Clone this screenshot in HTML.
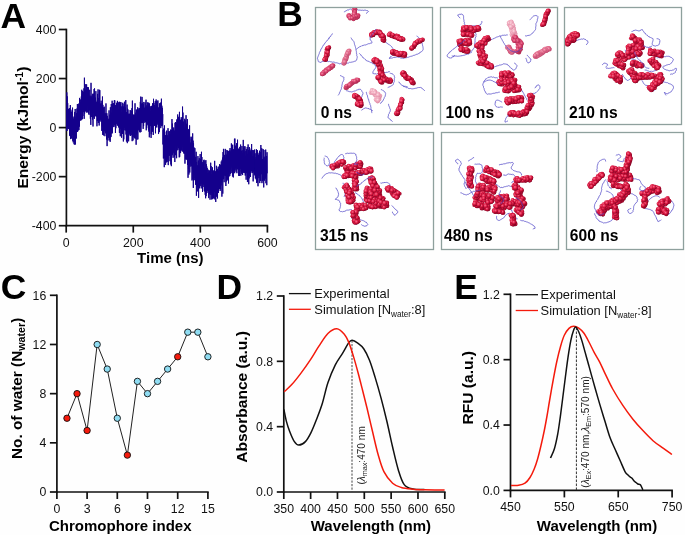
<!DOCTYPE html>
<html><head><meta charset="utf-8"><style>
html,body{margin:0;padding:0;background:#fff;}
svg{display:block;font-family:"Liberation Sans", sans-serif;will-change:transform;}
</style></head><body>
<svg width="685" height="535" viewBox="0 0 685 535">
<rect width="685" height="535" fill="#fefefe"/>
<text x="0.5" y="28.1" font-size="35.4" font-weight="bold" text-anchor="start" fill="#000" >A</text>
<text x="277.2" y="25.9" font-size="35.4" font-weight="bold" text-anchor="start" fill="#000" >B</text>
<text x="0.8" y="299.1" font-size="35.4" font-weight="bold" text-anchor="start" fill="#000" >C</text>
<text x="216.6" y="298.9" font-size="35.4" font-weight="bold" text-anchor="start" fill="#000" >D</text>
<text x="454.2" y="298.9" font-size="35.4" font-weight="bold" text-anchor="start" fill="#000" >E</text>
<line x1="66.4" y1="28.7" x2="66.4" y2="226.4" stroke="#111" stroke-width="1.7" />
<line x1="65.6" y1="225.6" x2="268.2" y2="225.6" stroke="#111" stroke-width="1.7" />
<line x1="58.8" y1="29.5" x2="66.4" y2="29.5" stroke="#111" stroke-width="1.7" />
<text x="56.4" y="33.8" font-size="12.3" font-weight="normal" text-anchor="end" fill="#111" >400</text>
<line x1="58.8" y1="78.55" x2="66.4" y2="78.55" stroke="#111" stroke-width="1.7" />
<text x="56.4" y="82.85" font-size="12.3" font-weight="normal" text-anchor="end" fill="#111" >200</text>
<line x1="58.8" y1="127.6" x2="66.4" y2="127.6" stroke="#111" stroke-width="1.7" />
<text x="56.4" y="131.9" font-size="12.3" font-weight="normal" text-anchor="end" fill="#111" >0</text>
<line x1="58.8" y1="176.65" x2="66.4" y2="176.65" stroke="#111" stroke-width="1.7" />
<text x="56.4" y="180.95" font-size="12.3" font-weight="normal" text-anchor="end" fill="#111" >-200</text>
<line x1="58.8" y1="225.7" x2="66.4" y2="225.7" stroke="#111" stroke-width="1.7" />
<text x="56.4" y="230" font-size="12.3" font-weight="normal" text-anchor="end" fill="#111" >-400</text>
<line x1="66.2" y1="225.6" x2="66.2" y2="232.6" stroke="#111" stroke-width="1.7" />
<text x="66.2" y="246.7" font-size="12.3" font-weight="normal" text-anchor="middle" fill="#111" >0</text>
<line x1="133.27" y1="225.6" x2="133.27" y2="232.6" stroke="#111" stroke-width="1.7" />
<text x="133.27" y="246.7" font-size="12.3" font-weight="normal" text-anchor="middle" fill="#111" >200</text>
<line x1="200.33" y1="225.6" x2="200.33" y2="232.6" stroke="#111" stroke-width="1.7" />
<text x="200.33" y="246.7" font-size="12.3" font-weight="normal" text-anchor="middle" fill="#111" >400</text>
<line x1="267.4" y1="225.6" x2="267.4" y2="232.6" stroke="#111" stroke-width="1.7" />
<text x="267.4" y="246.7" font-size="12.3" font-weight="normal" text-anchor="middle" fill="#111" >600</text>
<text x="170.3" y="263.4" font-size="15" font-weight="bold" text-anchor="middle" fill="#000" >Time (ns)</text>
<text transform="translate(27.9,127.6) rotate(-90) scale(1.04,1)" font-size="15" font-weight="bold" text-anchor="middle" fill="#000">Energy (kJmol<tspan font-size="10" dy="-5">-1</tspan><tspan dy="5">)</tspan></text>
<polyline fill="none" stroke="#14008c" stroke-width="1" stroke-linejoin="bevel" points="66.6,131.1 66.82,92.35 67.04,130.96 67.26,96.38 67.48,128.44 67.7,103.12 67.92,124.18 68.14,109.26 68.36,129.08 68.58,108.85 68.8,126.76 69.02,109.85 69.24,128.88 69.46,108.2 69.68,135.61 69.9,113.36 70.12,136.12 70.34,105.06 70.56,139.1 70.78,112.33 71,138.98 71.22,114.36 71.44,137.94 71.66,111.69 71.88,131.91 72.1,109.69 72.32,135.01 72.54,107.64 72.76,140.74 72.98,117.06 73.2,142.32 73.42,118.68 73.64,139.6 73.86,121.3 74.08,144.23 74.3,116.01 74.52,144.49 74.74,112.09 74.96,135.5 75.18,108.97 75.4,144.53 75.62,119.01 75.84,138.35 76.06,116.7 76.28,138.48 76.5,113.15 76.72,131.55 76.94,108.52 77.16,131.91 77.38,104 77.6,131.93 77.82,110.68 78.04,130.67 78.26,109.77 78.48,129.22 78.7,103.63 78.92,130.04 79.14,105.87 79.36,126.63 79.58,97.91 79.8,118.01 80.02,99.32 80.24,120.69 80.46,102.29 80.68,119.89 80.9,99.83 81.12,120.32 81.34,96.44 81.56,111.81 81.78,89.74 82,119.41 82.22,94.38 82.44,118.94 82.66,90.99 82.88,116.02 83.1,92.01 83.32,109.34 83.54,92.27 83.76,112.12 83.98,88.35 84.2,118.82 84.42,77.7 84.64,113.5 84.86,90.27 85.08,106.67 85.3,90.8 85.52,111.4 85.74,84.2 85.96,110.38 86.18,89.05 86.4,111.55 86.62,84.42 86.84,112.67 87.06,92.34 87.28,105.7 87.5,87.19 87.72,112.21 87.94,87.32 88.16,111.01 88.38,87.42 88.6,113.63 88.82,95.81 89.04,114.83 89.26,97.77 89.48,110.16 89.7,89.77 89.92,110.43 90.14,95.73 90.36,118.69 90.58,97.11 90.8,124.9 91.02,82.83 91.24,111.7 91.46,97.55 91.68,116.95 91.9,95.7 92.12,112.31 92.34,98.19 92.56,119.51 92.78,93.86 93,126.48 93.22,93.65 93.44,112.47 93.66,94.67 93.88,117.3 94.1,89.06 94.32,118.86 94.54,88.36 94.76,115.09 94.98,99.67 95.2,116.01 95.42,97.61 95.64,115.72 95.86,91.16 96.08,116.63 96.3,102.4 96.52,116.1 96.74,102.31 96.96,126.29 97.18,100.68 97.4,121.02 97.62,93.92 97.84,115.67 98.06,89.38 98.28,122.82 98.5,102.51 98.72,122.86 98.94,97.98 99.16,125.51 99.38,89.78 99.6,120.81 99.82,90.15 100.04,120.26 100.26,103.61 100.48,118.63 100.7,103.77 100.92,121.61 101.14,100.71 101.36,119.62 101.58,105.6 101.8,130.88 102.02,103.11 102.24,126.48 102.46,96.5 102.68,134.85 102.9,104.88 103.12,126.63 103.34,111.84 103.56,135.41 103.78,107.45 104,130.05 104.22,106.71 104.44,131.06 104.66,113.54 104.88,136.2 105.1,116.31 105.32,132.1 105.54,113.41 105.76,133.39 105.98,103.41 106.2,132.13 106.42,113.82 106.64,139.53 106.86,113.26 107.08,146.11 107.3,115.86 107.52,132.98 107.74,119.42 107.96,140.47 108.18,118.76 108.4,137.73 108.62,120.17 108.84,135.84 109.06,110.37 109.28,133.21 109.5,118.86 109.72,140.4 109.94,114.65 110.16,141.85 110.38,107.29 110.6,137.3 110.82,112.94 111.04,136.86 111.26,104.02 111.48,130.8 111.7,112.71 111.92,133.63 112.14,100.73 112.36,132.75 112.58,103.68 112.8,122.2 113.02,107.57 113.24,123.1 113.46,103.19 113.68,127.1 113.9,106.05 114.12,124.83 114.34,100.28 114.56,124.33 114.78,100.36 115,126.64 115.22,105.89 115.44,132.95 115.66,105.04 115.88,128.23 116.1,107.96 116.32,123.41 116.54,102.8 116.76,123.65 116.98,106.29 117.2,125.46 117.42,100.87 117.64,125.24 117.86,101.87 118.08,125.64 118.3,102.5 118.52,127.08 118.74,109.29 118.96,127.66 119.18,111.97 119.4,132.86 119.62,101.8 119.84,127.02 120.06,102.35 120.28,136.27 120.5,104 120.72,128.74 120.94,102.12 121.16,127.87 121.38,112.31 121.6,137.71 121.82,106.67 122.04,128.15 122.26,106.01 122.48,134 122.7,102.81 122.92,129.92 123.14,110.59 123.36,141.48 123.58,106.58 123.8,139.36 124.02,103.71 124.24,130.3 124.46,101.73 124.68,127.23 124.9,107.12 125.12,127.7 125.34,108.49 125.56,130.46 125.78,100.06 126,134.51 126.22,112.31 126.44,141.51 126.66,112.3 126.88,138.9 127.1,104.59 127.32,143.15 127.54,108.68 127.76,131.24 127.98,109.54 128.2,133 128.42,114.8 128.64,141.33 128.86,113.77 129.08,132.29 129.3,113.75 129.52,133.5 129.74,114.54 129.96,135.42 130.18,110.02 130.4,135.82 130.62,113.93 130.84,131 131.06,110.87 131.28,135.29 131.5,116.71 131.72,131.7 131.94,108.15 132.16,141.16 132.38,100.62 132.6,137.15 132.82,115.34 133.04,140.41 133.26,115.32 133.48,135.02 133.7,114.52 133.92,137.25 134.14,117.06 134.36,137.2 134.58,114.76 134.8,138.16 135.02,103.29 135.24,138.73 135.46,112.75 135.68,131.59 135.9,116.85 136.12,144.74 136.34,109.74 136.56,134.51 136.78,117.21 137,139.52 137.22,109.13 137.44,133.25 137.66,107.26 137.88,139.35 138.1,109.5 138.32,130.33 138.54,110.85 138.76,128.98 138.98,108.25 139.2,127.71 139.42,108.27 139.64,131.95 139.86,112.41 140.08,132.47 140.3,101.85 140.52,127.22 140.74,96.61 140.96,132.02 141.18,103.48 141.4,122.91 141.62,104.76 141.84,123.11 142.06,96.91 142.28,122.89 142.5,102.95 142.72,121.57 142.94,105.65 143.16,128.88 143.38,104.36 143.6,126.08 143.82,101.95 144.04,122.96 144.26,107.88 144.48,120.23 144.7,107.76 144.92,121.57 145.14,102.46 145.36,122.33 145.58,106.66 145.8,119.06 146.02,99.68 146.24,130.31 146.46,107.21 146.68,127.87 146.9,105.33 147.12,124.47 147.34,102.33 147.56,120.61 147.78,107.9 148,125.32 148.22,108 148.44,129.53 148.66,102.6 148.88,131.59 149.1,105.62 149.32,137.29 149.54,103.45 149.76,134.13 149.98,107.69 150.2,125.56 150.42,110.93 150.64,126.05 150.86,106.22 151.08,137.93 151.3,106.48 151.52,134.15 151.74,105.84 151.96,123.4 152.18,109.53 152.4,131.73 152.62,103.2 152.84,126.46 153.06,107.39 153.28,135.01 153.5,98.79 153.72,120.56 153.94,103.05 154.16,122.59 154.38,104.95 154.6,125.72 154.82,105.71 155.04,125.89 155.26,101.16 155.48,133.34 155.7,107.28 155.92,123.99 156.14,99.48 156.36,126.69 156.58,101.7 156.8,127.5 157.02,101.02 157.24,124.6 157.46,103.68 157.68,122.18 157.9,100.45 158.12,122.74 158.34,107.4 158.56,134.04 158.78,109.01 159,127.99 159.22,108.47 159.44,132.11 159.66,103.19 159.88,124.83 160.1,104.56 160.32,124.45 160.54,102.66 160.76,128.13 160.98,103.74 161.2,124.62 161.42,98.7 161.64,126.11 161.86,105.71 162.08,126.14 162.3,107.79 162.52,124.61 162.74,114.13 162.96,144.48 163.18,130.02 163.4,158.48 163.62,128.58 163.84,154.35 164.06,133.82 164.28,167.18 164.5,125.45 164.72,158.04 164.94,137.2 165.16,157.23 165.38,135.35 165.6,164.89 165.82,135.19 166.04,159.85 166.26,131.66 166.48,162.4 166.7,130.62 166.92,159.79 167.14,135.04 167.36,158.32 167.58,136.61 167.8,161.84 168.02,128.19 168.24,165.11 168.46,138.17 168.68,153.71 168.9,131.24 169.12,155.89 169.34,134.75 169.56,155.11 169.78,131.21 170,161.21 170.22,134.7 170.44,155.39 170.66,129.57 170.88,164.5 171.1,134.52 171.32,166.15 171.54,130.11 171.76,153.22 171.98,119.12 172.2,155.22 172.42,123.59 172.64,153.97 172.86,134.34 173.08,157.84 173.3,128.68 173.52,152.51 173.74,127.48 173.96,151.56 174.18,131.1 174.4,156.84 174.62,130.53 174.84,162.02 175.06,122.8 175.28,145.96 175.5,122.2 175.72,155.18 175.94,124.26 176.16,151.32 176.38,122.69 176.6,158.21 176.82,119.41 177.04,150.4 177.26,126.32 177.48,146.11 177.7,114.47 177.92,149.95 178.14,118.19 178.36,147.71 178.58,117.41 178.8,148.25 179.02,116.65 179.24,157.36 179.46,111.83 179.68,156.92 179.9,119.46 180.12,148.68 180.34,121.81 180.56,153.07 180.78,119.98 181,150.87 181.22,117.18 181.44,149.27 181.66,119.22 181.88,150.15 182.1,121.58 182.32,151.64 182.54,106.58 182.76,144.67 182.98,112.56 183.2,146.59 183.42,121.58 183.64,152.62 183.86,127.14 184.08,153.85 184.3,128.3 184.52,153.2 184.74,118.79 184.96,163.64 185.18,120.19 185.4,150.88 185.62,122.82 185.84,159.31 186.06,115.21 186.28,159.44 186.5,123.9 186.72,155.25 186.94,135.11 187.16,160.05 187.38,119.17 187.6,164.94 187.82,138.47 188.04,177.82 188.26,129.85 188.48,168.91 188.7,129.42 188.92,174.57 189.14,128.9 189.36,164.97 189.58,125.38 189.8,172.53 190.02,136.71 190.24,166.59 190.46,143.75 190.68,162.86 190.9,142.44 191.12,164.46 191.34,138.75 191.56,166.27 191.78,136.74 192,180.46 192.22,147.1 192.44,169.17 192.66,133.39 192.88,179.48 193.1,140.64 193.32,187.9 193.54,143.32 193.76,180.21 193.98,147.37 194.2,180.15 194.42,155.18 194.64,174.33 194.86,148.13 195.08,178.17 195.3,159.2 195.52,184.72 195.74,156.84 195.96,182.09 196.18,151.79 196.4,195.75 196.62,161.99 196.84,184.91 197.06,167.27 197.28,186.71 197.5,165.47 197.72,191.43 197.94,156.08 198.16,185.13 198.38,160.57 198.6,197.9 198.82,162.76 199.04,185.8 199.26,158.21 199.48,188.3 199.7,165.96 199.92,184.59 200.14,154.04 200.36,183.23 200.58,158.96 200.8,186.11 201.02,168.04 201.24,188.42 201.46,151.77 201.68,183.44 201.9,157.04 202.12,182.49 202.34,162.17 202.56,191.92 202.78,168.19 203,184.97 203.22,164.34 203.44,183.53 203.66,160.29 203.88,186.99 204.1,159.72 204.32,190.79 204.54,167.26 204.76,191.54 204.98,161.25 205.2,194.82 205.42,168.91 205.64,198.27 205.86,160.11 206.08,196.15 206.3,164.2 206.52,193.42 206.74,166.35 206.96,193.03 207.18,167.97 207.4,190.36 207.62,173.33 207.84,190.92 208.06,169.62 208.28,191.49 208.5,172.76 208.72,198.1 208.94,170.37 209.16,194.42 209.38,170.59 209.6,192.2 209.82,173.22 210.04,199.7 210.26,171.6 210.48,193.29 210.7,162.71 210.92,195.04 211.14,166.05 211.36,192.95 211.58,174.61 211.8,199.52 212.02,169.49 212.24,198.82 212.46,167.36 212.68,198.43 212.9,172.11 213.12,198.47 213.34,170.44 213.56,197.47 213.78,172.58 214,198.27 214.22,171.34 214.44,191.56 214.66,160.85 214.88,199.4 215.1,175.16 215.32,191.09 215.54,171.67 215.76,201.96 215.98,170.9 216.2,196.72 216.42,165.79 216.64,194.31 216.86,169.98 217.08,196.32 217.3,168.86 217.52,198.46 217.74,171.9 217.96,189.98 218.18,166.72 218.4,193.02 218.62,171.21 218.84,189.08 219.06,166.66 219.28,187.06 219.5,164.25 219.72,189 219.94,165.68 220.16,190.91 220.38,164.7 220.6,189.09 220.82,169.6 221.04,185.46 221.26,161.41 221.48,182.36 221.7,164.75 221.92,196.65 222.14,159.81 222.36,179.06 222.58,157.55 222.8,193.64 223.02,152.09 223.24,179.2 223.46,148.87 223.68,178.54 223.9,156.01 224.12,182.2 224.34,154.87 224.56,175.44 224.78,157.23 225,173.24 225.22,148.89 225.44,176.03 225.66,158.86 225.88,186 226.1,149.91 226.32,181.54 226.54,155.52 226.76,174.41 226.98,154.31 227.2,180.43 227.42,150.4 227.64,179.25 227.86,151.33 228.08,175.51 228.3,156.66 228.52,183.5 228.74,150.89 228.96,176.61 229.18,153.36 229.4,172.09 229.62,150.56 229.84,175.87 230.06,148.04 230.28,173.98 230.5,152.11 230.72,168.31 230.94,150.49 231.16,173.13 231.38,143.4 231.6,166.31 231.82,152.17 232.04,171.26 232.26,145.49 232.48,176.5 232.7,144.68 232.92,174.71 233.14,151.74 233.36,177.41 233.58,149.62 233.8,165.81 234.02,148.97 234.24,172.8 234.46,138.87 234.68,173.19 234.9,138.54 235.12,169.77 235.34,145.6 235.56,167.81 235.78,150.19 236,171.67 236.22,150.38 236.44,168.1 236.66,143.04 236.88,173.21 237.1,144.1 237.32,169.4 237.54,139.68 237.76,164.98 237.98,150.21 238.2,168.21 238.42,148.66 238.64,175.84 238.86,152.02 239.08,167.07 239.3,148.83 239.52,175.98 239.74,146.89 239.96,168.8 240.18,153.28 240.4,168.39 240.62,144.57 240.84,175.74 241.06,151.2 241.28,171.53 241.5,150.73 241.72,173.63 241.94,146.05 242.16,173.58 242.38,153.46 242.6,175.06 242.82,150.24 243.04,172.38 243.26,139.9 243.48,172.61 243.7,148.04 243.92,172.05 244.14,146.31 244.36,172.42 244.58,151.89 244.8,173.06 245.02,146.33 245.24,175.59 245.46,155.91 245.68,174.54 245.9,151.03 246.12,179.71 246.34,149.15 246.56,172.69 246.78,152.48 247,169.78 247.22,147.08 247.44,182.04 247.66,154.56 247.88,181.93 248.1,144.4 248.32,177.94 248.54,149.94 248.76,184.25 248.98,154.47 249.2,178.33 249.42,147.14 249.64,176 249.86,155.28 250.08,175.5 250.3,152.33 250.52,177 250.74,150.34 250.96,173.11 251.18,148.52 251.4,170.6 251.62,144.04 251.84,171.43 252.06,149.93 252.28,170.44 252.5,156.46 252.72,172.97 252.94,150.22 253.16,181.38 253.38,156.73 253.6,170.66 253.82,150.21 254.04,171.82 254.26,154.71 254.48,174.35 254.7,149.5 254.92,175.45 255.14,153.28 255.36,178.49 255.58,159.57 255.8,174.48 256.02,157.12 256.24,179.57 256.46,149.28 256.68,183.02 256.9,151.99 257.12,177.53 257.34,150.12 257.56,182.4 257.78,153.7 258,186.28 258.22,155.74 258.44,175.25 258.66,154.9 258.88,178.11 259.1,152.75 259.32,176 259.54,150.7 259.76,183.08 259.98,157.88 260.2,175.1 260.42,152.2 260.64,180.94 260.86,145.01 261.08,172.91 261.3,155.65 261.52,174.23 261.74,148.19 261.96,183.15 262.18,159.57 262.4,181.1 262.62,159.14 262.84,179.45 263.06,148.99 263.28,179.84 263.5,157.67 263.72,187.42 263.94,150.02 264.16,177.53 264.38,161.62 264.6,180.64 264.82,156.71 265.04,178.88 265.26,158.86 265.48,177.57 265.7,149.59 265.92,183.28 266.14,159.96 266.36,176.27 266.58,156.01 266.8,185.2 267.02,152.22 267.24,173.34"/>
<line x1="56.9" y1="294.5" x2="56.9" y2="492.8" stroke="#111" stroke-width="1.7" />
<line x1="56.1" y1="492" x2="208.7" y2="492" stroke="#111" stroke-width="1.7" />
<line x1="49.9" y1="492" x2="56.9" y2="492" stroke="#111" stroke-width="1.7" />
<text x="46.3" y="496.3" font-size="12.3" font-weight="normal" text-anchor="end" fill="#111" >0</text>
<line x1="49.9" y1="442.82" x2="56.9" y2="442.82" stroke="#111" stroke-width="1.7" />
<text x="46.3" y="447.12" font-size="12.3" font-weight="normal" text-anchor="end" fill="#111" >4</text>
<line x1="49.9" y1="393.65" x2="56.9" y2="393.65" stroke="#111" stroke-width="1.7" />
<text x="46.3" y="397.95" font-size="12.3" font-weight="normal" text-anchor="end" fill="#111" >8</text>
<line x1="49.9" y1="344.48" x2="56.9" y2="344.48" stroke="#111" stroke-width="1.7" />
<text x="46.3" y="348.78" font-size="12.3" font-weight="normal" text-anchor="end" fill="#111" >12</text>
<line x1="49.9" y1="295.3" x2="56.9" y2="295.3" stroke="#111" stroke-width="1.7" />
<text x="46.3" y="299.6" font-size="12.3" font-weight="normal" text-anchor="end" fill="#111" >16</text>
<line x1="56.9" y1="492" x2="56.9" y2="499" stroke="#111" stroke-width="1.7" />
<text x="56.9" y="513.2" font-size="12.3" font-weight="normal" text-anchor="middle" fill="#111" >0</text>
<line x1="87.1" y1="492" x2="87.1" y2="499" stroke="#111" stroke-width="1.7" />
<text x="87.1" y="513.2" font-size="12.3" font-weight="normal" text-anchor="middle" fill="#111" >3</text>
<line x1="117.3" y1="492" x2="117.3" y2="499" stroke="#111" stroke-width="1.7" />
<text x="117.3" y="513.2" font-size="12.3" font-weight="normal" text-anchor="middle" fill="#111" >6</text>
<line x1="147.5" y1="492" x2="147.5" y2="499" stroke="#111" stroke-width="1.7" />
<text x="147.5" y="513.2" font-size="12.3" font-weight="normal" text-anchor="middle" fill="#111" >9</text>
<line x1="177.7" y1="492" x2="177.7" y2="499" stroke="#111" stroke-width="1.7" />
<text x="177.7" y="513.2" font-size="12.3" font-weight="normal" text-anchor="middle" fill="#111" >12</text>
<line x1="207.9" y1="492" x2="207.9" y2="499" stroke="#111" stroke-width="1.7" />
<text x="207.9" y="513.2" font-size="12.3" font-weight="normal" text-anchor="middle" fill="#111" >15</text>
<text x="120.3" y="530.8" font-size="15" font-weight="bold" text-anchor="middle" fill="#000" >Chromophore index</text>
<text transform="translate(22.3,388.4) rotate(-90) scale(1.025,1)" font-size="15" font-weight="bold" text-anchor="middle" fill="#000">No. of water (N<tspan font-size="10.4" dy="3">water</tspan><tspan dy="-3">)</tspan></text>
<polyline fill="none" stroke="#222" stroke-width="1" points="66.97,418.24 77.03,393.65 87.1,430.53 97.17,344.48 107.23,369.06 117.3,418.24 127.37,455.12 137.43,381.36 147.5,393.65 157.57,381.36 167.63,369.06 177.7,356.77 187.77,332.18 197.83,332.18 207.9,356.77"/>
<circle cx="66.97" cy="418.24" r="3.2" fill="#f41a0c" stroke="#111" stroke-width="0.9"/>
<circle cx="77.03" cy="393.65" r="3.2" fill="#f41a0c" stroke="#111" stroke-width="0.9"/>
<circle cx="87.1" cy="430.53" r="3.2" fill="#f41a0c" stroke="#111" stroke-width="0.9"/>
<circle cx="97.17" cy="344.48" r="3.2" fill="#8fdcf2" stroke="#111" stroke-width="0.9"/>
<circle cx="107.23" cy="369.06" r="3.2" fill="#8fdcf2" stroke="#111" stroke-width="0.9"/>
<circle cx="117.3" cy="418.24" r="3.2" fill="#8fdcf2" stroke="#111" stroke-width="0.9"/>
<circle cx="127.37" cy="455.12" r="3.2" fill="#f41a0c" stroke="#111" stroke-width="0.9"/>
<circle cx="137.43" cy="381.36" r="3.2" fill="#8fdcf2" stroke="#111" stroke-width="0.9"/>
<circle cx="147.5" cy="393.65" r="3.2" fill="#8fdcf2" stroke="#111" stroke-width="0.9"/>
<circle cx="157.57" cy="381.36" r="3.2" fill="#8fdcf2" stroke="#111" stroke-width="0.9"/>
<circle cx="167.63" cy="369.06" r="3.2" fill="#8fdcf2" stroke="#111" stroke-width="0.9"/>
<circle cx="177.7" cy="356.77" r="3.2" fill="#f41a0c" stroke="#111" stroke-width="0.9"/>
<circle cx="187.77" cy="332.18" r="3.2" fill="#8fdcf2" stroke="#111" stroke-width="0.9"/>
<circle cx="197.83" cy="332.18" r="3.2" fill="#8fdcf2" stroke="#111" stroke-width="0.9"/>
<circle cx="207.9" cy="356.77" r="3.2" fill="#8fdcf2" stroke="#111" stroke-width="0.9"/>
<line x1="283.8" y1="295.2" x2="283.8" y2="492.8" stroke="#111" stroke-width="1.7" />
<line x1="283" y1="492" x2="445.6" y2="492" stroke="#111" stroke-width="1.7" />
<line x1="276.8" y1="492" x2="283.8" y2="492" stroke="#111" stroke-width="1.7" />
<text x="273.2" y="496.3" font-size="12.3" font-weight="normal" text-anchor="end" fill="#111" >0.0</text>
<line x1="276.8" y1="426.67" x2="283.8" y2="426.67" stroke="#111" stroke-width="1.7" />
<text x="273.2" y="430.97" font-size="12.3" font-weight="normal" text-anchor="end" fill="#111" >0.4</text>
<line x1="276.8" y1="361.33" x2="283.8" y2="361.33" stroke="#111" stroke-width="1.7" />
<text x="273.2" y="365.63" font-size="12.3" font-weight="normal" text-anchor="end" fill="#111" >0.8</text>
<line x1="276.8" y1="296" x2="283.8" y2="296" stroke="#111" stroke-width="1.7" />
<text x="273.2" y="300.3" font-size="12.3" font-weight="normal" text-anchor="end" fill="#111" >1.2</text>
<line x1="283.8" y1="492" x2="283.8" y2="499" stroke="#111" stroke-width="1.7" />
<text x="283.8" y="512.7" font-size="12.3" font-weight="normal" text-anchor="middle" fill="#111" >350</text>
<line x1="310.63" y1="492" x2="310.63" y2="499" stroke="#111" stroke-width="1.7" />
<text x="310.63" y="512.7" font-size="12.3" font-weight="normal" text-anchor="middle" fill="#111" >400</text>
<line x1="337.47" y1="492" x2="337.47" y2="499" stroke="#111" stroke-width="1.7" />
<text x="337.47" y="512.7" font-size="12.3" font-weight="normal" text-anchor="middle" fill="#111" >450</text>
<line x1="364.3" y1="492" x2="364.3" y2="499" stroke="#111" stroke-width="1.7" />
<text x="364.3" y="512.7" font-size="12.3" font-weight="normal" text-anchor="middle" fill="#111" >500</text>
<line x1="391.13" y1="492" x2="391.13" y2="499" stroke="#111" stroke-width="1.7" />
<text x="391.13" y="512.7" font-size="12.3" font-weight="normal" text-anchor="middle" fill="#111" >550</text>
<line x1="417.97" y1="492" x2="417.97" y2="499" stroke="#111" stroke-width="1.7" />
<text x="417.97" y="512.7" font-size="12.3" font-weight="normal" text-anchor="middle" fill="#111" >600</text>
<line x1="444.8" y1="492" x2="444.8" y2="499" stroke="#111" stroke-width="1.7" />
<text x="444.8" y="512.7" font-size="12.3" font-weight="normal" text-anchor="middle" fill="#111" >650</text>
<text x="370.9" y="531.2" font-size="15" font-weight="bold" text-anchor="middle" fill="#000" >Wavelength (nm)</text>
<text transform="translate(246.8,397) rotate(-90) scale(1.04,1)" font-size="15" font-weight="bold" text-anchor="middle" fill="#000">Absorbance (a.u.)</text>
<line x1="288.9" y1="293.6" x2="310.8" y2="293.6" stroke="#111" stroke-width="1.3" />
<line x1="288.9" y1="309.3" x2="310.8" y2="309.3" stroke="#f41a0c" stroke-width="1.3" />
<text x="314.3" y="298.2" font-size="12.9" font-weight="normal" text-anchor="start" fill="#111" >Experimental</text>
<text x="314.3" y="314" font-size="12.9" font-weight="normal" text-anchor="start" fill="#111" >Simulation [N<tspan font-size="8.2" dy="2.5">water</tspan><tspan dy="-2.5">:8]</tspan></text>
<line x1="352" y1="340.5" x2="352" y2="492" stroke="#444" stroke-width="1" stroke-dasharray="2.2,1.3"/>
<text transform="translate(364.6,484.6) rotate(-90)" font-size="10.1" fill="#222">(<tspan font-style="italic">λ</tspan><tspan font-size="7.2" dy="2">max</tspan><tspan dy="-2">:470 nm</tspan></text>
<path d="M283.9,409.5 C284.32,411.48 285.43,417.73 286.4,421.4 C287.37,425.07 288.4,428.17 289.7,431.5 C291,434.83 292.7,439.13 294.2,441.4 C295.7,443.67 296.83,445.07 298.7,445.1 C300.57,445.13 303.35,443.68 305.4,441.6 C307.45,439.52 309.13,436.33 311,432.6 C312.87,428.87 314.72,424.05 316.6,419.2 C318.48,414.35 320.42,409.57 322.3,403.5 C324.18,397.43 325.73,389.23 327.9,382.8 C330.07,376.37 332.82,369.88 335.3,364.9 C337.78,359.92 340.55,356.62 342.8,352.9 C345.05,349.18 347.25,344.7 348.8,342.6 C350.35,340.5 350.6,340.2 352.1,340.3 C353.6,340.4 355.87,341.8 357.8,343.2 C359.73,344.6 361.75,345.87 363.7,348.7 C365.65,351.53 367.58,355.38 369.5,360.2 C371.42,365.02 373.28,371.32 375.2,377.6 C377.12,383.88 379.07,390.67 381,397.9 C382.93,405.13 384.87,412.82 386.8,421 C388.73,429.18 390.67,438.8 392.6,447 C394.53,455.2 396.47,463.93 398.4,470.2 C400.33,476.47 401.78,481.47 404.2,484.6 C406.62,487.73 409.53,488.17 412.9,489 C416.27,489.83 422.48,489.5 424.4,489.6" fill="none" stroke="#111" stroke-width="1.5"/>
<path d="M284.2,391.8 C285.5,390.55 289.2,387.42 292,384.3 C294.8,381.18 298,377.08 301,373.1 C304,369.12 307.02,364.88 310,360.4 C312.98,355.92 315.92,350.68 318.9,346.2 C321.88,341.72 324.92,336.42 327.9,333.5 C330.88,330.58 334.07,328.58 336.8,328.7 C339.53,328.82 342.3,331.92 344.3,334.2 C346.3,336.48 347.3,338.78 348.8,342.4 C350.3,346.02 351.77,350.88 353.3,355.9 C354.83,360.92 356.47,366.82 358,372.5 C359.53,378.18 361,384.08 362.5,390 C364,395.92 365.35,401.17 367,408 C368.65,414.83 370.55,423.25 372.4,431 C374.25,438.75 376.18,447.73 378.1,454.5 C380.02,461.27 381.48,466.82 383.9,471.6 C386.32,476.38 389.7,480.55 392.6,483.2 C395.5,485.85 397.92,486.5 401.3,487.5 C404.68,488.5 409.05,488.82 412.9,489.2 C416.75,489.58 419.12,489.65 424.4,489.8 C429.68,489.95 441.23,490.05 444.6,490.1" fill="none" stroke="#f41a0c" stroke-width="1.5"/>
<line x1="510.5" y1="293.5" x2="510.5" y2="491.2" stroke="#111" stroke-width="1.7" />
<line x1="509.7" y1="490.4" x2="672.9" y2="490.4" stroke="#111" stroke-width="1.7" />
<line x1="503.5" y1="490.4" x2="510.5" y2="490.4" stroke="#111" stroke-width="1.7" />
<text x="499.9" y="494.7" font-size="12.3" font-weight="normal" text-anchor="end" fill="#111" >0.0</text>
<line x1="503.5" y1="425.03" x2="510.5" y2="425.03" stroke="#111" stroke-width="1.7" />
<text x="499.9" y="429.33" font-size="12.3" font-weight="normal" text-anchor="end" fill="#111" >0.4</text>
<line x1="503.5" y1="359.67" x2="510.5" y2="359.67" stroke="#111" stroke-width="1.7" />
<text x="499.9" y="363.97" font-size="12.3" font-weight="normal" text-anchor="end" fill="#111" >0.8</text>
<line x1="503.5" y1="294.3" x2="510.5" y2="294.3" stroke="#111" stroke-width="1.7" />
<text x="499.9" y="298.6" font-size="12.3" font-weight="normal" text-anchor="end" fill="#111" >1.2</text>
<line x1="510.5" y1="490.4" x2="510.5" y2="497.4" stroke="#111" stroke-width="1.7" />
<text x="510.5" y="511" font-size="12.3" font-weight="normal" text-anchor="middle" fill="#111" >450</text>
<line x1="564.37" y1="490.4" x2="564.37" y2="497.4" stroke="#111" stroke-width="1.7" />
<text x="564.37" y="511" font-size="12.3" font-weight="normal" text-anchor="middle" fill="#111" >550</text>
<line x1="618.23" y1="490.4" x2="618.23" y2="497.4" stroke="#111" stroke-width="1.7" />
<text x="618.23" y="511" font-size="12.3" font-weight="normal" text-anchor="middle" fill="#111" >650</text>
<line x1="672.1" y1="490.4" x2="672.1" y2="497.4" stroke="#111" stroke-width="1.7" />
<text x="672.1" y="511" font-size="12.3" font-weight="normal" text-anchor="middle" fill="#111" >750</text>
<text x="597" y="531" font-size="15" font-weight="bold" text-anchor="middle" fill="#000" >Wavelength (nm)</text>
<text transform="translate(472.9,387.8) rotate(-90) scale(1.04,1)" font-size="15" font-weight="bold" text-anchor="middle" fill="#000">RFU (a.u.)</text>
<line x1="515.7" y1="294.7" x2="538" y2="294.7" stroke="#111" stroke-width="1.3" />
<line x1="515.7" y1="310.5" x2="538" y2="310.5" stroke="#f41a0c" stroke-width="1.3" />
<text x="540.6" y="299.3" font-size="12.9" font-weight="normal" text-anchor="start" fill="#111" >Experimental</text>
<text x="540.6" y="315" font-size="12.9" font-weight="normal" text-anchor="start" fill="#111" >Simulation [N<tspan font-size="8.2" dy="2.5">water</tspan><tspan dy="-2.5">:8]</tspan></text>
<line x1="576.4" y1="327.5" x2="576.4" y2="490.4" stroke="#333" stroke-width="1" stroke-dasharray="2.6,1.4"/>
<text transform="translate(589.4,487.7) rotate(-90)" font-size="10.1" fill="#222">(<tspan font-style="italic">λ</tspan><tspan font-size="7.2" dy="2">Ex</tspan><tspan dy="-2">:470 nm,</tspan><tspan font-style="italic">λ</tspan><tspan font-size="7.2" dy="2">Em</tspan><tspan dy="-2">:570 nm)</tspan></text>
<path d="M511,485.4 C512.27,485.38 516.27,485.67 518.6,485.3 C520.93,484.93 523.1,484.5 525,483.2 C526.9,481.9 528.47,479.87 530,477.5 C531.53,475.13 532.93,472.08 534.2,469 C535.47,465.92 536.47,462.92 537.6,459 C538.73,455.08 539.88,450.25 541,445.5 C542.12,440.75 543.3,435.42 544.3,430.5 C545.3,425.58 546.13,420.92 547,416 C547.87,411.08 548.48,406.92 549.5,401 C550.52,395.08 551.88,387.08 553.1,380.5 C554.32,373.92 555.55,367.22 556.8,361.5 C558.05,355.78 559.35,350.57 560.6,346.2 C561.85,341.83 562.9,338.27 564.3,335.3 C565.7,332.33 567.45,329.9 569,328.4 C570.55,326.9 571.97,326.35 573.6,326.3 C575.23,326.25 577.07,326.93 578.8,328.1 C580.53,329.27 582.27,330.9 584,333.3 C585.73,335.7 587.47,339.23 589.2,342.5 C590.93,345.77 592.65,349.63 594.4,352.9 C596.15,356.17 597.92,358.65 599.7,362.1 C601.48,365.55 602.93,369.12 605.1,373.6 C607.27,378.08 609.75,383.7 612.7,389 C615.65,394.3 619.43,400.37 622.8,405.4 C626.17,410.43 629.55,415 632.9,419.2 C636.25,423.4 639.55,427.02 642.9,430.6 C646.25,434.18 649.63,437.77 653,440.7 C656.37,443.63 659.95,445.9 663.1,448.2 C666.25,450.5 670.43,453.45 671.9,454.5" fill="none" stroke="#f41a0c" stroke-width="1.5"/>
<path d="M550.5,458 C551.15,456.45 553.18,452.77 554.4,448.7 C555.62,444.63 556.82,438.92 557.8,433.6 C558.78,428.28 559.5,422.57 560.3,416.8 C561.1,411.03 561.78,405.38 562.6,399 C563.42,392.62 564.3,385.43 565.2,378.5 C566.1,371.57 567.07,363.72 568,357.4 C568.93,351.08 569.87,345.12 570.8,340.6 C571.73,336.08 572.77,332.55 573.6,330.3 C574.43,328.05 574.93,326.82 575.8,327.1 C576.67,327.38 577.77,329.67 578.8,332 C579.83,334.33 580.92,337.62 582,341.1 C583.08,344.58 584.2,348.97 585.3,352.9 C586.4,356.83 587.52,360.78 588.6,364.7 C589.68,368.62 590.73,372.57 591.8,376.4 C592.87,380.23 593.62,382.87 595,387.7 C596.38,392.53 598.42,399.72 600.1,405.4 C601.78,411.08 603.42,416.35 605.1,421.8 C606.78,427.25 608.52,433.48 610.2,438.1 C611.88,442.72 613.53,445.72 615.2,449.5 C616.87,453.28 618.52,457.02 620.2,460.8 C621.88,464.58 624,469.83 625.3,472.2 C626.6,474.57 627.17,474.17 628,475 C628.83,475.83 629.63,476.67 630.3,477.2 C630.97,477.73 631.37,477.57 632,478.2 C632.63,478.83 633.43,480.28 634.1,481 C634.77,481.72 635.37,482 636,482.5 C636.63,483 637.17,483.62 637.9,484 C638.63,484.38 639.57,483.83 640.4,484.8 C641.23,485.77 642.48,488.97 642.9,489.8" fill="none" stroke="#111" stroke-width="1.5"/>
<defs><radialGradient id="gr" cx="0.38" cy="0.35" r="0.7"><stop offset="0" stop-color="#f8708f"/><stop offset="0.5" stop-color="#dc163f"/><stop offset="1" stop-color="#7c0020"/></radialGradient><radialGradient id="gf0" cx="0.38" cy="0.35" r="0.7"><stop offset="0" stop-color="#f8b0c4"/><stop offset="0.5" stop-color="#e46a8e"/><stop offset="1" stop-color="#b8486c"/></radialGradient><radialGradient id="gm" cx="0.38" cy="0.35" r="0.7"><stop offset="0" stop-color="#f48aa4"/><stop offset="0.5" stop-color="#d8406c"/><stop offset="1" stop-color="#a8284e"/></radialGradient><radialGradient id="gf" cx="0.38" cy="0.35" r="0.7"><stop offset="0" stop-color="#f6a6bc"/><stop offset="0.5" stop-color="#e26c8c"/><stop offset="1" stop-color="#c04a70"/></radialGradient><radialGradient id="gff" cx="0.38" cy="0.35" r="0.7"><stop offset="0" stop-color="#fcd8e0"/><stop offset="0.5" stop-color="#f0a8bc"/><stop offset="1" stop-color="#dc88a2"/></radialGradient></defs>
<rect x="315.5" y="7.5" width="117" height="117" fill="#fff" stroke="#8ea09d" stroke-width="1.3"/>
<clipPath id="cp0"><rect x="316.2" y="8.2" width="115.6" height="115.6"/></clipPath>
<g clip-path="url(#cp0)">
<polyline fill="none" stroke="#5048c8" stroke-opacity="0.8" stroke-width="0.95" stroke-linejoin="round" points="343.9,11.9 344.5,11.7 344.7,11.6 345,11.3 345.8,11.1 346.1,10.6 346.8,10.5 347.8,9.8 348.6,10 349.2,9.6 349.6,9.1 350.5,9 350.9,9.1 351.4,9.2 352.2,9.4 352.8,9.3 353.5,9.4 354.1,9.3 355,9.7 355.5,9.7 355.9,9.5 356.6,9.6 357.5,9.8 358.1,9.9 358.8,10.2 359,10 360.1,10.2 360.8,10.2 361.1,10.3 362.2,10.2 362.6,10.2 363.8,10.4 364.1,10.2 364.8,10.2 365.8,10.2 366.3,10.4 366.7,10.6 367.1,10.7 367.5,10.6 367.8,10.7 368.5,11.4 367.9,12 367.2,12.4 366.8,13.1 366,13.6"/>
<polyline fill="none" stroke="#5048c8" stroke-opacity="0.8" stroke-width="0.95" stroke-linejoin="round" points="332.4,33.6 332.5,33.9 332,34.1 331.6,34.8 331.3,35.2 331,35.6 330.8,36.2 330.1,37 329.4,37.2 329.3,38.3 328.6,38.3 328.6,39.1 328,39.5 328,39.8 327.4,40 326.8,40.9 326.5,41.2 326.1,41.8 325.9,42 325.3,42.7 324.8,43 324.7,43.8 324.3,44.1 324.1,44.6 323.3,45.1 323.1,45.6 322.7,46.3 322.5,46.7 322.1,47.6 322.1,48 321.7,48.5 321.1,48.8 320.7,49.9 320.7,50.5 320.1,50.9 320,51.6 319.6,52.3 319.2,52.7 319.3,53.5 319,53.9 318.8,54.6 318.4,55.1 318.4,55.7 318,56.1 318.1,56.5 317.8,56.9 317.7,57.4 317.4,58.3 317.8,59.3 317.8,59.8 318.1,60.5 318.2,61.2 318.4,61.6 318.8,61.9 319.4,62 320,62.3 320.5,62.5 320.9,61.9 321.6,61.9 322.2,61.4 323.3,61.4 323.8,61.3 324.6,61.2 325.1,61.1 325.9,61.3 326.6,61.1 327,61.1 327.4,61.3 328.4,61.6 329,61.7 329.5,61.4 330.2,61.6 330.8,61.8 331.7,61.9 332.2,62.2 333.2,62.1 333.4,62 334.4,62.2 334.9,62.6 335.3,62.8 335.8,62.7 336.6,62.8 337.4,63 337.7,63.1 338.6,63.4 339.2,63.7 339.9,63.9 340.5,63.6 341,63.7 341.3,63.9 342.3,63.8 342.7,63.8 343.5,63.9 344.1,63.9 344.6,63.8 345.5,63.4 346.1,63.6 346.3,63.3 347.2,63.3 347.7,63 348.5,63 349.1,62.6 349.5,62.3 350.1,62.5 350.6,62.3 351.1,62.2 352.2,62.1 352.7,61.9 353.3,61.8 354.3,61.4 354.5,61.3 355.4,61.3 355.8,60.6 356.4,60.3 356.8,59.8 356.7,59.7 356.7,58.9 357,58.7 357.2,58.1 357.2,57.3 357.2,56.5 356.8,56 356.7,55.4 356.8,54.6 356.8,54 356.4,53.2 356.6,52.7 356.1,52.1 356.4,51.3 356.1,50.5 356,50 355.9,49.2 356,48.8 355.6,48.3 355.5,47.5 355.4,46.7 355.2,46.3 355.2,45.9 354.7,45.1 354.5,44.5 354.7,44.2 354.3,43.4 354,43 354.2,42.3 353.8,41.5 353.2,40.9 353,40.3 352.4,39.9 351.9,39.4 351.6,38.8 351.3,38.2 351.2,37.9 350.9,37.6"/>
<polyline fill="none" stroke="#5048c8" stroke-opacity="0.8" stroke-width="0.95" stroke-linejoin="round" points="359.3,53.3 359.6,53.7 359.8,53.9 360.4,54.4 360.6,54.9 361.2,55 361.4,55.8 361.7,56.2 362.1,56.6 362.8,57.1 363.2,58 363.9,58.3 364.6,58.8 365.1,59.3 365.5,59.4 365.8,60.1 366.1,60.6 366.7,60.7 367.3,61 368.1,61.1 368.9,61.5 369.2,61.9 369.7,61.9 370.4,62.3 370.8,62.6 371.3,62.5 371.8,62.7 372.2,63.4 372.7,63.7 373.6,63.7 374.4,64.6 374.5,65 375.1,65.3 375.8,65.7 375.8,66.6 376,67 376,67.6 375.6,67.8 375.2,68.6 374.6,69 374.2,69.7 373.7,70.6 373.3,71.1 373,71.7 372.9,72.3 372.9,73 372.9,73 372.9,73.5 373.6,73.6 373.8,73.5 374.5,73.8 375.1,73.9 375.9,73.7 376.3,74.1 377.4,74 377.7,73.6 378.6,73.7 379.5,73.5 380.2,73.5 380.7,73.7 381.6,73.6 382.1,73.5 382.7,73.3 383.6,73.4 384,72.9 385,72.9 385.7,72.5 386.2,72.4 387.1,72.2 387.6,72.3 388,71.9 388.8,71.9 389.1,71.5 389.3,71.6 389.6,71.1"/>
<polyline fill="none" stroke="#5048c8" stroke-opacity="0.8" stroke-width="0.95" stroke-linejoin="round" points="386,42.5 386.3,42.6 386.8,42.8 387,43.4 387.5,43.6 388.4,44.2 388.8,44.3 389.5,45 390.1,45.2 390.8,45.9 391.4,46.6 391.9,46.8 392.2,47.2 392.3,47.8 392.9,48.6 392.8,49 393,49.6 393.2,50.2 393.2,51 393.6,51.6 393.7,52.2 393.3,52.9 393.6,53.2 393.1,53.9 393.1,54.5 392.8,55.2 392.2,55.5 391.4,56.4 390.5,56.6 390.2,57.5 389.4,57.8 389.2,58.1 389.5,58.1 389.5,58.5 390,58.4 390.4,58.2 391.3,58.2 391.8,58 392.6,57.9 393.4,57.5 394.2,57.5 395,57.4 395.7,57.3 396.5,57 396.9,57 397.6,56.9 398,56.9 398.8,57.4 399.2,57.2 399.6,57.5 400.3,58 400.7,57.8 401.3,58.1 402.3,58 402.5,58.2 403.5,58.4 403.7,58 404.4,58 405,58.1 405.7,57.7 406.1,57.6 406.8,57.7 407.4,57.4 408.3,57.2 408.7,57.2 409.6,56.7 410,56.8 410.6,56.3 410.9,56.5 411.9,56 412.4,55.9 412.9,55.9 413.7,55.3 414,55.3 414.8,55.2 415.6,54.9 415.9,54.5 416.5,54.3 417.4,54.2 417.8,54.2 418.1,53.7 418.5,53.6 419,53.2 420,52.9 420.2,52.3 421.1,51.8 421.5,51.6 422.2,51.2 422.5,50.6 422.8,50.2 423.1,49.5 423.3,48.9 423.2,48.6 423,48.2 423,47.4 422.8,46.8 422.9,46.4 422.7,45.8 422.4,45 422.4,44.6 422.4,43.8 421.8,43 421.9,42.3 421.6,41.8 421.1,41.5 421.3,40.6 421,40.2 420.5,39.7 420,39 419.6,38.6 419,37.9 418.7,37.5 418.3,37.2 417.7,36.7 417.3,36.3 416.6,36 416.6,36"/>
<polyline fill="none" stroke="#5048c8" stroke-opacity="0.8" stroke-width="0.95" stroke-linejoin="round" points="340,75.2 340.6,75.7 341.2,75.8 341.5,76.2 342.3,76.6 343,76.9 343.8,77.2 344,77.7 343.7,78.2 344.2,79.1 343.9,79.4 343.7,80.3 343.3,80.8 343.3,81.2 342.7,82.1 342.4,82.7 342.4,83.3 342.2,83.9 342.1,84.6 342,85.1 341.8,85.8 341.9,86.6 341.5,87.2 341.4,87.9 341.4,88.6 341.1,89.3 341,89.9 340.6,90.3 340.4,91.2 340.1,91.6 339.8,92.5 339.4,92.7 339.3,93.7 339,94.2 338.7,94.5 338.5,94.9 338.1,95.4"/>
<polyline fill="none" stroke="#5048c8" stroke-opacity="0.8" stroke-width="0.95" stroke-linejoin="round" points="346.1,90.6 346.2,90.8 346.9,90.7 347.3,90.9 347.9,90.9 348.8,91.5 349.4,91.6 349.9,91.7 350.5,91.7 351.4,91.9 351.8,91.9 352.5,91.7 353.5,91.3 353.7,91.3 354.4,91 355.3,91.1 355.7,90.6 356.4,90.1 356.8,90.3 357.5,89.8 358.4,89.8 358.7,89.2 359.1,89.5 359.9,89.1 360.5,89.4 361,89.7 361.7,90.6 361.8,91 362.1,91.7 362.3,92 362.9,92.7 363,93.5 362.8,93.8 362.6,94.9 362.2,95.2 361.9,96 361.9,96.6 361.4,97.1 361.5,97.7"/>
<polyline fill="none" stroke="#5048c8" stroke-opacity="0.8" stroke-width="0.95" stroke-linejoin="round" points="380.9,89.7 381.5,89.7 382,89.8 382.3,90.1 382.9,90.5 383.8,90.9 384.2,91.4 384.6,91.9 385.1,92.1 385.3,92.9 385.7,93.4 385.3,93.8 385.4,94.3 385.6,94.8 385.2,95.8 385.2,96.2 384.7,97.1 384.3,97.5 384.4,98.1 383.9,98.7 383.7,99.1 383.2,100.2 383.1,100.7 382.4,101 382.1,101.6 381.6,102.4 381.1,102.6 381,103.1 380.2,103.4 380.3,103.5"/>
<polyline fill="none" stroke="#5048c8" stroke-opacity="0.8" stroke-width="0.95" stroke-linejoin="round" points="388,103.8 388.4,104.1 388.6,104.5 388.6,105.2 388.9,105.8 389.1,106.2 389.3,107 389.6,107.5 389.8,108.3 390,109 390.5,109.8 390.5,110.1 390.2,110.7 390.2,111.4 389.7,111.9 389.4,112.6 389.2,113.6 389,113.9 388.5,114.4 388.6,115.1 388.3,115.9 388.3,116.1 388,116.8 388.1,117.6 388.5,118.1 389.1,118.3 389.5,119 389.9,119.5 390.8,119.9 391.2,120.6 391.8,120.8 392.3,121.3 392.6,121.7"/>
<polyline fill="none" stroke="#5048c8" stroke-opacity="0.8" stroke-width="0.95" stroke-linejoin="round" points="398.5,82 399.1,82.1 399.4,82.3 399.4,83 399.9,83.5 400.7,83.9 400.9,84.4 401.6,84.9 401.9,85.4 402.6,85.5 403.2,85.9 403.9,86.1 404.6,86.3 405.5,86.2 405.8,86.6 406.4,86.6 407.1,86.7 407.6,86.8"/>
<polyline fill="none" stroke="#5048c8" stroke-opacity="0.8" stroke-width="0.95" stroke-linejoin="round" points="361.3,110.3 361.8,110.1 362.2,109.7 362.9,109.4 363.3,108.9 364,108.5 364.8,108.2 365.3,107.9 366,108.2 366.6,108.1 367.5,108.3 367.9,108.7 369,108.6 369.3,109.1 370.3,109.4 370.9,109.6 371.5,110 371.9,110.5 372.6,110.7 372.8,110.7"/>
<g fill="url(#gff)">
<circle cx="376.1" cy="99.5" r="2.4"/>
<circle cx="372.3" cy="92" r="2"/>
<circle cx="376.4" cy="94.3" r="1.9"/>
<circle cx="377.7" cy="93.7" r="2.1"/>
<circle cx="370.8" cy="92.8" r="2.1"/>
<circle cx="373.7" cy="93.2" r="2"/>
<circle cx="375.7" cy="94.3" r="2.1"/>
<circle cx="371.9" cy="90.1" r="2.1"/>
<circle cx="378.4" cy="96.8" r="2"/>
<circle cx="375.2" cy="91.4" r="2"/>
<circle cx="374.6" cy="94.7" r="2.1"/>
<circle cx="378.8" cy="97.5" r="2.4"/>
<circle cx="379.4" cy="99.1" r="2.1"/>
<circle cx="378.8" cy="97.1" r="2.1"/>
<circle cx="374" cy="91.4" r="2"/>
<circle cx="372.1" cy="91.8" r="2.2"/>
<circle cx="378.7" cy="97" r="2.1"/>
<circle cx="380.2" cy="95.8" r="2.1"/>
<circle cx="373" cy="90.4" r="2"/>
<circle cx="375.3" cy="94.8" r="1.9"/>
<circle cx="371.9" cy="90.8" r="2.2"/>
<circle cx="378.3" cy="94.1" r="2.2"/>
<circle cx="378.3" cy="95.3" r="2.1"/>
<circle cx="377.6" cy="101.1" r="2.3"/>
<circle cx="374.1" cy="91" r="2.3"/>
<circle cx="372.7" cy="92.9" r="1.9"/>
<circle cx="378" cy="99.5" r="2"/>
<circle cx="376" cy="95" r="2.5"/>
<circle cx="379" cy="96.9" r="2.4"/>
<circle cx="376.8" cy="98.1" r="2"/>
<circle cx="374.9" cy="93" r="2.3"/>
<circle cx="378.5" cy="97.3" r="2"/>
<circle cx="378.3" cy="97.7" r="2.1"/>
<circle cx="378.1" cy="95.1" r="2.4"/>
<circle cx="376.9" cy="100.2" r="2.1"/>
<circle cx="378" cy="100.3" r="2.4"/>
</g>
<g fill="url(#gf)">
<circle cx="346.2" cy="58.9" r="2.2"/>
<circle cx="349.2" cy="50.8" r="2.4"/>
<circle cx="346.4" cy="54.8" r="2"/>
<circle cx="348.9" cy="52.5" r="2"/>
<circle cx="348.1" cy="51.8" r="2.5"/>
<circle cx="344.4" cy="59.8" r="2.2"/>
<circle cx="345.4" cy="60.1" r="2.3"/>
<circle cx="343.9" cy="62.6" r="2.2"/>
<circle cx="347.1" cy="56.7" r="1.9"/>
<circle cx="347.2" cy="53.9" r="2.4"/>
<circle cx="344.4" cy="61.8" r="2.5"/>
<circle cx="345.8" cy="57.6" r="2.2"/>
<circle cx="345.8" cy="58.6" r="2.5"/>
<circle cx="343.9" cy="63.4" r="2"/>
<circle cx="344.3" cy="62.5" r="2.1"/>
<circle cx="348.3" cy="52.9" r="2.2"/>
<circle cx="346.4" cy="56.6" r="2.2"/>
<circle cx="346" cy="57.8" r="2.4"/>
<circle cx="346.6" cy="55.4" r="2"/>
<circle cx="348.7" cy="51.3" r="2"/>
<circle cx="344" cy="62.9" r="2.5"/>
<circle cx="348.6" cy="53.5" r="2.2"/>
<circle cx="344.5" cy="61.9" r="2.1"/>
<circle cx="347.4" cy="53.4" r="2"/>
</g>
<g fill="url(#gm)">
<circle cx="346.8" cy="86.8" r="2.1"/>
<circle cx="356.3" cy="81.4" r="2.2"/>
<circle cx="352.9" cy="82.8" r="1.9"/>
<circle cx="324.9" cy="71.6" r="2.3"/>
<circle cx="326.2" cy="70" r="2.4"/>
<circle cx="323" cy="73.5" r="2.1"/>
<circle cx="356.6" cy="80.1" r="1.9"/>
<circle cx="354.3" cy="13.4" r="2.1"/>
<circle cx="357.7" cy="15.8" r="2.2"/>
<circle cx="351.6" cy="83.1" r="2.1"/>
<circle cx="327.7" cy="69.1" r="2.3"/>
<circle cx="352.2" cy="17.6" r="2.2"/>
<circle cx="354.8" cy="9" r="2.5"/>
<circle cx="350.3" cy="16.8" r="2.4"/>
<circle cx="354.6" cy="13.5" r="2.1"/>
<circle cx="356.4" cy="79.7" r="2.2"/>
<circle cx="354.3" cy="11.4" r="2.1"/>
<circle cx="353.4" cy="81" r="2"/>
<circle cx="355.4" cy="81.5" r="2.3"/>
<circle cx="349.1" cy="15.3" r="2.1"/>
<circle cx="330.3" cy="67.8" r="2.3"/>
<circle cx="328.6" cy="68.2" r="2.3"/>
<circle cx="351.4" cy="83.4" r="2.3"/>
<circle cx="330" cy="66.7" r="1.9"/>
<circle cx="330.7" cy="66.6" r="2.1"/>
<circle cx="345.8" cy="87.7" r="2.3"/>
<circle cx="354.8" cy="10.9" r="2.3"/>
<circle cx="324.1" cy="72" r="2.4"/>
<circle cx="347" cy="87.7" r="2"/>
<circle cx="348.8" cy="15.7" r="2.5"/>
<circle cx="349.2" cy="15.9" r="2.1"/>
<circle cx="356.2" cy="17.8" r="2.2"/>
<circle cx="332.6" cy="66.1" r="2.4"/>
<circle cx="353.3" cy="18.1" r="2.2"/>
<circle cx="358.1" cy="80.1" r="2.3"/>
<circle cx="322.2" cy="73.9" r="2.4"/>
<circle cx="350.4" cy="83.8" r="2"/>
<circle cx="353.5" cy="19.2" r="2.1"/>
<circle cx="323" cy="73.6" r="2.2"/>
<circle cx="349.4" cy="16.4" r="2.3"/>
<circle cx="354.6" cy="8.4" r="2.3"/>
<circle cx="331.3" cy="67.6" r="2.3"/>
<circle cx="323.8" cy="73" r="2.5"/>
<circle cx="354" cy="13.7" r="2.4"/>
<circle cx="326.3" cy="70.6" r="1.9"/>
<circle cx="358.2" cy="15.5" r="2.3"/>
<circle cx="333.2" cy="65.4" r="2.2"/>
<circle cx="356.3" cy="80.9" r="2.1"/>
<circle cx="354.3" cy="18.1" r="2.1"/>
<circle cx="353.5" cy="9.9" r="1.9"/>
<circle cx="348.3" cy="85.8" r="2.3"/>
<circle cx="347.4" cy="86.3" r="2.4"/>
<circle cx="350.1" cy="18.2" r="2.2"/>
<circle cx="349.6" cy="84.7" r="2.1"/>
<circle cx="355.2" cy="9.6" r="2"/>
<circle cx="357.5" cy="79.9" r="2.1"/>
<circle cx="354.9" cy="11.9" r="2.1"/>
<circle cx="325.4" cy="71.1" r="1.9"/>
<circle cx="332.2" cy="66.1" r="2.5"/>
<circle cx="327.9" cy="69.1" r="2.4"/>
<circle cx="357.6" cy="17.3" r="2.1"/>
<circle cx="357.4" cy="16.3" r="2.5"/>
<circle cx="354.3" cy="14.1" r="2.5"/>
<circle cx="354.8" cy="7.9" r="2"/>
<circle cx="323.5" cy="72.5" r="2"/>
<circle cx="326.2" cy="71.3" r="2.3"/>
<circle cx="352.7" cy="82.6" r="2.2"/>
<circle cx="322.5" cy="74.1" r="2.1"/>
<circle cx="356" cy="16.2" r="1.9"/>
<circle cx="332.5" cy="66" r="2.2"/>
<circle cx="350.7" cy="84.3" r="2.3"/>
<circle cx="353.8" cy="16.7" r="1.9"/>
<circle cx="346.1" cy="87" r="2.2"/>
<circle cx="352" cy="18" r="1.9"/>
<circle cx="349.1" cy="85.9" r="2.1"/>
<circle cx="346.4" cy="85.7" r="1.9"/>
<circle cx="353.2" cy="81.1" r="2.3"/>
<circle cx="354.9" cy="81.2" r="2.3"/>
<circle cx="349.7" cy="85" r="2.4"/>
<circle cx="329" cy="69.1" r="2.4"/>
</g>
<g fill="url(#gr)">
<circle cx="379.4" cy="79.6" r="2.2"/>
<circle cx="356.5" cy="96.7" r="2.2"/>
<circle cx="377.8" cy="64.8" r="2.1"/>
<circle cx="359.8" cy="105.1" r="2.1"/>
<circle cx="382.7" cy="75.9" r="2"/>
<circle cx="402.9" cy="52.9" r="2.2"/>
<circle cx="379.4" cy="33.6" r="2.1"/>
<circle cx="413.6" cy="47.2" r="2.1"/>
<circle cx="380.5" cy="34.1" r="2.2"/>
<circle cx="420.3" cy="41.2" r="2.3"/>
<circle cx="376.9" cy="32.1" r="2.3"/>
<circle cx="411.8" cy="80.5" r="2.4"/>
<circle cx="389.5" cy="80.7" r="2.2"/>
<circle cx="411.6" cy="48.5" r="2.3"/>
<circle cx="359.8" cy="99.9" r="2.5"/>
<circle cx="326.2" cy="56.1" r="2.3"/>
<circle cx="382.9" cy="39.7" r="2.1"/>
<circle cx="396.4" cy="36.6" r="2"/>
<circle cx="390.1" cy="79.4" r="2.1"/>
<circle cx="379.7" cy="67" r="2.5"/>
<circle cx="375.1" cy="61.9" r="2.2"/>
<circle cx="393.2" cy="53.2" r="2.2"/>
<circle cx="418.7" cy="41.8" r="2.2"/>
<circle cx="360.5" cy="103.9" r="2.3"/>
<circle cx="400.6" cy="107.6" r="1.9"/>
<circle cx="360.2" cy="105.8" r="2.4"/>
<circle cx="414" cy="47.1" r="2"/>
<circle cx="374.8" cy="58.7" r="1.9"/>
<circle cx="356.3" cy="96.7" r="2.2"/>
<circle cx="390.1" cy="34.6" r="1.9"/>
<circle cx="379.3" cy="69.9" r="2.1"/>
<circle cx="355.4" cy="96.6" r="2.4"/>
<circle cx="382" cy="72.3" r="2.4"/>
<circle cx="389" cy="81.3" r="2.4"/>
<circle cx="358.9" cy="103.7" r="2"/>
<circle cx="400.4" cy="53.1" r="2.4"/>
<circle cx="398.5" cy="39" r="2.1"/>
<circle cx="380.5" cy="67" r="2.4"/>
<circle cx="398.2" cy="111.1" r="2.1"/>
<circle cx="407.8" cy="77.7" r="1.9"/>
<circle cx="379.4" cy="77.8" r="2.4"/>
<circle cx="392.4" cy="51.6" r="2.3"/>
<circle cx="390.2" cy="34.4" r="2"/>
<circle cx="355" cy="95.6" r="2"/>
<circle cx="361.1" cy="105.8" r="2"/>
<circle cx="325.6" cy="59.4" r="2"/>
<circle cx="409.6" cy="79" r="2"/>
<circle cx="411.5" cy="79.7" r="2.1"/>
<circle cx="354.4" cy="95.8" r="2.4"/>
<circle cx="392.2" cy="52.5" r="2.1"/>
<circle cx="394.9" cy="36.4" r="2.1"/>
<circle cx="404.1" cy="73.3" r="2.5"/>
<circle cx="402.9" cy="53.6" r="2.3"/>
<circle cx="397.8" cy="112.4" r="2.5"/>
<circle cx="389.8" cy="34.2" r="2.2"/>
<circle cx="376" cy="60" r="2.4"/>
<circle cx="360.9" cy="102.5" r="1.9"/>
<circle cx="422.4" cy="39.8" r="2.1"/>
<circle cx="401" cy="103.5" r="2.4"/>
<circle cx="398.2" cy="37.5" r="2"/>
<circle cx="382.9" cy="76.1" r="2.4"/>
<circle cx="384" cy="39.4" r="2.3"/>
<circle cx="391.4" cy="35.6" r="2.4"/>
<circle cx="358.5" cy="98.4" r="2.4"/>
<circle cx="327.8" cy="50.8" r="2.1"/>
<circle cx="394" cy="52.3" r="2.2"/>
<circle cx="380" cy="68.6" r="2"/>
<circle cx="380.3" cy="68.2" r="2.3"/>
<circle cx="385.3" cy="80.1" r="1.9"/>
<circle cx="392.4" cy="53.2" r="2.1"/>
<circle cx="326.6" cy="53.7" r="2.4"/>
<circle cx="396.4" cy="36" r="2.4"/>
<circle cx="383.5" cy="40.2" r="2.1"/>
<circle cx="412.2" cy="47.4" r="2.1"/>
<circle cx="382.3" cy="74.6" r="1.9"/>
<circle cx="380.8" cy="35" r="2.4"/>
<circle cx="403.8" cy="53.7" r="2"/>
<circle cx="325.4" cy="58.9" r="2.5"/>
<circle cx="327.4" cy="54" r="2"/>
<circle cx="383.3" cy="38.8" r="2.1"/>
<circle cx="417.1" cy="43" r="2"/>
<circle cx="401" cy="38.3" r="2.3"/>
<circle cx="357.6" cy="98.8" r="2.4"/>
<circle cx="393.5" cy="36.1" r="2"/>
<circle cx="402" cy="54.9" r="2.5"/>
<circle cx="326" cy="56.7" r="1.9"/>
<circle cx="375.7" cy="61.4" r="2.1"/>
<circle cx="396.6" cy="52.5" r="2.3"/>
<circle cx="379.5" cy="32.1" r="2.5"/>
<circle cx="376.1" cy="33.2" r="2"/>
<circle cx="397.6" cy="110.7" r="2.1"/>
<circle cx="413.6" cy="82.9" r="2.1"/>
<circle cx="374.6" cy="61.2" r="2.3"/>
<circle cx="380.8" cy="70.7" r="2.3"/>
<circle cx="401.6" cy="98.8" r="2.1"/>
<circle cx="413.7" cy="46" r="1.9"/>
<circle cx="403.4" cy="75.1" r="2.2"/>
<circle cx="412.5" cy="82.6" r="2.4"/>
<circle cx="395.3" cy="53.6" r="2.4"/>
<circle cx="395.1" cy="53.7" r="2.5"/>
<circle cx="396.7" cy="35.7" r="2"/>
<circle cx="397" cy="113.9" r="2.4"/>
<circle cx="380.8" cy="80.6" r="2"/>
<circle cx="383.9" cy="79.4" r="2.2"/>
<circle cx="377.4" cy="62.8" r="2.3"/>
<circle cx="401.7" cy="38.6" r="2.2"/>
<circle cx="380.1" cy="61.8" r="2"/>
<circle cx="381.3" cy="72" r="2"/>
<circle cx="380.1" cy="65.3" r="2.3"/>
<circle cx="379.9" cy="73.6" r="2.2"/>
<circle cx="357.4" cy="98.8" r="2"/>
<circle cx="380.6" cy="34.7" r="2"/>
<circle cx="381.1" cy="35.8" r="2.1"/>
<circle cx="327.4" cy="55.1" r="2.1"/>
<circle cx="377.8" cy="62.2" r="2.3"/>
<circle cx="381.6" cy="70.1" r="2.2"/>
<circle cx="413.4" cy="83.2" r="2.2"/>
<circle cx="394" cy="36.4" r="2"/>
<circle cx="404.3" cy="54.9" r="2.4"/>
<circle cx="375.6" cy="32.8" r="2.4"/>
<circle cx="402.9" cy="53.5" r="2.2"/>
<circle cx="360.5" cy="100.6" r="2.5"/>
<circle cx="399.8" cy="106.1" r="2"/>
<circle cx="380.9" cy="76" r="2.4"/>
<circle cx="399.4" cy="107.3" r="2.2"/>
<circle cx="415.7" cy="43.1" r="2.5"/>
<circle cx="415.5" cy="43.2" r="2.4"/>
<circle cx="373.8" cy="32.9" r="2.3"/>
<circle cx="381" cy="82.3" r="2.1"/>
<circle cx="379.5" cy="32" r="2.2"/>
<circle cx="404.9" cy="54.6" r="2.3"/>
<circle cx="390.7" cy="34.7" r="2.3"/>
<circle cx="380.5" cy="80.3" r="2"/>
<circle cx="412.1" cy="80.9" r="2.1"/>
<circle cx="380.3" cy="35.8" r="1.9"/>
<circle cx="382.1" cy="82.4" r="2.3"/>
<circle cx="398.1" cy="54.3" r="2.3"/>
<circle cx="396.5" cy="53.2" r="2"/>
<circle cx="394" cy="36.7" r="2.1"/>
<circle cx="407.5" cy="79" r="1.9"/>
<circle cx="411.5" cy="48.2" r="2.2"/>
<circle cx="401" cy="38.5" r="2.2"/>
<circle cx="388.4" cy="80.3" r="2.4"/>
<circle cx="359.9" cy="101.8" r="2.3"/>
<circle cx="390.1" cy="33.3" r="2.1"/>
<circle cx="382" cy="77" r="2"/>
<circle cx="405.2" cy="75.8" r="2.5"/>
<circle cx="394.9" cy="36.7" r="2.2"/>
<circle cx="381.2" cy="66.9" r="2.3"/>
<circle cx="411.2" cy="79.4" r="2.2"/>
<circle cx="373.8" cy="32.8" r="2.5"/>
<circle cx="397.6" cy="113.8" r="1.9"/>
<circle cx="380.1" cy="33.1" r="1.9"/>
<circle cx="374.8" cy="60.9" r="2.2"/>
<circle cx="402.3" cy="100.7" r="2"/>
<circle cx="398.1" cy="36.4" r="2.4"/>
<circle cx="391.6" cy="35.3" r="2.5"/>
<circle cx="329" cy="48.1" r="1.9"/>
<circle cx="374.2" cy="32.7" r="2.5"/>
<circle cx="412" cy="47.8" r="2.4"/>
<circle cx="414.3" cy="45.4" r="2.2"/>
<circle cx="396" cy="52.3" r="2.3"/>
<circle cx="325.9" cy="57.9" r="2"/>
<circle cx="327.6" cy="55" r="2.1"/>
<circle cx="361.5" cy="105.4" r="2"/>
<circle cx="379.2" cy="62.6" r="1.9"/>
<circle cx="381.2" cy="70.8" r="2.1"/>
<circle cx="379" cy="32.7" r="2.5"/>
<circle cx="394.7" cy="36.7" r="2.5"/>
<circle cx="410.5" cy="80.4" r="2"/>
<circle cx="402.2" cy="100" r="2.1"/>
<circle cx="404.7" cy="53.8" r="2.5"/>
<circle cx="382.5" cy="40.1" r="2.1"/>
<circle cx="390.9" cy="80.3" r="2.1"/>
<circle cx="418.6" cy="40.4" r="2.2"/>
<circle cx="401.9" cy="100" r="2.3"/>
<circle cx="361" cy="103.1" r="2.2"/>
<circle cx="371.3" cy="34.2" r="2"/>
<circle cx="394.3" cy="52.6" r="2.5"/>
<circle cx="381.1" cy="71.9" r="2.1"/>
<circle cx="378.5" cy="64.7" r="2"/>
<circle cx="377.5" cy="63.1" r="2.2"/>
<circle cx="399.3" cy="39.2" r="2"/>
<circle cx="406" cy="77" r="2.2"/>
<circle cx="379.2" cy="65.7" r="2.1"/>
<circle cx="326.7" cy="49.3" r="2"/>
<circle cx="391.6" cy="34.6" r="2.2"/>
<circle cx="356.7" cy="104.6" r="1.9"/>
<circle cx="413.1" cy="81.9" r="2"/>
<circle cx="406.3" cy="76.4" r="2.5"/>
<circle cx="373.9" cy="60.2" r="2.5"/>
<circle cx="357.6" cy="97.3" r="2.5"/>
<circle cx="375.3" cy="59.9" r="2"/>
<circle cx="358" cy="97" r="2.2"/>
<circle cx="384.1" cy="36.9" r="2"/>
<circle cx="402.1" cy="39.3" r="2.3"/>
<circle cx="382.8" cy="35.3" r="2.2"/>
<circle cx="358.6" cy="99.9" r="2.2"/>
<circle cx="377.4" cy="33.2" r="2.1"/>
<circle cx="361.7" cy="104.4" r="1.9"/>
<circle cx="376.6" cy="31.7" r="2.3"/>
<circle cx="387.1" cy="79.1" r="2"/>
<circle cx="416.6" cy="41.8" r="2"/>
<circle cx="358.5" cy="104.5" r="2.5"/>
<circle cx="400.4" cy="55.1" r="2"/>
<circle cx="409.4" cy="77.7" r="1.9"/>
<circle cx="401.1" cy="39.9" r="1.9"/>
<circle cx="377.8" cy="32" r="2.5"/>
<circle cx="417.6" cy="42.1" r="2.2"/>
<circle cx="371.9" cy="34.3" r="1.9"/>
<circle cx="325.4" cy="58.6" r="2.5"/>
<circle cx="357.6" cy="96.5" r="2"/>
<circle cx="421" cy="40.2" r="2"/>
<circle cx="403" cy="73" r="2.4"/>
<circle cx="398.7" cy="54.8" r="2.1"/>
<circle cx="326.1" cy="57.6" r="2.4"/>
<circle cx="384.4" cy="80.2" r="1.9"/>
<circle cx="399.2" cy="108.6" r="2.4"/>
<circle cx="386.8" cy="80.1" r="2.1"/>
<circle cx="356.6" cy="97" r="2.3"/>
<circle cx="414.8" cy="44.9" r="2.3"/>
<circle cx="383.8" cy="36.7" r="2"/>
<circle cx="329" cy="47.4" r="1.9"/>
<circle cx="398.7" cy="54" r="2.4"/>
<circle cx="381.9" cy="78.7" r="2"/>
<circle cx="393.7" cy="51.1" r="2.2"/>
<circle cx="396.3" cy="113.4" r="2.4"/>
<circle cx="328" cy="49.7" r="2.2"/>
<circle cx="380.7" cy="65.1" r="2.2"/>
<circle cx="419.9" cy="41.2" r="2.1"/>
<circle cx="412.5" cy="82.8" r="2.3"/>
<circle cx="390.6" cy="81.6" r="2.1"/>
<circle cx="380.5" cy="81.4" r="2.2"/>
<circle cx="394.1" cy="52" r="2.4"/>
<circle cx="378.9" cy="77.9" r="2.5"/>
<circle cx="400.2" cy="106.3" r="1.9"/>
<circle cx="402.2" cy="102.4" r="1.9"/>
<circle cx="406.6" cy="78.7" r="2"/>
<circle cx="357" cy="103.4" r="2"/>
<circle cx="396.7" cy="52.6" r="2.2"/>
<circle cx="378.2" cy="65.1" r="2.1"/>
<circle cx="382.7" cy="74.5" r="2.2"/>
<circle cx="397.4" cy="37.4" r="2.5"/>
<circle cx="388.3" cy="81.4" r="2.4"/>
<circle cx="327" cy="48.6" r="1.9"/>
<circle cx="377.6" cy="61" r="2.2"/>
<circle cx="384.6" cy="77.7" r="2"/>
<circle cx="376.8" cy="31.8" r="2.3"/>
<circle cx="381.6" cy="36.3" r="2.4"/>
<circle cx="404.8" cy="75.4" r="2.1"/>
<circle cx="398.3" cy="53.5" r="2.1"/>
<circle cx="381.5" cy="74.4" r="2.4"/>
<circle cx="378.1" cy="32.2" r="2.3"/>
<circle cx="372.2" cy="34.2" r="2.3"/>
<circle cx="422.5" cy="39.7" r="2.3"/>
<circle cx="399.4" cy="54.7" r="2.1"/>
<circle cx="325.8" cy="59.8" r="2.1"/>
<circle cx="381.5" cy="73.8" r="2.3"/>
<circle cx="398.7" cy="109.3" r="1.9"/>
<circle cx="401.7" cy="102.2" r="2.2"/>
<circle cx="381.1" cy="69.6" r="1.9"/>
<circle cx="390.4" cy="81.5" r="2.3"/>
<circle cx="400.1" cy="38.9" r="2.3"/>
<circle cx="397.2" cy="37.4" r="2.4"/>
<circle cx="383.4" cy="77.3" r="2.5"/>
<circle cx="373.7" cy="60" r="2"/>
<circle cx="388.3" cy="80.5" r="2.3"/>
<circle cx="402" cy="53.5" r="2.5"/>
<circle cx="380.1" cy="79.5" r="2.3"/>
<circle cx="359.7" cy="100.7" r="2.4"/>
<circle cx="327" cy="51" r="2"/>
<circle cx="326.4" cy="51.9" r="2.1"/>
<circle cx="385.5" cy="80.1" r="2.3"/>
<circle cx="392.5" cy="35.4" r="1.9"/>
<circle cx="377.8" cy="77.4" r="2.5"/>
<circle cx="400.6" cy="104.1" r="2.2"/>
<circle cx="383.2" cy="79" r="2.4"/>
<circle cx="360.5" cy="101.7" r="2"/>
<circle cx="372.9" cy="34.8" r="2.1"/>
<circle cx="385.8" cy="78.3" r="2"/>
<circle cx="404" cy="73.6" r="2.4"/>
<circle cx="381.9" cy="68.8" r="2.4"/>
<circle cx="401" cy="103.5" r="2.3"/>
<circle cx="329.2" cy="47.2" r="1.9"/>
<circle cx="373.2" cy="34.9" r="2.2"/>
<circle cx="354.6" cy="95.1" r="2.3"/>
<circle cx="404.5" cy="55.4" r="2.5"/>
<circle cx="375.5" cy="32.5" r="2.3"/>
<circle cx="327.7" cy="48.4" r="2.4"/>
<circle cx="402.6" cy="99.6" r="1.9"/>
<circle cx="386.9" cy="80.3" r="2.1"/>
<circle cx="397.8" cy="54.5" r="2.4"/>
<circle cx="359.4" cy="98.7" r="2.3"/>
<circle cx="391.9" cy="36.2" r="2"/>
<circle cx="385" cy="80.2" r="2.3"/>
<circle cx="409.9" cy="78.8" r="2"/>
<circle cx="404" cy="73.2" r="2.4"/>
<circle cx="405" cy="74.6" r="2"/>
<circle cx="383.9" cy="37" r="2.1"/>
<circle cx="382.6" cy="78.4" r="2.2"/>
<circle cx="356.4" cy="95.5" r="2.1"/>
<circle cx="402" cy="38.5" r="2.1"/>
<circle cx="382.9" cy="38.8" r="2"/>
<circle cx="402.3" cy="39.4" r="2.1"/>
<circle cx="414.9" cy="44.1" r="2.5"/>
<circle cx="389" cy="34.7" r="2.3"/>
<circle cx="379.9" cy="32.9" r="2.4"/>
<circle cx="379.7" cy="68" r="2.1"/>
<circle cx="361" cy="104" r="2"/>
<circle cx="397.8" cy="113.1" r="2.3"/>
<circle cx="384.1" cy="40.7" r="2.2"/>
<circle cx="399.5" cy="37.9" r="1.9"/>
<circle cx="398" cy="112.5" r="2"/>
<circle cx="412.2" cy="83.1" r="2"/>
<circle cx="326" cy="55.5" r="2.1"/>
<circle cx="371.5" cy="33.7" r="2"/>
<circle cx="401.6" cy="101.1" r="2.4"/>
<circle cx="360" cy="102" r="2"/>
<circle cx="327.8" cy="52.5" r="2.1"/>
<circle cx="407.3" cy="78.5" r="2.3"/>
<circle cx="400.1" cy="54.3" r="2.2"/>
<circle cx="402.1" cy="73.4" r="2.2"/>
<circle cx="398.7" cy="38.7" r="2"/>
<circle cx="403.7" cy="74.5" r="2.5"/>
<circle cx="354.1" cy="96.6" r="2.1"/>
<circle cx="405.5" cy="77.4" r="2.3"/>
<circle cx="383.7" cy="76.3" r="2.3"/>
<circle cx="361.2" cy="102.6" r="2.3"/>
<circle cx="377.1" cy="60.4" r="2.4"/>
<circle cx="371.5" cy="34.3" r="2.1"/>
<circle cx="324.3" cy="59.5" r="2.1"/>
<circle cx="371.4" cy="35.4" r="2.3"/>
<circle cx="357.4" cy="103.6" r="2.5"/>
<circle cx="359.6" cy="98.8" r="2.2"/>
<circle cx="373.2" cy="34.5" r="2.2"/>
<circle cx="404.8" cy="75.8" r="2.3"/>
<circle cx="380.3" cy="73" r="2.1"/>
<circle cx="404.4" cy="54.3" r="2.2"/>
<circle cx="380.9" cy="81.7" r="2.3"/>
<circle cx="409.4" cy="78.9" r="2.4"/>
<circle cx="358.6" cy="104.9" r="2.1"/>
<circle cx="380.9" cy="33.3" r="2.1"/>
<circle cx="402.9" cy="39.3" r="2.5"/>
<circle cx="392.9" cy="34.7" r="2"/>
<circle cx="400.6" cy="39.2" r="2.2"/>
<circle cx="417.1" cy="41.6" r="2"/>
<circle cx="383.5" cy="39.9" r="2.3"/>
<circle cx="383.3" cy="38.2" r="2.3"/>
<circle cx="378.5" cy="77.3" r="2.5"/>
<circle cx="401.2" cy="53.3" r="2.3"/>
<circle cx="409.3" cy="78" r="2"/>
<circle cx="403" cy="72.3" r="2"/>
<circle cx="384.2" cy="79.9" r="2"/>
<circle cx="378.2" cy="63.9" r="2.5"/>
<circle cx="400.6" cy="105" r="2.4"/>
<circle cx="421.2" cy="40" r="2"/>
<circle cx="376.9" cy="61.9" r="2.4"/>
<circle cx="361.2" cy="104" r="2"/>
<circle cx="328" cy="47.9" r="2.2"/>
<circle cx="382.6" cy="35.9" r="2.3"/>
<circle cx="382.4" cy="74.9" r="2"/>
<circle cx="411.3" cy="81.7" r="2.1"/>
<circle cx="361.4" cy="103.9" r="1.9"/>
<circle cx="398.2" cy="109.4" r="2.4"/>
<circle cx="392.2" cy="51.7" r="2.2"/>
<circle cx="400.3" cy="108.5" r="2.3"/>
</g>
<polyline fill="none" stroke="#5048c8" stroke-opacity="0.8" stroke-width="0.95" stroke-linejoin="round" points="356.2,49.3 356.3,49.3 356.9,48.8 357.5,48.4 358,47.7 358.6,47.5 359.4,46.8 359.6,46.9 360.1,46.7 361,46.1 361.3,46.2 361.9,45.6 362.8,45.6 363.4,45.3 363.9,45.4 364.3,44.9 365.3,45.1 366,44.5 366.5,44.6 367.2,44.4 367.8,43.9 368.5,43.7 369.4,43.7 370.1,43.3 370.5,43.2 371.4,43.3 371.8,42.6 371.7,42.7 372,42.2 371.7,41.5 371.3,41 370.8,40.2 370.4,40 369.9,39 370.3,38.1 370.2,37.5 370.5,37 371,36.9 371.2,36.4 371.5,35.6 371.9,35.1 372.5,34.6 372.6,34.1 373.2,33.4 373.7,32.6 374.2,32.2 374.5,31.6 375,30.9 375.3,30.2 375.5,30 375.6,29.5 376.2,29.3 376.2,29.2"/>
<polyline fill="none" stroke="#5048c8" stroke-opacity="0.8" stroke-width="0.95" stroke-linejoin="round" points="389.7,73.1 390.4,73.3 390.6,73.3 391.2,73.5 392.1,73.7 393,74.2 393.4,74.7 394,75.3 394.2,75.6 394.3,76 394.4,76.8 394.7,77.5 394.6,78.1 394.3,78.6 394.4,79.5 394.2,80.1 394.3,81.1 394.3,81.7 393.8,82.5 394,83 393.5,83.5 393.2,84.1 393.2,84.6 392.6,85.2 391.8,85.7 391.5,85.7 390.6,86 390.2,86.6 389.4,86.9 388.9,87 388.2,87.4 387.8,87.6 387.7,87.6"/>
<polyline fill="none" stroke="#5048c8" stroke-opacity="0.8" stroke-width="0.95" stroke-linejoin="round" points="366.2,91.8 366.5,92.1 366.3,92.4 366.8,93 366.6,93.6 366.7,94.4 367.1,94.8 367.3,95.2 367.5,96 367.6,96.9 367.7,97.4 368.2,98 368.1,98.8 368.3,99.5 368.9,99.7 368.8,100.7 368.9,101.4 369.2,101.6 369.4,102.4 369.5,103 369.9,103.5 369.9,104.2 370.2,104.7 370.5,105.1 370.6,105.6 370.7,106.2 370.7,107.1 371.1,107.8 370.9,108.3 371.1,109.1 371.3,109.5 371.5,110.5 371.6,111.2 371.5,111.4 371.5,112.1 371.8,112.5 371.8,113.1"/>
<polyline fill="none" stroke="#5048c8" stroke-opacity="0.8" stroke-width="0.95" stroke-linejoin="round" points="402.8,86.1 403.2,86.4 403.7,86.4 404.3,86.5 404.6,86.8 405.1,86.8 405.6,87.3 406.5,87.7 407.4,87.6 407.9,88.2 408.3,88.3 409.2,88.6 410,88.4 410.6,88.5 411.1,88.7 411.5,88.8 412.3,88.9 412.9,88.7 413.6,88.7 414.2,88.7 414.9,88.3 415.6,88.3 416.2,88.2 417.1,88 417.8,87.6 418.2,87.6 418.7,87.5 419.2,87.5 420,87.5 420.4,87.4 420.9,87.7 422,88.1 422.3,88.6 422.8,88.9 423.5,89.7 423.8,90 424.5,90.5 424.6,90.8 424.8,91"/>
</g>
<text x="320.7" y="117.8" font-size="15.6" font-weight="bold" fill="#000">0 ns</text>
<rect x="440.5" y="7.5" width="117" height="117" fill="#fff" stroke="#8ea09d" stroke-width="1.3"/>
<clipPath id="cp1"><rect x="441.2" y="8.2" width="115.6" height="115.6"/></clipPath>
<g clip-path="url(#cp1)">
<polyline fill="none" stroke="#5048c8" stroke-opacity="0.8" stroke-width="0.95" stroke-linejoin="round" points="460.2,18.2 459.8,17.9 459.3,17.1 458.4,16.4 458,16 457.8,15.1 457.8,14.9 458.2,15 458.8,14.5 459.4,14.3 460,14.4 461,14.2 461.7,14.1 462.3,14.4 463.2,15 463.3,15.4 463.3,15.7 463.6,16.5 463.5,17 463.6,17.7 463.6,18.6 463.7,19.3 464.1,20 464,20.5 464,21.6 464.5,22.2 464.2,23.1 464.2,23.6 464.7,23.9 464.8,24.5 464.9,25.1 465.2,25.6 465.8,26.2 466.4,26 467.2,26.3 467.5,26 468.1,26.3 469,26.2 470.2,25.8 470.3,26.1 471.1,25.9 471.7,25.9 472.1,26.2 472.8,25.9 473.9,25.9 474.7,25.9 475.3,25.9 476.1,25.5 476.7,25.5 477.4,25.6 478,25.7 478.7,25.4 478.9,25.3 479.6,25.2 479.9,24.8 480.9,24.5 481.1,24.1 481.4,23.2 481.8,22.6 482,22 481.8,21.2 482,21"/>
<polyline fill="none" stroke="#5048c8" stroke-opacity="0.8" stroke-width="0.95" stroke-linejoin="round" points="473.9,29.8 474.1,30.2 474.3,31 474.9,31.4 475.2,32.4 475.4,33.1 475.8,33.6 476.1,34.2 476.2,35 475.8,35.6 476.1,36.3 475.8,36.8 475.6,37.1 475.3,38.1 475.2,38.6 475,39.1 475.1,40 475,40.4 475.1,40.9 475,42 475,42.3 474.6,43.2 474.8,44 474.8,44.2 474.6,45 474.4,46 474.5,46.3 474.3,47 474.4,47.4 473.9,48 473.6,48.5 473.1,49.2 472.9,49.8 472.3,50.3 471.9,50.6 471.2,51.2 470.8,51.4 470.3,52 470,52.2"/>
<polyline fill="none" stroke="#5048c8" stroke-opacity="0.8" stroke-width="0.95" stroke-linejoin="round" points="451.8,55.9 452.4,56.1 452.8,56 453.2,56.1 453.9,56.1 454.6,56.1 455.2,55.9 455.8,56.2 456.8,56.1 457.4,56.3 457.8,56.2 458.6,56.2 459.5,56.1 459.8,56 460.6,55.9 461,55.8 462.1,55.7 462.4,55.6 463.1,55.4 463.8,55.3 464.5,55.2 465.2,54.8 465.9,54.7 466.4,54.5 467.2,54.3 467.4,54 468.2,54.2 469,53.7 469.6,53.2 470.1,53.1 470.6,52.7 471.2,52.6 471.5,52.4 471.8,51.8"/>
<polyline fill="none" stroke="#5048c8" stroke-opacity="0.8" stroke-width="0.95" stroke-linejoin="round" points="476,44 476.1,43.9 476.9,43.6 477.1,43.9 477.6,43.5 478.2,43.4 478.5,43.1 479.1,43 479.9,42.9 480.3,42.9 481.1,42.6 481.8,42.2 482.6,42 483.1,42.2 483.8,41.7 484.6,41.6 485.2,41.5 485.8,41.5 486.7,41.3 487.2,40.8 487.7,40.8 488.4,40.7 488.9,40.5 489.7,40.2 490.1,40 490.7,39.7 491.2,39.5 492.3,39.3 492.8,38.8 493.5,38.7 493.9,38.7 494.4,38.1 495.3,38 495.5,37.7 496.1,37.5 496.7,37 497.4,36.9 498,36.6 498.4,36.6 498.9,36.4 499.6,36 499.9,35.9 500.8,36.1 501.5,35.8 502,35.5 502.8,35.2 503.4,35.3 504.2,35.2 504.9,35.1 505.4,35.3 506.1,35.3 506.6,34.9 507.4,34.9 507.5,35 507.9,34.9"/>
<polyline fill="none" stroke="#5048c8" stroke-opacity="0.8" stroke-width="0.95" stroke-linejoin="round" points="491.2,68 491.2,68.1 491.9,67.9 492.3,67.8 493.1,67.5 493.4,67.2 494.1,67 494.7,66.8 495.5,66.5 496,66.4 497,65.8 497.4,65.8 498.2,65.7 498.7,65.5 499.6,65 499.8,65.2 500.6,65 501.4,64.8 502.2,64.5 502.6,64.4 503.2,63.9 504,63.8 504.2,63.8 504.9,64 505.4,64.1 505.8,63.9 506.7,64.3 507.3,64.3 507.4,64.9 508.4,65.4 508.8,66 509.1,66.1 509.8,66.6 510,67.1 510.4,67.7 510.8,68.1 511.9,68.6 512.2,69.1 512.6,69.3 513.2,70 513.4,70.2 514.2,69.9 514.6,69.7 514.9,69.6 515.6,69.1 516,68.4 516.3,67.6 516.6,66.9 516.9,66.3 516.9,65.8 517,65.5 516.6,65 516.2,64.5 515.4,63.8 514.8,63.4 514.6,63.2 514,62.8"/>
<polyline fill="none" stroke="#5048c8" stroke-opacity="0.8" stroke-width="0.95" stroke-linejoin="round" points="498,78 497.8,78.1 497.1,77.8 496.9,77.8 496.3,77.6 495.2,77.8 494.8,77.6 494.1,77.5 493.4,77 492.3,77.3 492,77.1 491.4,76.8 490.7,77 490.2,76.8 489.3,77.3 488.7,77.3 488,77.5 487.5,78 486.9,78.6 486.3,78.7 485.6,78.9 485.4,79.6 484.9,80 484.8,80.7 484,81 483.7,81.8 483.7,82.2 483.2,82.9 483.1,83.6 482.9,84.1 482.8,84.9 482.9,85.7 483.4,86.1 483.5,86.8 483.5,87.4 483.7,87.9 484.1,88.5 484.1,89.2 484.4,89.9 484.6,90.6 484.8,91.3 485.4,91.6 485.3,92.1 486,92.9 485.8,93.1 486.6,93.7 487,93.8 487.6,94.3 488.1,94 488.8,93.9 489.9,94 490.7,94 491.1,93.8 491.6,93.9 492.4,93.6 492.8,93.3 493.7,93.3 494.4,93.3 495.1,92.9 496.1,92.9 496.9,92.5 497.4,92.7 497.9,92.5 498.4,92.3 499.2,92.1 499.5,92.2 499.9,91.9"/>
<polyline fill="none" stroke="#5048c8" stroke-opacity="0.8" stroke-width="0.95" stroke-linejoin="round" points="515,86 515.2,86.3 516.1,86.3 516.3,86.5 517.2,86.7 518,86.7 519,87.1 519.6,87.5 519.8,87.8 520.2,88.5 520.9,88.7 521,89 521.4,89.9 521.6,90.2 521.9,90.7 522.4,91.1 522.8,92 523.2,92.6 523.4,92.9 523.7,93.4 523.8,94 524.2,94.5 524.6,95.1 524.8,95.9 525.3,96.5 525.5,97.3 525.8,97.6 526.2,98.2 526.6,98.6 526.7,99.2 526.9,99.9 526.9,100.2"/>
<polyline fill="none" stroke="#5048c8" stroke-opacity="0.8" stroke-width="0.95" stroke-linejoin="round" points="527,95.2 527.6,95.2 527.6,94.8 528.4,94.9 529,94.8 529.5,94.4 530.5,94.5 531.1,94 531.6,93.9 532.3,93.9 533.2,93.6 533.7,93.3 534.5,93.4 534.9,92.9 535.6,92.8 536.1,92.5 536.7,91.9 537.4,91.3 537.7,90.8 538.4,90.2 539,89.6 539.1,89.1 539.6,88.6 539.9,88.4 540.1,88.2 539.9,87.5 539.9,86.6 539.6,86.2 539.2,85.5 538.7,84.9 537.9,84.9 537.6,85.2 536.9,85.4 536.7,86.2 535.9,86.5 535.9,87.2 535.3,87.4 534.8,88.2"/>
<polyline fill="none" stroke="#5048c8" stroke-opacity="0.8" stroke-width="0.95" stroke-linejoin="round" points="529.8,19.8 530,19.7 530.6,19.1 531.2,18.6 531.3,18.4 531.8,17.6 532.4,17.2 532.8,16.7 533.5,16 534.1,15.9 534.6,15.7 535.7,15.5 536.2,15.7 537.2,15.8 537.9,16.5 538.1,17 538,17.2 537.9,17.7 538,18.4 537.5,18.7 537.3,19.7 537.4,20.4 537.2,20.8 536.9,21.8 536.7,22.1 536.5,22.8 535.9,23.6 536.1,23.8 535.9,24.5 536,25.4 535.9,26 535.8,26.6 535.7,27.3 535.5,28 535.7,28.5 535.6,28.8 535.5,29.5 535,30.2 534.6,30.7 534.3,31.2 534,31.6 533.6,31.9 533.2,32.5 532.5,32.9 532,33.6 531.7,34 530.9,34.6 530.5,34.8 529.9,34.9 529.2,35.5 528.9,35.4 527.8,35.5 527,35.7 526.4,36 525.9,36.1 525.5,35.8 525,35.9"/>
<polyline fill="none" stroke="#5048c8" stroke-opacity="0.8" stroke-width="0.95" stroke-linejoin="round" points="527.1,54.9 527.1,55.3 527.5,55.5 528.2,56.3 528.7,56.8 529,57.5 529.6,57.9 530.4,58.6 530.4,59.2 531.1,59.4 530.8,60.2 530.7,60.5 530.6,61 530,62.1 529.6,62.2 528.9,62.9 528.3,62.9 527.9,63 527.8,62.7 527.5,62.3 526.9,61.6 526.8,60.9 526.4,59.6 526.5,59.2 526,58.6 526,57.9"/>
<g fill="url(#gff)">
<circle cx="513.3" cy="28.8" r="1.9"/>
<circle cx="513.7" cy="36.5" r="2.5"/>
<circle cx="515" cy="33.8" r="2.3"/>
<circle cx="508.8" cy="22.8" r="2"/>
<circle cx="513.6" cy="28" r="2"/>
<circle cx="511.7" cy="27.8" r="2"/>
<circle cx="511.9" cy="29.9" r="2.2"/>
<circle cx="511.8" cy="29.6" r="2.5"/>
<circle cx="513.4" cy="29.9" r="2.1"/>
<circle cx="510.8" cy="23.6" r="2.3"/>
<circle cx="511.2" cy="21.5" r="2.1"/>
<circle cx="510.3" cy="25.5" r="2.1"/>
<circle cx="515.3" cy="33.7" r="2.1"/>
<circle cx="511" cy="26.6" r="2"/>
<circle cx="514.4" cy="32.7" r="2.2"/>
<circle cx="512" cy="31.4" r="2.4"/>
<circle cx="510.8" cy="25.3" r="2.2"/>
<circle cx="510" cy="22.2" r="2.2"/>
<circle cx="512.7" cy="27.6" r="1.9"/>
<circle cx="512.5" cy="35.7" r="1.9"/>
<circle cx="510" cy="25.7" r="1.9"/>
<circle cx="514.2" cy="31.6" r="2.4"/>
<circle cx="512.7" cy="35.5" r="2.2"/>
<circle cx="515.7" cy="36.1" r="2.1"/>
<circle cx="511.9" cy="34.6" r="2.3"/>
<circle cx="515.1" cy="34.8" r="1.9"/>
<circle cx="510.2" cy="22.6" r="2"/>
<circle cx="512.9" cy="33.2" r="2.3"/>
<circle cx="508.9" cy="24.5" r="2.1"/>
<circle cx="509.1" cy="23.2" r="1.9"/>
<circle cx="511.5" cy="22.2" r="2.2"/>
<circle cx="513.6" cy="27.8" r="2"/>
<circle cx="513.9" cy="36.3" r="2.4"/>
<circle cx="513.2" cy="32.7" r="2.2"/>
<circle cx="513.5" cy="29.5" r="2.4"/>
<circle cx="514" cy="31.6" r="2.2"/>
<circle cx="511.3" cy="23.7" r="2.3"/>
<circle cx="513.1" cy="25.3" r="2.2"/>
<circle cx="511" cy="27" r="2.5"/>
</g>
<g fill="url(#gf)">
<circle cx="508.1" cy="47.3" r="2.4"/>
<circle cx="508.7" cy="47.1" r="2"/>
<circle cx="549.2" cy="48.6" r="2.1"/>
<circle cx="535.5" cy="55.7" r="2.4"/>
<circle cx="511.4" cy="51.5" r="2.3"/>
<circle cx="537.5" cy="54.7" r="2.4"/>
<circle cx="546.8" cy="49.7" r="2.3"/>
<circle cx="510.4" cy="52.1" r="2.1"/>
<circle cx="510.3" cy="48.5" r="2.1"/>
<circle cx="537.4" cy="55.8" r="2"/>
<circle cx="546.6" cy="48.8" r="2"/>
<circle cx="542.4" cy="52.4" r="2.5"/>
<circle cx="536" cy="54.4" r="2.2"/>
<circle cx="535" cy="56" r="2.3"/>
<circle cx="543.1" cy="51.2" r="2.1"/>
<circle cx="549.6" cy="49.4" r="2.1"/>
<circle cx="547.2" cy="49.9" r="2.2"/>
<circle cx="509.3" cy="47.1" r="2.3"/>
<circle cx="539.7" cy="54.9" r="2"/>
<circle cx="546.1" cy="50.5" r="2.5"/>
<circle cx="535.2" cy="56.4" r="2.3"/>
<circle cx="536.2" cy="56.7" r="2.4"/>
<circle cx="549" cy="48.6" r="2.3"/>
<circle cx="541.3" cy="53.3" r="2.5"/>
<circle cx="543.7" cy="50.2" r="2.2"/>
<circle cx="540.1" cy="54.1" r="2.5"/>
<circle cx="512.8" cy="51.2" r="2.5"/>
<circle cx="508.3" cy="47.6" r="1.9"/>
<circle cx="539.5" cy="52.4" r="2.2"/>
<circle cx="512.2" cy="52.4" r="2.2"/>
<circle cx="538.4" cy="54.1" r="2.2"/>
<circle cx="535.7" cy="55.7" r="2.2"/>
<circle cx="548.4" cy="48.5" r="2.3"/>
<circle cx="508.4" cy="46.6" r="2.1"/>
<circle cx="510.7" cy="51.3" r="2.5"/>
<circle cx="547.1" cy="48.7" r="2.4"/>
<circle cx="536.4" cy="55.8" r="1.9"/>
<circle cx="541.7" cy="51.8" r="2.5"/>
<circle cx="544.9" cy="49.2" r="2.5"/>
<circle cx="540.4" cy="52.2" r="2.1"/>
<circle cx="509.9" cy="50.4" r="2.2"/>
<circle cx="507.3" cy="47.4" r="2.3"/>
<circle cx="538" cy="55.9" r="2.1"/>
<circle cx="544.5" cy="51.1" r="2.2"/>
<circle cx="510" cy="50.6" r="2.5"/>
<circle cx="509.2" cy="48.8" r="2.5"/>
<circle cx="538.5" cy="53.3" r="2.2"/>
<circle cx="548.2" cy="48.9" r="2.3"/>
<circle cx="547.8" cy="49.6" r="2.2"/>
<circle cx="543" cy="51.6" r="2.2"/>
<circle cx="509.1" cy="49.3" r="2.1"/>
<circle cx="548.4" cy="48.4" r="2"/>
<circle cx="548.8" cy="49.1" r="2.1"/>
<circle cx="541.5" cy="52.8" r="2.4"/>
<circle cx="541.9" cy="51.7" r="2.2"/>
<circle cx="537.3" cy="53.3" r="2.1"/>
<circle cx="511.6" cy="52.4" r="2.4"/>
<circle cx="543.7" cy="51.7" r="2.2"/>
<circle cx="537.3" cy="54.2" r="2.4"/>
<circle cx="546.1" cy="50.2" r="2.5"/>
<circle cx="535.1" cy="55.4" r="2"/>
<circle cx="510.6" cy="50.6" r="2.2"/>
<circle cx="544.8" cy="50.2" r="2.1"/>
</g>
<g fill="url(#gm)">
<circle cx="520.3" cy="49.3" r="2.4"/>
<circle cx="519.7" cy="40.5" r="1.9"/>
<circle cx="519.1" cy="52.4" r="2.1"/>
<circle cx="519" cy="44.1" r="2.3"/>
<circle cx="516.2" cy="40.6" r="2.2"/>
<circle cx="518" cy="41.3" r="2.4"/>
<circle cx="514.3" cy="40.7" r="2.4"/>
<circle cx="517.7" cy="44.2" r="2"/>
<circle cx="518.2" cy="51.8" r="2"/>
<circle cx="518.1" cy="52" r="2.2"/>
<circle cx="521.4" cy="43.4" r="2.3"/>
<circle cx="520.9" cy="46.8" r="2.1"/>
<circle cx="517" cy="51" r="2"/>
<circle cx="518.7" cy="51.2" r="2.2"/>
<circle cx="518" cy="39.7" r="1.9"/>
<circle cx="518.9" cy="50.8" r="2.2"/>
<circle cx="514.8" cy="37.9" r="2.1"/>
<circle cx="518.7" cy="47.1" r="2.2"/>
<circle cx="513.4" cy="39" r="2.4"/>
<circle cx="520.7" cy="41.9" r="2.1"/>
<circle cx="518" cy="42.7" r="2.3"/>
<circle cx="521" cy="45.1" r="2.1"/>
<circle cx="519.2" cy="50.1" r="2.4"/>
<circle cx="518.6" cy="45.4" r="2.2"/>
<circle cx="518" cy="46.9" r="2.4"/>
<circle cx="518.3" cy="41.7" r="2.4"/>
<circle cx="517.2" cy="51.2" r="2.4"/>
<circle cx="518.1" cy="43.2" r="2.4"/>
<circle cx="515.3" cy="37.1" r="2.2"/>
<circle cx="519.9" cy="48.2" r="2.1"/>
<circle cx="516.4" cy="37.9" r="2.1"/>
<circle cx="516" cy="40.5" r="2.1"/>
<circle cx="514.4" cy="36.9" r="2.4"/>
<circle cx="515.6" cy="37.2" r="2.2"/>
<circle cx="521.7" cy="43.8" r="2"/>
<circle cx="519.7" cy="49.3" r="2.1"/>
<circle cx="519.7" cy="45.6" r="2.4"/>
<circle cx="517" cy="39.8" r="2.2"/>
<circle cx="515.5" cy="37.6" r="2"/>
<circle cx="517.4" cy="41" r="2.3"/>
<circle cx="520.5" cy="46.3" r="2"/>
<circle cx="520.2" cy="49.5" r="2.3"/>
<circle cx="517.8" cy="49.8" r="2.1"/>
<circle cx="520.3" cy="46.5" r="2.4"/>
<circle cx="514.6" cy="40.8" r="2"/>
</g>
<g fill="url(#gr)">
<circle cx="477.2" cy="45.3" r="2.3"/>
<circle cx="482.5" cy="48" r="2.1"/>
<circle cx="478.9" cy="48.1" r="2"/>
<circle cx="469.5" cy="39.6" r="2.2"/>
<circle cx="515.5" cy="114.3" r="2"/>
<circle cx="485.3" cy="62.9" r="2.3"/>
<circle cx="482.8" cy="63.9" r="1.9"/>
<circle cx="521.8" cy="98.4" r="2.5"/>
<circle cx="509.7" cy="114.2" r="2.2"/>
<circle cx="499.4" cy="83" r="2.2"/>
<circle cx="484.1" cy="61.2" r="2.4"/>
<circle cx="484.2" cy="39.4" r="2.2"/>
<circle cx="487.9" cy="63.6" r="2.4"/>
<circle cx="510.2" cy="87.1" r="2.5"/>
<circle cx="548.3" cy="10.7" r="2.5"/>
<circle cx="502.6" cy="83.3" r="2.4"/>
<circle cx="508.7" cy="87.1" r="2.1"/>
<circle cx="506.9" cy="99.1" r="2.5"/>
<circle cx="485.4" cy="38" r="2.2"/>
<circle cx="479.9" cy="55.2" r="2.4"/>
<circle cx="505.2" cy="75.7" r="2"/>
<circle cx="505.7" cy="81.3" r="2.1"/>
<circle cx="514.8" cy="85.1" r="2.2"/>
<circle cx="462" cy="49.3" r="2.3"/>
<circle cx="459.4" cy="44.4" r="1.9"/>
<circle cx="520" cy="100.1" r="2.2"/>
<circle cx="514.1" cy="81" r="2.3"/>
<circle cx="459.6" cy="45.2" r="2"/>
<circle cx="529.1" cy="108.9" r="2.4"/>
<circle cx="486.5" cy="65.9" r="2.2"/>
<circle cx="518.1" cy="101.5" r="2.3"/>
<circle cx="463.4" cy="44.2" r="1.9"/>
<circle cx="510.8" cy="75.4" r="2.5"/>
<circle cx="470" cy="30.4" r="2.4"/>
<circle cx="462.5" cy="30.9" r="2.1"/>
<circle cx="528.9" cy="106.6" r="2.1"/>
<circle cx="506" cy="87.8" r="2.3"/>
<circle cx="501.3" cy="84.6" r="2"/>
<circle cx="508.9" cy="74.8" r="1.9"/>
<circle cx="511.5" cy="99.5" r="2.3"/>
<circle cx="512.9" cy="112.5" r="2.4"/>
<circle cx="525.7" cy="110" r="2"/>
<circle cx="531.7" cy="98.9" r="2"/>
<circle cx="517" cy="114.3" r="2.4"/>
<circle cx="501.7" cy="75.7" r="2.2"/>
<circle cx="503.9" cy="72.8" r="2.1"/>
<circle cx="479.8" cy="49.3" r="2.5"/>
<circle cx="499.3" cy="82.2" r="1.9"/>
<circle cx="482.9" cy="43.4" r="2.4"/>
<circle cx="462.9" cy="49.7" r="2.3"/>
<circle cx="518.5" cy="89.2" r="2.4"/>
<circle cx="529.5" cy="101" r="2"/>
<circle cx="489.4" cy="67" r="2.4"/>
<circle cx="486.8" cy="64" r="1.9"/>
<circle cx="517.9" cy="97.8" r="2.4"/>
<circle cx="520.6" cy="99.7" r="2.1"/>
<circle cx="513.6" cy="115" r="2.2"/>
<circle cx="502.5" cy="79.7" r="2.3"/>
<circle cx="508.2" cy="80.4" r="2.2"/>
<circle cx="506.2" cy="90.8" r="2.5"/>
<circle cx="464.4" cy="34.5" r="2.2"/>
<circle cx="506.6" cy="101.3" r="2.4"/>
<circle cx="480.3" cy="56.6" r="2.4"/>
<circle cx="478.2" cy="44" r="2.3"/>
<circle cx="479.8" cy="43.8" r="2.4"/>
<circle cx="512.2" cy="79.9" r="2"/>
<circle cx="477.9" cy="29.6" r="2.2"/>
<circle cx="510.1" cy="114.7" r="2.3"/>
<circle cx="512.4" cy="112.3" r="2.4"/>
<circle cx="483.6" cy="56.1" r="2.3"/>
<circle cx="518.7" cy="113.2" r="1.9"/>
<circle cx="515.2" cy="114.3" r="2.1"/>
<circle cx="501.3" cy="81.9" r="2"/>
<circle cx="528.6" cy="104.9" r="2.1"/>
<circle cx="518.1" cy="89.3" r="2.1"/>
<circle cx="508.5" cy="76.3" r="2.1"/>
<circle cx="519.3" cy="86.8" r="2"/>
<circle cx="482.3" cy="63.4" r="2.4"/>
<circle cx="507.7" cy="73.3" r="2.4"/>
<circle cx="511.1" cy="112.4" r="2.3"/>
<circle cx="514.9" cy="89.1" r="2.2"/>
<circle cx="477.5" cy="27.3" r="2.2"/>
<circle cx="509.6" cy="113.1" r="2.2"/>
<circle cx="506.5" cy="75.9" r="2.5"/>
<circle cx="483.4" cy="39.9" r="2"/>
<circle cx="476.5" cy="27.7" r="1.9"/>
<circle cx="519.6" cy="97.4" r="2.3"/>
<circle cx="521.9" cy="100.8" r="1.9"/>
<circle cx="513.6" cy="98.8" r="2.4"/>
<circle cx="483.2" cy="51.6" r="2.2"/>
<circle cx="530.8" cy="99.8" r="2.2"/>
<circle cx="500.8" cy="81.7" r="2.4"/>
<circle cx="513.3" cy="99.8" r="2"/>
<circle cx="460.1" cy="42.5" r="2.1"/>
<circle cx="508.3" cy="91.2" r="2.3"/>
<circle cx="485.8" cy="40.4" r="2.5"/>
<circle cx="482.6" cy="59.4" r="2.3"/>
<circle cx="521.4" cy="114.2" r="2"/>
<circle cx="529.2" cy="104.8" r="2"/>
<circle cx="480.7" cy="51.5" r="2.5"/>
<circle cx="513.3" cy="79.4" r="2.1"/>
<circle cx="465.7" cy="27.2" r="2.3"/>
<circle cx="469.5" cy="29.3" r="2.1"/>
<circle cx="512.2" cy="89.4" r="2.1"/>
<circle cx="469.7" cy="34.2" r="2.3"/>
<circle cx="508.2" cy="87.6" r="2.3"/>
<circle cx="480.3" cy="57" r="1.9"/>
<circle cx="461.9" cy="40.5" r="2.1"/>
<circle cx="499.8" cy="83.4" r="2.4"/>
<circle cx="543" cy="24.1" r="2.1"/>
<circle cx="514.6" cy="99.3" r="2.3"/>
<circle cx="543.6" cy="23.3" r="2.2"/>
<circle cx="465.5" cy="40.2" r="2.4"/>
<circle cx="488.7" cy="39.2" r="2.4"/>
<circle cx="478.7" cy="27.7" r="2.2"/>
<circle cx="467.3" cy="34" r="2.5"/>
<circle cx="516.1" cy="101.1" r="2"/>
<circle cx="480.1" cy="50.2" r="2.4"/>
<circle cx="465.8" cy="28.2" r="1.9"/>
<circle cx="531.9" cy="104.7" r="2.2"/>
<circle cx="459.4" cy="42.7" r="2.3"/>
<circle cx="483.3" cy="63.1" r="2.5"/>
<circle cx="471.1" cy="27.7" r="2.3"/>
<circle cx="482.9" cy="54.3" r="2.1"/>
<circle cx="545.9" cy="14.5" r="2.4"/>
<circle cx="465.6" cy="29.6" r="2.4"/>
<circle cx="469" cy="34.8" r="2.3"/>
<circle cx="479.8" cy="43.9" r="2.3"/>
<circle cx="482.3" cy="43.7" r="2.4"/>
<circle cx="500.2" cy="83.3" r="2.3"/>
<circle cx="547.5" cy="13" r="2.4"/>
<circle cx="468.2" cy="50.6" r="2.4"/>
<circle cx="509.5" cy="87.9" r="2.1"/>
<circle cx="545.4" cy="20.6" r="2.1"/>
<circle cx="545.3" cy="18.2" r="2.3"/>
<circle cx="523.6" cy="111.3" r="2.2"/>
<circle cx="488" cy="39.6" r="2"/>
<circle cx="530.6" cy="98.1" r="2.1"/>
<circle cx="514.4" cy="86.4" r="2.4"/>
<circle cx="515.6" cy="101.8" r="2.2"/>
<circle cx="544.6" cy="21.4" r="2.1"/>
<circle cx="479.4" cy="49.1" r="2"/>
<circle cx="516.4" cy="88.2" r="2.1"/>
<circle cx="545.6" cy="15.4" r="2"/>
<circle cx="480.8" cy="45.5" r="2"/>
<circle cx="512.4" cy="99" r="2.3"/>
<circle cx="532.4" cy="98.2" r="2.2"/>
<circle cx="487.6" cy="38" r="2.4"/>
<circle cx="485.7" cy="64.6" r="2"/>
<circle cx="515.2" cy="90.7" r="2.3"/>
<circle cx="518.7" cy="89.7" r="1.9"/>
<circle cx="502.6" cy="77.3" r="2.1"/>
<circle cx="481.6" cy="62.9" r="2.2"/>
<circle cx="472.2" cy="34.4" r="2.1"/>
<circle cx="511.9" cy="75.6" r="2.4"/>
<circle cx="483" cy="62.6" r="2.3"/>
<circle cx="508.3" cy="102.4" r="2.3"/>
<circle cx="484.3" cy="40.8" r="2.3"/>
<circle cx="464.1" cy="41.5" r="1.9"/>
<circle cx="508.3" cy="83.7" r="2"/>
<circle cx="463.3" cy="34.6" r="2.4"/>
<circle cx="510.2" cy="83.6" r="2.1"/>
<circle cx="462.8" cy="42.5" r="2.5"/>
<circle cx="507.5" cy="87.7" r="2.2"/>
<circle cx="529.7" cy="108.3" r="2.1"/>
<circle cx="463.9" cy="51.2" r="1.9"/>
<circle cx="530.8" cy="103.9" r="2.1"/>
<circle cx="510.4" cy="87.4" r="2"/>
<circle cx="484.9" cy="59" r="1.9"/>
<circle cx="476.2" cy="30" r="2.2"/>
<circle cx="544.7" cy="21.8" r="2"/>
<circle cx="503.4" cy="74.3" r="2.4"/>
<circle cx="502.8" cy="76.8" r="2.1"/>
<circle cx="488" cy="39.6" r="2.1"/>
<circle cx="507.3" cy="102.1" r="2"/>
<circle cx="510" cy="98.7" r="2.2"/>
<circle cx="520" cy="115.6" r="2.1"/>
<circle cx="530.4" cy="95.1" r="2.4"/>
<circle cx="547" cy="13.6" r="2.4"/>
<circle cx="510.7" cy="79.5" r="2.1"/>
<circle cx="530.7" cy="101.8" r="2.2"/>
<circle cx="512.1" cy="100.3" r="2.3"/>
<circle cx="502.5" cy="76.3" r="2.1"/>
<circle cx="531.2" cy="102.8" r="2.5"/>
<circle cx="508.8" cy="84.2" r="2.5"/>
<circle cx="470.7" cy="35.3" r="2.2"/>
<circle cx="463.1" cy="33.9" r="2.4"/>
<circle cx="544.6" cy="22.1" r="2"/>
<circle cx="504" cy="73.6" r="2.4"/>
<circle cx="507.9" cy="102.3" r="2.3"/>
<circle cx="468.6" cy="44.4" r="2"/>
<circle cx="509.6" cy="100" r="2.1"/>
<circle cx="500.6" cy="84.2" r="2.1"/>
<circle cx="516.9" cy="86.7" r="2.5"/>
<circle cx="546.7" cy="14.8" r="2"/>
<circle cx="512.6" cy="75.1" r="2.1"/>
<circle cx="508.9" cy="102.8" r="2.3"/>
<circle cx="469.6" cy="41.5" r="2.2"/>
<circle cx="525.3" cy="111.7" r="1.9"/>
<circle cx="513.7" cy="84.9" r="2"/>
<circle cx="464.3" cy="50.9" r="2.1"/>
<circle cx="510.6" cy="113.6" r="2.3"/>
<circle cx="515.1" cy="80.1" r="2.4"/>
<circle cx="545.5" cy="16.9" r="2.1"/>
<circle cx="478.7" cy="47.1" r="2.1"/>
<circle cx="488" cy="65" r="2.3"/>
<circle cx="521.5" cy="99.8" r="2.3"/>
<circle cx="499.4" cy="81.5" r="2.4"/>
<circle cx="507" cy="101.4" r="2.2"/>
<circle cx="512.3" cy="87.8" r="2.2"/>
<circle cx="467.2" cy="41" r="2.4"/>
<circle cx="463.3" cy="30.1" r="2.3"/>
<circle cx="463.4" cy="27.7" r="2.5"/>
<circle cx="476.7" cy="29.6" r="2.1"/>
<circle cx="504.9" cy="72.2" r="2"/>
<circle cx="464.6" cy="41.7" r="2.3"/>
<circle cx="505.9" cy="83.6" r="2.1"/>
<circle cx="464.2" cy="42.7" r="2.4"/>
<circle cx="482" cy="62.5" r="2.5"/>
<circle cx="512.8" cy="101.7" r="2.5"/>
<circle cx="510.9" cy="75.5" r="2.5"/>
<circle cx="530" cy="106.9" r="2.5"/>
<circle cx="467.2" cy="50.2" r="2.2"/>
<circle cx="489.2" cy="63.9" r="1.9"/>
<circle cx="474.1" cy="27.7" r="2"/>
<circle cx="469.2" cy="43.1" r="1.9"/>
<circle cx="463.6" cy="34.3" r="2.5"/>
<circle cx="516" cy="97.8" r="1.9"/>
<circle cx="506.5" cy="80.2" r="2.2"/>
<circle cx="517.9" cy="99.3" r="2.2"/>
<circle cx="484.5" cy="61.9" r="2.3"/>
<circle cx="465.6" cy="51.5" r="2.3"/>
<circle cx="479.9" cy="54.5" r="2.3"/>
<circle cx="477.5" cy="29.7" r="2"/>
<circle cx="506.8" cy="90.3" r="2"/>
<circle cx="544" cy="24.1" r="2.4"/>
<circle cx="483.9" cy="59.2" r="2"/>
<circle cx="507.4" cy="82.3" r="2.3"/>
<circle cx="498.6" cy="82" r="2.1"/>
<circle cx="531.1" cy="95.9" r="1.9"/>
<circle cx="478.4" cy="46" r="2.3"/>
<circle cx="480.9" cy="42.5" r="2.1"/>
<circle cx="531.5" cy="104.8" r="2.1"/>
<circle cx="499" cy="81.7" r="2.4"/>
<circle cx="542.5" cy="24.7" r="2.1"/>
<circle cx="483" cy="45.5" r="2.1"/>
<circle cx="544.2" cy="22.7" r="2.3"/>
<circle cx="479.5" cy="62.5" r="2.5"/>
<circle cx="461.9" cy="40.9" r="2.3"/>
<circle cx="465.7" cy="34" r="2.1"/>
<circle cx="517.4" cy="90.4" r="2"/>
<circle cx="479.2" cy="50.1" r="2"/>
<circle cx="510.7" cy="98.4" r="2.4"/>
<circle cx="521.7" cy="100.1" r="2.2"/>
<circle cx="459.2" cy="42.6" r="2.2"/>
<circle cx="506.8" cy="88" r="2"/>
<circle cx="521.4" cy="97.4" r="2.4"/>
<circle cx="509.5" cy="76.1" r="2.3"/>
<circle cx="481.4" cy="52.1" r="2"/>
<circle cx="506.9" cy="79.4" r="2"/>
<circle cx="466.5" cy="49.7" r="2.2"/>
<circle cx="498.6" cy="82.4" r="2.3"/>
<circle cx="526.5" cy="111.3" r="2"/>
<circle cx="479" cy="51.5" r="1.9"/>
<circle cx="481" cy="54.9" r="2.4"/>
<circle cx="513.4" cy="83" r="2.3"/>
<circle cx="484.4" cy="58.6" r="2.3"/>
<circle cx="526.8" cy="111.8" r="2.5"/>
<circle cx="514.6" cy="83.8" r="2.4"/>
<circle cx="469.9" cy="43" r="2.2"/>
<circle cx="466.5" cy="34.8" r="2.3"/>
<circle cx="483" cy="55.7" r="2"/>
<circle cx="463.2" cy="42.8" r="2.1"/>
<circle cx="464.7" cy="30.4" r="2.2"/>
<circle cx="503.9" cy="73.1" r="2"/>
<circle cx="503" cy="83.2" r="2.4"/>
<circle cx="502.5" cy="84.3" r="2.3"/>
<circle cx="521.7" cy="114.7" r="2.2"/>
<circle cx="501.5" cy="73.2" r="2.5"/>
<circle cx="524.3" cy="114.1" r="2.5"/>
<circle cx="473.7" cy="31" r="2.3"/>
<circle cx="512.9" cy="86.4" r="2.3"/>
<circle cx="545.7" cy="18.5" r="2.2"/>
<circle cx="510.1" cy="74.3" r="2.1"/>
<circle cx="503.1" cy="76.7" r="2.2"/>
<circle cx="519.8" cy="98.4" r="2.3"/>
<circle cx="472" cy="30.1" r="2.4"/>
<circle cx="506.4" cy="89.8" r="2.3"/>
<circle cx="460.5" cy="49.1" r="2.1"/>
<circle cx="458.7" cy="41.1" r="2.4"/>
<circle cx="518.4" cy="90.4" r="2.2"/>
<circle cx="464.1" cy="30.2" r="2.1"/>
<circle cx="480.4" cy="47.5" r="2.4"/>
<circle cx="467.6" cy="51.6" r="2.4"/>
<circle cx="481.9" cy="41.9" r="2.2"/>
<circle cx="481.8" cy="62.4" r="2.3"/>
<circle cx="518.9" cy="101.2" r="2.1"/>
<circle cx="516.1" cy="114" r="2.3"/>
<circle cx="481.6" cy="49.9" r="2.4"/>
<circle cx="548.5" cy="10.9" r="1.9"/>
<circle cx="526.8" cy="112" r="2.2"/>
<circle cx="513.4" cy="115.1" r="2.3"/>
<circle cx="472.4" cy="29.5" r="1.9"/>
<circle cx="476.4" cy="45.8" r="2.4"/>
<circle cx="490.4" cy="65.6" r="2.5"/>
<circle cx="462.1" cy="43.6" r="2.2"/>
<circle cx="510.6" cy="88.9" r="2"/>
<circle cx="529.3" cy="95.3" r="2.4"/>
<circle cx="468.3" cy="30" r="1.9"/>
<circle cx="517.3" cy="97.5" r="2"/>
<circle cx="461.7" cy="41.9" r="2.5"/>
<circle cx="508.1" cy="103.2" r="2.4"/>
<circle cx="477.1" cy="27" r="1.9"/>
<circle cx="505.1" cy="89.8" r="2.5"/>
<circle cx="532.2" cy="102.3" r="2.2"/>
<circle cx="466.7" cy="40.4" r="2.5"/>
<circle cx="469" cy="34.1" r="2.1"/>
<circle cx="511.6" cy="113" r="2.3"/>
<circle cx="468.9" cy="43" r="2.5"/>
<circle cx="462.7" cy="42.1" r="2.1"/>
<circle cx="514.6" cy="80.3" r="1.9"/>
<circle cx="514.8" cy="100" r="2.5"/>
<circle cx="515.2" cy="101.8" r="2.3"/>
<circle cx="475.4" cy="30" r="2"/>
<circle cx="523.3" cy="113.2" r="2"/>
<circle cx="487.8" cy="37.4" r="2.4"/>
<circle cx="511.2" cy="82.8" r="2"/>
<circle cx="472.1" cy="35.6" r="2.3"/>
<circle cx="485.1" cy="39.7" r="2.3"/>
<circle cx="513.7" cy="99.5" r="2.4"/>
<circle cx="466.9" cy="27.6" r="2.5"/>
<circle cx="480.6" cy="52.4" r="2"/>
<circle cx="522.5" cy="112.3" r="2.5"/>
<circle cx="526.6" cy="107.5" r="2.1"/>
<circle cx="509.7" cy="82.3" r="1.9"/>
<circle cx="467.2" cy="44.5" r="2.3"/>
<circle cx="462.2" cy="48.4" r="2.5"/>
<circle cx="530.3" cy="102.3" r="2.3"/>
<circle cx="510.9" cy="75.1" r="2.3"/>
<circle cx="478.9" cy="63.1" r="2.1"/>
<circle cx="518.6" cy="112.3" r="2"/>
<circle cx="481.7" cy="45.7" r="2"/>
<circle cx="529.9" cy="105.6" r="2"/>
<circle cx="470.2" cy="34.6" r="2.2"/>
<circle cx="501.8" cy="77" r="2.2"/>
<circle cx="486" cy="38.8" r="2.3"/>
<circle cx="487" cy="38.6" r="2.5"/>
<circle cx="468.3" cy="42.4" r="2.1"/>
<circle cx="478.6" cy="51" r="2"/>
<circle cx="501.9" cy="76.2" r="2"/>
<circle cx="466.7" cy="51.1" r="2.1"/>
<circle cx="531.9" cy="103" r="2.3"/>
<circle cx="468.7" cy="30" r="1.9"/>
<circle cx="464.3" cy="42.8" r="2.4"/>
<circle cx="505.6" cy="76.2" r="1.9"/>
<circle cx="472.9" cy="31" r="2.1"/>
<circle cx="513.9" cy="88.6" r="2"/>
<circle cx="482.2" cy="50.3" r="2"/>
<circle cx="510.3" cy="75.2" r="2.4"/>
<circle cx="505.3" cy="87.7" r="2"/>
<circle cx="509.3" cy="81.1" r="2.1"/>
<circle cx="506.5" cy="73.7" r="2.4"/>
<circle cx="516.3" cy="90.5" r="2.1"/>
<circle cx="533" cy="96.6" r="2.1"/>
<circle cx="479" cy="62.7" r="2.3"/>
<circle cx="506.8" cy="75.2" r="1.9"/>
<circle cx="545.9" cy="17.1" r="2.1"/>
<circle cx="519.4" cy="89.5" r="2.1"/>
<circle cx="516.6" cy="113.6" r="2.1"/>
<circle cx="509.4" cy="90.8" r="2"/>
<circle cx="469.6" cy="42.9" r="2"/>
<circle cx="464.7" cy="33.7" r="2"/>
<circle cx="477.9" cy="28.8" r="2.5"/>
<circle cx="464" cy="28.5" r="2.1"/>
<circle cx="504" cy="82.1" r="1.9"/>
<circle cx="515.9" cy="86.9" r="2.1"/>
<circle cx="481" cy="55.5" r="2.2"/>
<circle cx="463.2" cy="30.3" r="2"/>
<circle cx="459.8" cy="44.5" r="2.4"/>
<circle cx="525.9" cy="113.4" r="2.5"/>
<circle cx="501.4" cy="74.8" r="2.2"/>
<circle cx="517.3" cy="115.2" r="2.3"/>
<circle cx="513.2" cy="98.6" r="2.3"/>
<circle cx="478.9" cy="50.9" r="2.4"/>
<circle cx="508.8" cy="100.1" r="2.4"/>
<circle cx="499.6" cy="83.8" r="2.5"/>
<circle cx="485.9" cy="55.5" r="2.1"/>
<circle cx="484.8" cy="38.3" r="2.3"/>
<circle cx="464.6" cy="28.9" r="2.4"/>
<circle cx="486.2" cy="40.8" r="2.1"/>
<circle cx="532.5" cy="103.4" r="2.1"/>
<circle cx="519.5" cy="89.8" r="2.3"/>
<circle cx="530" cy="96.7" r="2.1"/>
<circle cx="480.8" cy="59.1" r="2.3"/>
<circle cx="479.2" cy="28.6" r="2"/>
<circle cx="504.5" cy="80.5" r="2"/>
<circle cx="484.9" cy="42.9" r="2"/>
<circle cx="464.1" cy="29.1" r="1.9"/>
<circle cx="505.5" cy="89.6" r="2"/>
<circle cx="516.8" cy="86.5" r="2.2"/>
<circle cx="500.6" cy="81.5" r="2.4"/>
<circle cx="511.2" cy="84.4" r="2"/>
<circle cx="548.1" cy="11.2" r="2.1"/>
<circle cx="463.3" cy="34.4" r="2.4"/>
<circle cx="516.2" cy="87.8" r="2.3"/>
<circle cx="481.9" cy="62.7" r="2.3"/>
<circle cx="514" cy="90.8" r="2.4"/>
<circle cx="531.2" cy="94.7" r="2"/>
<circle cx="512.2" cy="74.2" r="2.2"/>
<circle cx="519.2" cy="101" r="2.3"/>
<circle cx="485.6" cy="57.3" r="2.1"/>
<circle cx="488.3" cy="65.4" r="2.4"/>
<circle cx="546.5" cy="13.9" r="2.3"/>
<circle cx="547.4" cy="12.5" r="2.2"/>
<circle cx="512.8" cy="102.2" r="1.9"/>
<circle cx="469.2" cy="27" r="2"/>
<circle cx="467.5" cy="40.1" r="2.5"/>
<circle cx="512.1" cy="84.5" r="2.3"/>
<circle cx="501.7" cy="82.8" r="2.1"/>
<circle cx="508.1" cy="88.3" r="2.4"/>
<circle cx="501.2" cy="76.2" r="2.3"/>
<circle cx="479.5" cy="45.6" r="2.4"/>
<circle cx="483.3" cy="64.6" r="2"/>
<circle cx="517.4" cy="114.5" r="2.3"/>
<circle cx="511.6" cy="75.5" r="2.2"/>
<circle cx="504" cy="82.4" r="2.2"/>
<circle cx="488.1" cy="37.8" r="1.9"/>
<circle cx="462.7" cy="50" r="2.5"/>
<circle cx="511.7" cy="100.3" r="2.3"/>
<circle cx="467.6" cy="51" r="2"/>
<circle cx="477.8" cy="46.8" r="2.2"/>
<circle cx="467.2" cy="28.6" r="2.2"/>
<circle cx="481.7" cy="56.9" r="2"/>
<circle cx="514.5" cy="86.8" r="2.5"/>
<circle cx="483.2" cy="53.2" r="2.2"/>
<circle cx="484.6" cy="41.1" r="2.4"/>
<circle cx="509.3" cy="72.7" r="2.3"/>
<circle cx="528.4" cy="108" r="2.2"/>
<circle cx="479.1" cy="63.6" r="2.4"/>
<circle cx="528" cy="106.8" r="2.2"/>
<circle cx="530.2" cy="98.4" r="2.4"/>
<circle cx="507.4" cy="84.3" r="2.4"/>
<circle cx="532" cy="100.5" r="2.2"/>
<circle cx="515.3" cy="84" r="1.9"/>
<circle cx="491.4" cy="66.9" r="2.5"/>
<circle cx="491.2" cy="65.9" r="2.5"/>
<circle cx="481.4" cy="41.9" r="2"/>
<circle cx="504.2" cy="79" r="1.9"/>
<circle cx="483" cy="41.1" r="2"/>
<circle cx="521.6" cy="101.4" r="2.1"/>
<circle cx="521.3" cy="100.9" r="1.9"/>
<circle cx="486.6" cy="37.9" r="2.2"/>
<circle cx="513.7" cy="112.5" r="2.4"/>
<circle cx="485.6" cy="64.5" r="2.4"/>
<circle cx="501.3" cy="77.3" r="2.2"/>
<circle cx="468.7" cy="41.9" r="2.1"/>
<circle cx="509" cy="103" r="2.1"/>
<circle cx="469.9" cy="43.1" r="2"/>
<circle cx="473.8" cy="30.8" r="2.2"/>
<circle cx="465.7" cy="43.4" r="2.3"/>
<circle cx="468.3" cy="28.1" r="1.9"/>
<circle cx="520.6" cy="114.9" r="2.4"/>
<circle cx="482.7" cy="61.4" r="2.1"/>
<circle cx="461.8" cy="50" r="2"/>
<circle cx="516.5" cy="97.8" r="2.3"/>
<circle cx="509.1" cy="102.6" r="2"/>
<circle cx="505.1" cy="81" r="1.9"/>
<circle cx="530.2" cy="97" r="2"/>
<circle cx="526" cy="112.7" r="2.2"/>
<circle cx="512" cy="75.6" r="1.9"/>
<circle cx="507.5" cy="75.3" r="2.2"/>
<circle cx="516.2" cy="98.9" r="2.5"/>
<circle cx="526.8" cy="111.4" r="2.2"/>
<circle cx="461.2" cy="47.8" r="2.2"/>
<circle cx="483.6" cy="41.9" r="2"/>
<circle cx="479" cy="29.3" r="2.3"/>
<circle cx="518.9" cy="98.1" r="2.2"/>
<circle cx="460.4" cy="43.7" r="2.1"/>
<circle cx="531.6" cy="100.7" r="2.4"/>
<circle cx="480.9" cy="53.6" r="2.4"/>
<circle cx="490.4" cy="64.9" r="2.2"/>
<circle cx="460.2" cy="42.5" r="2.3"/>
<circle cx="471.2" cy="27.9" r="2.4"/>
<circle cx="464.4" cy="49.7" r="2.4"/>
<circle cx="509.7" cy="81.9" r="2.4"/>
<circle cx="467.5" cy="51.4" r="2.4"/>
<circle cx="518.9" cy="86.8" r="2"/>
<circle cx="527.3" cy="107.7" r="2.4"/>
<circle cx="524.6" cy="113.9" r="2"/>
<circle cx="545.6" cy="16.4" r="2.1"/>
<circle cx="475.2" cy="29.8" r="2"/>
<circle cx="466.3" cy="43.5" r="2.3"/>
<circle cx="490.5" cy="66.3" r="2"/>
<circle cx="547.8" cy="11.1" r="2.2"/>
<circle cx="479.9" cy="52.9" r="2.3"/>
<circle cx="480.2" cy="42.6" r="2.4"/>
<circle cx="501.4" cy="79.8" r="2"/>
<circle cx="491.5" cy="65.6" r="2.3"/>
<circle cx="462.8" cy="50.1" r="2.4"/>
<circle cx="478.6" cy="44.9" r="2.4"/>
<circle cx="531.4" cy="95.8" r="2.3"/>
<circle cx="512.9" cy="86.8" r="2.4"/>
<circle cx="501.4" cy="75" r="2.2"/>
<circle cx="504.7" cy="90.6" r="2.5"/>
<circle cx="512.2" cy="112.2" r="2.3"/>
<circle cx="505.1" cy="73.1" r="2.4"/>
<circle cx="485.5" cy="38.7" r="2"/>
<circle cx="475.2" cy="28.6" r="1.9"/>
<circle cx="467.8" cy="34.2" r="2"/>
<circle cx="478.3" cy="28" r="2.3"/>
<circle cx="485.4" cy="43.5" r="2.2"/>
<circle cx="507.2" cy="90.8" r="2.4"/>
<circle cx="477.7" cy="62.8" r="2"/>
<circle cx="511.9" cy="75.5" r="2.4"/>
<circle cx="504.6" cy="88.2" r="1.9"/>
<circle cx="511.3" cy="79.6" r="2.2"/>
<circle cx="478.8" cy="46.3" r="2.1"/>
<circle cx="483" cy="62.5" r="2.2"/>
<circle cx="522.8" cy="112.6" r="2.4"/>
<circle cx="518.7" cy="97.4" r="2.1"/>
<circle cx="511.7" cy="113.9" r="2.2"/>
<circle cx="466.6" cy="27.6" r="2.2"/>
<circle cx="542" cy="24.9" r="2"/>
<circle cx="520.5" cy="115.2" r="1.9"/>
<circle cx="507.6" cy="103" r="2.3"/>
<circle cx="521.1" cy="113.3" r="2.1"/>
<circle cx="477" cy="45.6" r="2"/>
<circle cx="460.5" cy="40.4" r="2.1"/>
<circle cx="512.4" cy="88" r="2.4"/>
<circle cx="482.2" cy="47.7" r="2.1"/>
<circle cx="481.2" cy="64" r="2.1"/>
<circle cx="510" cy="99.6" r="2.4"/>
<circle cx="470.9" cy="35.4" r="2.2"/>
<circle cx="513.8" cy="81.2" r="2.3"/>
<circle cx="530.8" cy="99.1" r="1.9"/>
<circle cx="484.8" cy="62.7" r="2.1"/>
<circle cx="505.5" cy="83.2" r="2.1"/>
<circle cx="491.4" cy="66.9" r="2.5"/>
<circle cx="510.8" cy="86.9" r="2.1"/>
<circle cx="480.4" cy="61.4" r="2.1"/>
<circle cx="513" cy="112.8" r="2.4"/>
<circle cx="484" cy="60.5" r="2.2"/>
<circle cx="505.6" cy="88.8" r="2.4"/>
<circle cx="510.3" cy="76.3" r="2.1"/>
<circle cx="512.4" cy="80.9" r="2"/>
<circle cx="519.4" cy="115.9" r="2.1"/>
<circle cx="482.5" cy="61.4" r="2"/>
<circle cx="515" cy="113.6" r="2.1"/>
<circle cx="466.6" cy="49.2" r="2.3"/>
<circle cx="512.1" cy="81.1" r="2.2"/>
<circle cx="527.8" cy="105.2" r="2.3"/>
<circle cx="484.2" cy="40.3" r="2.4"/>
<circle cx="509.4" cy="87.9" r="2.1"/>
<circle cx="510.1" cy="113.7" r="2"/>
<circle cx="514.3" cy="84.9" r="2.1"/>
<circle cx="481.6" cy="59.7" r="2"/>
<circle cx="487.1" cy="62.7" r="2.2"/>
<circle cx="521.8" cy="100.9" r="2.4"/>
<circle cx="508.3" cy="82.1" r="2.1"/>
<circle cx="513.7" cy="83.3" r="2.4"/>
<circle cx="506.3" cy="74.6" r="2.1"/>
<circle cx="459.4" cy="42" r="2.1"/>
<circle cx="471.2" cy="29.1" r="2.4"/>
<circle cx="511.4" cy="101.2" r="2.4"/>
<circle cx="518.2" cy="113.6" r="2.4"/>
<circle cx="480" cy="54.2" r="2.4"/>
<circle cx="482.6" cy="61.5" r="2.4"/>
<circle cx="483.6" cy="55.5" r="2.3"/>
<circle cx="544.3" cy="20.2" r="2.2"/>
<circle cx="460.5" cy="41.6" r="2.4"/>
<circle cx="543.4" cy="24.1" r="2.3"/>
<circle cx="460.8" cy="49.8" r="2.4"/>
<circle cx="483.3" cy="61.4" r="1.9"/>
<circle cx="465.6" cy="40.7" r="2.1"/>
<circle cx="484.5" cy="58.7" r="1.9"/>
<circle cx="517.5" cy="89.7" r="2.2"/>
<circle cx="509.7" cy="100.7" r="2.5"/>
<circle cx="529.6" cy="96.1" r="2.2"/>
<circle cx="469.9" cy="43.4" r="2.3"/>
<circle cx="482.7" cy="42.9" r="2"/>
<circle cx="527" cy="111.5" r="2"/>
<circle cx="488.3" cy="66.9" r="2.4"/>
<circle cx="511.5" cy="86.8" r="2.2"/>
<circle cx="509.4" cy="73.5" r="2"/>
<circle cx="469.6" cy="41.9" r="2.5"/>
<circle cx="508.1" cy="72.2" r="2"/>
</g>
<polyline fill="none" stroke="#5048c8" stroke-opacity="0.8" stroke-width="0.95" stroke-linejoin="round" points="465.1,40.1 464.7,40.5 464.4,40.4 463.9,41 463.6,41 463,41.3 462.7,41.6 462.2,42.4 461.9,42.9 461.3,43.3 460.4,43.5 460.3,43.9 459.6,44.4 458.9,45 458.4,45.4 457.7,45.6 457,46.2 456.7,46.5 456.4,47 455.8,47.2 455.2,47.8 455,47.9 454.1,48.6 453.4,49 453,49.3 452.3,50.1 451.9,50.4 451.4,50.5 451.2,50.8 450.9,51.1 450.5,51.9 450.2,51.8 449.3,52.3 449.1,53.2 448.5,53.5 447.9,54.3 447.6,54.5 447.3,55 447.2,55.6 447,55.8 447.4,56.6 447.4,56.7 448.3,57.1 448.7,57.5 449.9,58 450.5,57.9 450.8,58.2 451.4,57.8 452.2,57.4 452.6,56.9 453.4,56.8 453.7,56.1 454.4,55.6 454.9,55.2 455,55.2"/>
<polyline fill="none" stroke="#5048c8" stroke-opacity="0.8" stroke-width="0.95" stroke-linejoin="round" points="500,35.8 500.1,36.1 500.4,36.6 500.5,37.3 500.8,37.7 500.9,38.2 501.2,38.5 501.9,39.2 502.1,39.7 502.4,40.6 502.6,41.1 503.2,41.7 503.3,42.2 503.8,43 504.3,43.7 504.4,44.2 504.9,44.7 505.2,45.1 505.5,45.6 505.8,46.2 506.4,46.7 506.9,47.4 507.4,47.8 507.9,48.1 508.1,48.7 508.4,48.9 509,49.4 509.4,49.6 510.1,49.8 510.4,50.6 511.2,50.7 511.9,51.1 512.3,51.5 512.8,51.5 513.4,51.7 514,51.7 515,52 515.6,52.1 515.8,52 516.7,51.8 517,51.5 517.5,51.5 518.1,50.9 518.7,50.7 519.3,50.3 519.8,49.9 520.2,49.4 521.1,48.9 521.5,48.6 521.5,48.4 522,48.1"/>
<polyline fill="none" stroke="#5048c8" stroke-opacity="0.8" stroke-width="0.95" stroke-linejoin="round" points="483.9,82.1 484.4,81.9 484.9,81.6 485.5,81.3 485.9,80.9 486.4,81 486.9,80.5 487.8,80.3 488.8,80.1 489.1,80 490,80.2 490.4,80.2 491.1,80 491.6,80.6 492.4,80.6 492.9,81.3 493.9,81.6 494.5,81.9 495,82.1 495.9,82.6 496.2,82.9 496.7,83.3 497.3,83.4 497.6,83.8 498,84"/>
<polyline fill="none" stroke="#5048c8" stroke-opacity="0.8" stroke-width="0.95" stroke-linejoin="round" points="502.1,102.2 501.6,101.9 500.9,101.6 500.5,101.3 499.5,100.8 498.7,100.3 498.4,100.4 497.3,100.1 497.1,100 496.6,100.1 496,100.7 495.5,101.4 495.7,102.3 495.1,102.5 495.1,103.2 495.2,104 495,104.8 495.2,105.3 495.5,105.6 496,106 496.2,106.6 497,107.1 497.5,107 497.9,107.4 498.9,107.2 499.3,107.3 500,107 500.6,106.9 501.4,107 502,107.2 502.7,107.1 502.8,107.2"/>
<polyline fill="none" stroke="#5048c8" stroke-opacity="0.8" stroke-width="0.95" stroke-linejoin="round" points="507.8,114.9 507.9,115.4 507.4,116 507.3,116.4 506.7,117.1 506.5,117.2 506.2,118.1 505.7,118.6 505.5,119.6 505.3,120.3 504.8,120.9 505,121.5 505.2,122.2 505.6,121.9 506.1,122.1 506.8,121.4 507.6,121 508,120.8"/>
</g>
<text x="445.5" y="117.8" font-size="15.6" font-weight="bold" fill="#000">100 ns</text>
<rect x="564.5" y="7.5" width="117" height="117" fill="#fff" stroke="#8ea09d" stroke-width="1.3"/>
<clipPath id="cp2"><rect x="565.2" y="8.2" width="115.6" height="115.6"/></clipPath>
<g clip-path="url(#cp2)">
<polyline fill="none" stroke="#5048c8" stroke-opacity="0.8" stroke-width="0.95" stroke-linejoin="round" points="572,42.1 572.3,41.6 572.7,41.8 573.2,41.4 573.9,41.1 574.5,41 575.5,40.9 575.8,40.5 576.9,40.1 577.5,40.3 577.9,39.8 578.5,39.8 579.3,39.5 579.7,39.6 580.3,39.4 581.1,39.1 581.7,39 582.5,39.2 583,39 583.7,38.7 584,38.8 584.8,39.4 585.1,39.4 586,39.8 586.3,40.2 586.9,40.8 587.7,40.9 587.8,41.6 587.9,41.8 588,42.3 587.8,43 587.4,43.6 586.6,44.1 586.4,44.8 586.2,45"/>
<polyline fill="none" stroke="#5048c8" stroke-opacity="0.8" stroke-width="0.95" stroke-linejoin="round" points="631.5,31.6 631.8,31.4 632.6,31.3 633,30.8 633.8,30.6 634.8,30.3 635.2,30.1 635.8,30.2 636.4,30.3 637.3,30.5 637.8,30.7 638.4,30.9 639.3,30.8 639.7,31.1 640.1,30.4 640.8,30.1 641.4,29.7 641.8,29.7 642.4,29.6 642.5,30.2 643.2,30.9 643.5,31.3 643.9,32.1 644.2,32.7 644.9,33.2 645.5,33.4 645.8,34.3 646.2,34.6 646.7,35.1 647.4,35.2 647.6,35.8 648.3,36.4 649.1,36.7 649.1,37 650.1,37.2 650.5,37.5 651.3,37.8 651.6,38 652.4,38.4 653,38.6 653.2,39.4 653,39.7 653,40.3 652.8,41.2 652.6,42.1 652.4,42.5 652.4,43.1 652.1,43.8 652.4,44.6 652.7,44.9 653.2,45.7 653.8,45.5 654.4,45.8 655.5,46.1 656,45.7 656.6,45.6 657.3,45.7 657.8,45.2 658.5,44.9 659.2,44.5 659.3,44.1 659.4,43.2 659.6,42.7 659.9,41.9 659.7,40.9 660,40.6 660,40 659.4,39.5 658.9,39 658,39 657.2,38.6 656.6,38.7"/>
<polyline fill="none" stroke="#5048c8" stroke-opacity="0.8" stroke-width="0.95" stroke-linejoin="round" points="602,64.7 602.6,64.5 603.4,63.9 603.9,63.2 604.5,63.1 605.2,63.4 605.9,63.2 606.6,63.8 607.4,64.1 607.4,64.7 607.5,65.1 607.1,65.7 606.3,66.5 606.1,67.2 605.9,67.5 606.5,68.1 606.6,68.3 607.3,68.1 608.3,68.4 609.2,68.4 609.4,68.3 610.4,68.2 611.1,68 611.9,67.8 612.6,67.8 613.2,68 613.6,67.5 614.4,67.8"/>
<polyline fill="none" stroke="#5048c8" stroke-opacity="0.8" stroke-width="0.95" stroke-linejoin="round" points="656.8,57.9 657.1,57.9 657.8,57.6 658.1,57.7 658.6,57.4 659.5,57.8 660.3,57.4 660.7,57.6 661.7,57.3 662,57 662.9,57 663.5,56.8 664.1,56.9 664.5,56.6 665.1,56.6 665.9,56.7 666.4,56.3 667.1,56.2 667.4,56.3 668.2,56.4 668.8,56.2 669.4,56.4 669.8,57 670.9,57.3 671.4,57.5 671.9,57.8 672.3,58.3 672.8,58.8 673.1,58.9 673.4,59.5 673.3,59.7 673,60.4 672.7,61.1 672.5,61.6 672,62.2 671.6,62.8 671,63.2 670.6,63.7 670.4,64 669.7,64.4 669,64.5 668.5,64.5 667.6,64.8 666.9,64.9 666.1,65.2 665.8,65.5 665.2,65.7 664.3,66.1 663.7,66.2 663.2,66.5 662.8,66.8 663,67.1 663,67.7 663.3,68.4 663.7,68.5 664.7,69.3 664.9,69.4 665.8,69.7 666.2,70 667.1,70 667.5,70.2 668.1,70.2 668.8,70.8 669.1,70.9 670.2,70.6 670.6,70.4 671.1,70.4 671.7,70.5 672.3,70.2 673,69.9 673.7,69.9 674.5,69.1 675.3,68.7 675.5,68.3 676.2,68.3 676.3,68.4 676.6,68.9 676.5,69.3 676.3,69.9 676.1,70.8 675.4,71.6 675.4,72.3 674.6,73.1 674.2,73.3 673.5,73.4 672.8,74 672.1,74.1 671.4,74 670.9,74.4 670.1,74.1"/>
<polyline fill="none" stroke="#5048c8" stroke-opacity="0.8" stroke-width="0.95" stroke-linejoin="round" points="641.8,80.5 642,80.4 642.5,81 642.8,81.8 643.1,82.3 643.2,82.8 643.6,83.5 644,83.9 644.6,84.2 645,84.8 645.5,85.2 645.9,85.6 646.7,85.4 647.1,85.5 647.8,85.6 648.5,85.7 649.1,86.1 649.6,86.5 650.1,86.9 650.6,87.7 651.2,88.3 651.6,88.9 652.1,89.4 652.5,89.7 653.3,90.2 653.2,90.7 653.6,90.6 654.2,90.5 654.6,89.9 654.9,89.3 655.1,88.5 655.4,88"/>
<polyline fill="none" stroke="#5048c8" stroke-opacity="0.8" stroke-width="0.95" stroke-linejoin="round" points="622.4,74.2 622.6,74.9 622.7,75.1 623.3,75.6 623.3,76.4 623.8,77 624.3,77.2 624.7,77.8 625,78.6 625.6,78.8 626.1,79.4 626.6,80 627.3,80.4 628,80.5 628.2,80.3 628.7,80 629.1,79.9 629.8,79.2 630.5,78.7 630.9,77.8 630.9,77.6 631.4,77.5"/>
<polyline fill="none" stroke="#5048c8" stroke-opacity="0.8" stroke-width="0.95" stroke-linejoin="round" points="644.7,70 645.2,69.9 645.7,70.2 646.3,70.1 647,70.6 647.7,70.8 648.2,70.8 648.8,71.3 649.4,71.5 650.1,71.3 651,71.5 651.4,71.1 652,71.1 652.7,71.5 653.2,71.3 654.2,70.8 654.8,70.9 655.1,70.4 655.8,70.5 656.2,70.3 656.9,69.7 657.5,69.4 657.8,69 658.2,68.7 658.6,68.3 659.5,67.8 659.6,67.4 659.6,66.8"/>
<polyline fill="none" stroke="#5048c8" stroke-opacity="0.8" stroke-width="0.95" stroke-linejoin="round" points="625,49.8 625.3,50.5 625.4,50.5 625.6,51.4 626.2,51.7 626,52.5 626.7,52.7 626.9,53.5 627.6,54.2 627.9,54.8 628,55.5 628.3,56 628.8,56.5 629.4,57.2 629.7,57.7 629.9,57.9 630.4,58.5 631.1,58.6 632.1,58.9 632.9,59.2 633.4,59.7 633.9,59.8 634.5,59.8 635.1,59.8 635.7,60 635.9,60.1"/>
<g fill="url(#gr)">
<circle cx="569.7" cy="39.6" r="1.9"/>
<circle cx="650.3" cy="88.2" r="1.9"/>
<circle cx="617.5" cy="76.8" r="2"/>
<circle cx="631.6" cy="50" r="2.2"/>
<circle cx="641.5" cy="77.3" r="2.4"/>
<circle cx="654" cy="85.8" r="2"/>
<circle cx="649.7" cy="60.8" r="2.4"/>
<circle cx="634.1" cy="75.5" r="2.5"/>
<circle cx="635.2" cy="40.7" r="2.1"/>
<circle cx="657" cy="63.6" r="2.3"/>
<circle cx="620.1" cy="79.7" r="2.2"/>
<circle cx="642.7" cy="48.1" r="2.1"/>
<circle cx="612.5" cy="73.8" r="2.4"/>
<circle cx="639.4" cy="47.9" r="2.1"/>
<circle cx="635.3" cy="38.2" r="2.2"/>
<circle cx="636.8" cy="62.6" r="2.2"/>
<circle cx="653.6" cy="65" r="2.4"/>
<circle cx="639" cy="47" r="1.9"/>
<circle cx="574" cy="39.3" r="2.4"/>
<circle cx="638.8" cy="78.4" r="2.2"/>
<circle cx="617.7" cy="77.1" r="2"/>
<circle cx="648.7" cy="77.2" r="2.2"/>
<circle cx="651.9" cy="64" r="1.9"/>
<circle cx="645.3" cy="76.9" r="2.4"/>
<circle cx="660" cy="75.3" r="2.1"/>
<circle cx="635.3" cy="77.3" r="2"/>
<circle cx="654.2" cy="52.6" r="2"/>
<circle cx="653.6" cy="64.5" r="2.1"/>
<circle cx="642.5" cy="65" r="2.1"/>
<circle cx="643.7" cy="75.6" r="2"/>
<circle cx="619.3" cy="64.9" r="2"/>
<circle cx="661" cy="54.4" r="2.3"/>
<circle cx="576" cy="36.9" r="2"/>
<circle cx="648.3" cy="75.4" r="2.4"/>
<circle cx="640.4" cy="77.4" r="2.4"/>
<circle cx="571.3" cy="36.5" r="2.2"/>
<circle cx="628" cy="55.3" r="2.5"/>
<circle cx="577.9" cy="34.4" r="1.9"/>
<circle cx="638.7" cy="45.8" r="2.3"/>
<circle cx="652.5" cy="87.9" r="2.1"/>
<circle cx="657.7" cy="77.2" r="2.1"/>
<circle cx="634.5" cy="79.2" r="2.4"/>
<circle cx="656.7" cy="52.8" r="2.4"/>
<circle cx="568" cy="44" r="2.4"/>
<circle cx="628.9" cy="54.7" r="2.2"/>
<circle cx="638.4" cy="40.1" r="2.2"/>
<circle cx="656.4" cy="67.9" r="2.4"/>
<circle cx="574.4" cy="40.4" r="2.1"/>
<circle cx="632.1" cy="75.4" r="2.4"/>
<circle cx="635.2" cy="38.2" r="2.1"/>
<circle cx="623" cy="68.2" r="2.4"/>
<circle cx="616.5" cy="62.2" r="2"/>
<circle cx="568.5" cy="38.7" r="2.2"/>
<circle cx="656.1" cy="62.2" r="2.1"/>
<circle cx="662.7" cy="52.6" r="2.1"/>
<circle cx="633.8" cy="63.3" r="2.5"/>
<circle cx="655.5" cy="76.6" r="2.3"/>
<circle cx="652.7" cy="87.6" r="2"/>
<circle cx="636.7" cy="51.6" r="2"/>
<circle cx="652.4" cy="59.4" r="2.1"/>
<circle cx="658.3" cy="54.2" r="2"/>
<circle cx="634.8" cy="53.2" r="2.2"/>
<circle cx="615.1" cy="61.5" r="2.1"/>
<circle cx="658.5" cy="52.3" r="1.9"/>
<circle cx="657.3" cy="67.9" r="2"/>
<circle cx="641.6" cy="43.9" r="2.2"/>
<circle cx="659.1" cy="77.5" r="2.4"/>
<circle cx="658.2" cy="53.7" r="1.9"/>
<circle cx="651.3" cy="74.7" r="1.9"/>
<circle cx="572.9" cy="34.5" r="2.1"/>
<circle cx="659" cy="74.2" r="1.9"/>
<circle cx="646.8" cy="77" r="2.3"/>
<circle cx="637.4" cy="66.3" r="2.3"/>
<circle cx="654.9" cy="53.2" r="2.3"/>
<circle cx="620.2" cy="53.7" r="2.4"/>
<circle cx="637.1" cy="44.2" r="2"/>
<circle cx="571.5" cy="34.9" r="2.3"/>
<circle cx="662.3" cy="53.8" r="2"/>
<circle cx="661.2" cy="77.5" r="2"/>
<circle cx="653.6" cy="61.8" r="2.4"/>
<circle cx="638.7" cy="43.5" r="2.2"/>
<circle cx="651.5" cy="62.4" r="2.5"/>
<circle cx="617.4" cy="64" r="1.9"/>
<circle cx="631.5" cy="70.8" r="2.3"/>
<circle cx="637.2" cy="76.9" r="2.2"/>
<circle cx="642.7" cy="74.4" r="2.2"/>
<circle cx="635.5" cy="81.1" r="1.9"/>
<circle cx="659.4" cy="81.3" r="2.4"/>
<circle cx="623.9" cy="55.9" r="1.9"/>
<circle cx="634.2" cy="53.3" r="2.4"/>
<circle cx="623.3" cy="65.2" r="2"/>
<circle cx="651.3" cy="53.8" r="2.2"/>
<circle cx="635.6" cy="52.7" r="2"/>
<circle cx="567.7" cy="42.7" r="2.4"/>
<circle cx="635.5" cy="47.8" r="2.1"/>
<circle cx="656.5" cy="80.1" r="2.5"/>
<circle cx="642" cy="75.9" r="2.1"/>
<circle cx="650.1" cy="49.7" r="2.1"/>
<circle cx="633.6" cy="46.1" r="1.9"/>
<circle cx="650.3" cy="60.8" r="2.1"/>
<circle cx="632.6" cy="64.8" r="2.2"/>
<circle cx="652.8" cy="74.9" r="2"/>
<circle cx="617.2" cy="54.7" r="2.4"/>
<circle cx="634" cy="62.1" r="2.4"/>
<circle cx="659.9" cy="76" r="2.2"/>
<circle cx="616.8" cy="74.7" r="2.4"/>
<circle cx="567.2" cy="42.1" r="2.2"/>
<circle cx="651.9" cy="87.6" r="2.1"/>
<circle cx="635.1" cy="49.1" r="2.1"/>
<circle cx="644.6" cy="76.4" r="2.2"/>
<circle cx="566.8" cy="39.7" r="2"/>
<circle cx="656.4" cy="63.8" r="2"/>
<circle cx="568" cy="38.6" r="2.2"/>
<circle cx="568.9" cy="41.7" r="2.3"/>
<circle cx="634.1" cy="37.1" r="2"/>
<circle cx="655" cy="82.3" r="2.5"/>
<circle cx="644.5" cy="75.5" r="2.3"/>
<circle cx="662.3" cy="78.9" r="2"/>
<circle cx="619.7" cy="56.5" r="2.3"/>
<circle cx="633.6" cy="55.7" r="1.9"/>
<circle cx="651" cy="59.8" r="2"/>
<circle cx="631.5" cy="71.3" r="2.4"/>
<circle cx="650" cy="51.4" r="2"/>
<circle cx="622.9" cy="55" r="2.5"/>
<circle cx="661.8" cy="52.9" r="2.3"/>
<circle cx="634.8" cy="38.7" r="2.4"/>
<circle cx="619.6" cy="79" r="2.1"/>
<circle cx="619.7" cy="57" r="2.1"/>
<circle cx="611.5" cy="75.3" r="2.4"/>
<circle cx="632" cy="49.2" r="2"/>
<circle cx="660.2" cy="78.8" r="2.2"/>
<circle cx="618.8" cy="52.5" r="2.1"/>
<circle cx="616.4" cy="59.8" r="2"/>
<circle cx="625" cy="56.6" r="1.9"/>
<circle cx="618.4" cy="62.6" r="2.4"/>
<circle cx="660.1" cy="52.8" r="2.5"/>
<circle cx="659.4" cy="55" r="2.2"/>
<circle cx="652.3" cy="60.3" r="2"/>
<circle cx="637.2" cy="39.7" r="2.5"/>
<circle cx="642.6" cy="47.3" r="2.2"/>
<circle cx="651.8" cy="90.2" r="1.9"/>
<circle cx="633.1" cy="54.2" r="2.2"/>
<circle cx="618.1" cy="77.8" r="2.1"/>
<circle cx="634.6" cy="79.3" r="2.3"/>
<circle cx="655.8" cy="81.6" r="1.9"/>
<circle cx="570.7" cy="35.8" r="2"/>
<circle cx="650.8" cy="74.4" r="2"/>
<circle cx="634.5" cy="77.2" r="2.3"/>
<circle cx="652.9" cy="88.3" r="2"/>
<circle cx="632.7" cy="71.9" r="2.5"/>
<circle cx="627.8" cy="56.8" r="2.2"/>
<circle cx="623.2" cy="65.6" r="2.2"/>
<circle cx="568.1" cy="40.4" r="2.2"/>
<circle cx="649" cy="87.2" r="2.3"/>
<circle cx="618.4" cy="53.5" r="2.4"/>
<circle cx="660.8" cy="76" r="2.2"/>
<circle cx="630.1" cy="55.1" r="2.3"/>
<circle cx="620" cy="82.1" r="2.4"/>
<circle cx="618" cy="78.5" r="2.3"/>
<circle cx="659.1" cy="78.1" r="2.3"/>
<circle cx="619.9" cy="62.6" r="2.5"/>
<circle cx="574.6" cy="34.3" r="2.4"/>
<circle cx="641.4" cy="42.6" r="2.1"/>
<circle cx="613.1" cy="73.4" r="2.4"/>
<circle cx="641" cy="42.6" r="2"/>
<circle cx="641.3" cy="44.3" r="2.1"/>
<circle cx="614.1" cy="72.8" r="2.4"/>
<circle cx="655.3" cy="84.6" r="2.2"/>
<circle cx="638.5" cy="54.2" r="2.1"/>
<circle cx="620.2" cy="66.3" r="2"/>
<circle cx="635.2" cy="81.3" r="2"/>
<circle cx="567.3" cy="40.4" r="2.3"/>
<circle cx="634.4" cy="80" r="2.5"/>
<circle cx="629.8" cy="56.6" r="2.3"/>
<circle cx="617" cy="62.7" r="2.3"/>
<circle cx="636.1" cy="74.2" r="2"/>
<circle cx="617.9" cy="63.8" r="2.2"/>
<circle cx="621.1" cy="64.3" r="2.4"/>
<circle cx="650.6" cy="87.6" r="2.1"/>
<circle cx="631.8" cy="47.2" r="2.4"/>
<circle cx="660.7" cy="74.5" r="2.5"/>
<circle cx="653.4" cy="60.4" r="2.3"/>
<circle cx="635.7" cy="74.2" r="2.1"/>
<circle cx="653.1" cy="52.6" r="2"/>
<circle cx="661.4" cy="81.2" r="1.9"/>
<circle cx="618.8" cy="66.4" r="1.9"/>
<circle cx="641.4" cy="44.7" r="2.3"/>
<circle cx="624.1" cy="64.9" r="2.2"/>
<circle cx="620.1" cy="65.6" r="2.2"/>
<circle cx="572.7" cy="34.2" r="2.4"/>
<circle cx="636.4" cy="78.4" r="2.1"/>
<circle cx="629.1" cy="48" r="2"/>
<circle cx="654.4" cy="84.7" r="2.5"/>
<circle cx="654.1" cy="87.5" r="2.2"/>
<circle cx="638.2" cy="63.9" r="2.2"/>
<circle cx="649.4" cy="88" r="2.4"/>
<circle cx="640.3" cy="75.1" r="2.3"/>
<circle cx="639.2" cy="63.8" r="2"/>
<circle cx="642" cy="77" r="2.4"/>
<circle cx="659.3" cy="82.6" r="2.3"/>
<circle cx="661.5" cy="56.3" r="2.3"/>
<circle cx="653.3" cy="85.5" r="2.2"/>
<circle cx="656.4" cy="81.8" r="2"/>
<circle cx="630.9" cy="54.1" r="2.1"/>
<circle cx="633.2" cy="36.4" r="2.4"/>
<circle cx="635.8" cy="62.8" r="2.3"/>
<circle cx="617.9" cy="55.2" r="2.3"/>
<circle cx="618.2" cy="55.7" r="2.1"/>
<circle cx="637.3" cy="53.7" r="2.3"/>
<circle cx="629" cy="71.3" r="2.2"/>
<circle cx="629.5" cy="54" r="2.3"/>
<circle cx="660.4" cy="51.4" r="2"/>
<circle cx="661.6" cy="77.8" r="1.9"/>
<circle cx="567" cy="43.2" r="2"/>
<circle cx="568.9" cy="37" r="2.3"/>
<circle cx="661.2" cy="74.6" r="2"/>
<circle cx="649.9" cy="77.6" r="1.9"/>
<circle cx="656.3" cy="77.6" r="1.9"/>
<circle cx="620.9" cy="55" r="2.4"/>
<circle cx="636.8" cy="63.4" r="2.5"/>
<circle cx="631.8" cy="73.8" r="2.5"/>
<circle cx="635" cy="63.8" r="2.2"/>
<circle cx="617.6" cy="64.7" r="2.4"/>
<circle cx="577.3" cy="34.7" r="2.3"/>
<circle cx="574.7" cy="33.5" r="2.4"/>
<circle cx="640.3" cy="42.5" r="2.4"/>
<circle cx="572.3" cy="39.8" r="1.9"/>
<circle cx="614.3" cy="63.1" r="1.9"/>
<circle cx="640.2" cy="65.9" r="1.9"/>
<circle cx="633.9" cy="46.7" r="2.5"/>
<circle cx="660.2" cy="81.7" r="2.5"/>
<circle cx="637.1" cy="79.2" r="2"/>
<circle cx="660.6" cy="77.9" r="2.2"/>
<circle cx="660.6" cy="79.3" r="2.4"/>
<circle cx="650.9" cy="76.6" r="2.4"/>
<circle cx="647.4" cy="74.2" r="2.3"/>
<circle cx="658.9" cy="77.1" r="2.1"/>
<circle cx="619.8" cy="52.4" r="2.2"/>
<circle cx="636" cy="80.6" r="2.5"/>
<circle cx="651.9" cy="61.9" r="2.5"/>
<circle cx="621.4" cy="64.6" r="2.1"/>
<circle cx="660.2" cy="75.6" r="2.4"/>
<circle cx="615.6" cy="60.1" r="2.4"/>
<circle cx="651.2" cy="87.5" r="2.2"/>
<circle cx="654.9" cy="88" r="2"/>
<circle cx="628.9" cy="56.1" r="2.3"/>
<circle cx="639.9" cy="43.4" r="2.3"/>
<circle cx="617.2" cy="61.1" r="2"/>
<circle cx="567.4" cy="44" r="2.5"/>
<circle cx="636.2" cy="80.6" r="2.1"/>
<circle cx="620.9" cy="80.9" r="2.1"/>
<circle cx="620.6" cy="80.7" r="2.3"/>
<circle cx="577.6" cy="35.6" r="2.4"/>
<circle cx="616.2" cy="60.9" r="2.1"/>
<circle cx="570.5" cy="38.4" r="2.3"/>
<circle cx="658.7" cy="53.7" r="2.4"/>
<circle cx="572.6" cy="35.8" r="2.5"/>
<circle cx="653" cy="58.8" r="2.3"/>
<circle cx="634.7" cy="55.1" r="2"/>
<circle cx="659.2" cy="65.7" r="2.3"/>
<circle cx="660.9" cy="54.8" r="2.4"/>
<circle cx="635.4" cy="75.9" r="1.9"/>
<circle cx="621" cy="58.2" r="2.1"/>
<circle cx="631.7" cy="64" r="2"/>
<circle cx="625.7" cy="58.3" r="2.1"/>
<circle cx="650.8" cy="50.8" r="2"/>
<circle cx="649.7" cy="53.5" r="2.3"/>
<circle cx="611.3" cy="75.8" r="2.4"/>
<circle cx="651.4" cy="89.7" r="2.3"/>
<circle cx="628.9" cy="54" r="1.9"/>
<circle cx="627.5" cy="46.8" r="2"/>
<circle cx="641.9" cy="65.3" r="1.9"/>
<circle cx="633.7" cy="63.6" r="2.5"/>
<circle cx="650.9" cy="62" r="2"/>
<circle cx="624.6" cy="55.5" r="1.9"/>
<circle cx="661.3" cy="81.1" r="2.1"/>
<circle cx="639.9" cy="75.8" r="2.5"/>
<circle cx="632.3" cy="45.4" r="2.1"/>
<circle cx="614.6" cy="75.8" r="2.1"/>
<circle cx="632.3" cy="35.6" r="2.4"/>
<circle cx="640.2" cy="47.3" r="2.4"/>
<circle cx="629.2" cy="48.1" r="2"/>
<circle cx="635" cy="45.5" r="1.9"/>
<circle cx="636.8" cy="46.3" r="2.1"/>
<circle cx="660.9" cy="81.1" r="2.2"/>
<circle cx="614.4" cy="74.2" r="1.9"/>
<circle cx="662.3" cy="78.4" r="2"/>
<circle cx="571.1" cy="37" r="2.4"/>
<circle cx="573.1" cy="35.6" r="2.4"/>
<circle cx="577.3" cy="34.4" r="2.4"/>
<circle cx="634.3" cy="73.7" r="2.2"/>
<circle cx="625.1" cy="58.9" r="2.4"/>
<circle cx="614.6" cy="75.2" r="2.3"/>
<circle cx="633.2" cy="56.1" r="2.3"/>
<circle cx="615.6" cy="77.2" r="2.1"/>
<circle cx="658.9" cy="54.3" r="2.4"/>
<circle cx="573.7" cy="40.2" r="2.4"/>
<circle cx="621.1" cy="66.8" r="2"/>
<circle cx="632.4" cy="55.7" r="2.4"/>
<circle cx="656.1" cy="54.9" r="2.2"/>
<circle cx="657" cy="64.5" r="2.1"/>
<circle cx="640.6" cy="65.1" r="2.4"/>
<circle cx="657.9" cy="83.8" r="2.4"/>
<circle cx="639.8" cy="52.6" r="2.5"/>
<circle cx="621.1" cy="66.6" r="2.3"/>
<circle cx="572.4" cy="40.7" r="2.4"/>
<circle cx="661.9" cy="78.2" r="2.3"/>
<circle cx="630.5" cy="72.6" r="2.5"/>
<circle cx="637.7" cy="47.8" r="2.4"/>
<circle cx="638.8" cy="51" r="2.3"/>
<circle cx="652.5" cy="84" r="2.3"/>
<circle cx="637.1" cy="65.8" r="2.5"/>
<circle cx="620.9" cy="53.1" r="2.4"/>
<circle cx="616.7" cy="80.6" r="2.4"/>
<circle cx="612" cy="75.7" r="2.2"/>
<circle cx="631.4" cy="69.8" r="2.1"/>
<circle cx="633.2" cy="37.4" r="2.5"/>
<circle cx="614.6" cy="78.8" r="2.1"/>
<circle cx="655.6" cy="85.2" r="2.4"/>
<circle cx="636.2" cy="63.5" r="2.1"/>
<circle cx="630.5" cy="73" r="2.5"/>
<circle cx="628.1" cy="46.7" r="1.9"/>
<circle cx="573" cy="37.2" r="2.2"/>
<circle cx="661.7" cy="80.3" r="2.2"/>
<circle cx="616.2" cy="73.6" r="2.1"/>
<circle cx="612" cy="75.4" r="2.4"/>
<circle cx="641.1" cy="46.6" r="1.9"/>
<circle cx="632.4" cy="54.4" r="2.4"/>
<circle cx="637.6" cy="52.8" r="2"/>
<circle cx="645.5" cy="77.6" r="2.2"/>
<circle cx="636" cy="54.4" r="2.4"/>
<circle cx="639.7" cy="54.4" r="2"/>
<circle cx="654.1" cy="77.3" r="2.3"/>
<circle cx="625.2" cy="58.8" r="2.2"/>
<circle cx="619.2" cy="63.8" r="2.4"/>
<circle cx="639.3" cy="64.6" r="2.4"/>
<circle cx="662.3" cy="79" r="2.4"/>
<circle cx="615.2" cy="72.9" r="2.1"/>
<circle cx="660.4" cy="77.6" r="2.1"/>
<circle cx="640.5" cy="46" r="1.9"/>
<circle cx="630" cy="52.9" r="2.2"/>
<circle cx="631.1" cy="38.3" r="2.1"/>
<circle cx="636.1" cy="47.2" r="2.4"/>
<circle cx="656" cy="64.5" r="2.2"/>
<circle cx="632.7" cy="62" r="2.1"/>
<circle cx="658.6" cy="65.3" r="2.2"/>
<circle cx="619.8" cy="81.2" r="2.4"/>
<circle cx="619" cy="55.6" r="2.2"/>
<circle cx="568.8" cy="39.8" r="2.2"/>
<circle cx="654.6" cy="50.6" r="2.1"/>
<circle cx="652.6" cy="52.9" r="2.5"/>
<circle cx="628.4" cy="48.8" r="2.4"/>
<circle cx="630.6" cy="71.4" r="2"/>
<circle cx="628.9" cy="48" r="2.5"/>
<circle cx="649.6" cy="76.1" r="2.2"/>
<circle cx="635.9" cy="42" r="2.4"/>
<circle cx="630.2" cy="54" r="2"/>
<circle cx="610.5" cy="76.2" r="2.4"/>
<circle cx="631.4" cy="48" r="2.2"/>
<circle cx="628.4" cy="70.9" r="2.2"/>
<circle cx="655.2" cy="55.4" r="2"/>
<circle cx="652.2" cy="75" r="2.2"/>
<circle cx="640.2" cy="52.8" r="2"/>
<circle cx="641.3" cy="77.1" r="2.3"/>
<circle cx="639.5" cy="39.7" r="2.4"/>
<circle cx="643" cy="77.4" r="2.5"/>
<circle cx="656.2" cy="76.6" r="1.9"/>
<circle cx="623.2" cy="59.7" r="2.1"/>
<circle cx="651.1" cy="51.2" r="2.4"/>
<circle cx="618.6" cy="76.8" r="2.4"/>
<circle cx="568.7" cy="42.2" r="2.1"/>
<circle cx="633.6" cy="38.6" r="2.3"/>
<circle cx="649.9" cy="88.9" r="2"/>
<circle cx="658.7" cy="64.4" r="1.9"/>
<circle cx="634.9" cy="40.9" r="2.2"/>
<circle cx="653.2" cy="63" r="2.2"/>
<circle cx="633.8" cy="48.7" r="2.4"/>
<circle cx="654.8" cy="84.3" r="2.2"/>
<circle cx="632.7" cy="73.6" r="2.4"/>
<circle cx="614.8" cy="63.5" r="2.1"/>
<circle cx="628.5" cy="47.4" r="2.4"/>
<circle cx="631.9" cy="37.7" r="2.2"/>
<circle cx="624" cy="66.1" r="2"/>
<circle cx="650.2" cy="77.1" r="2.5"/>
<circle cx="656.9" cy="65.1" r="2.1"/>
<circle cx="638.4" cy="54.7" r="2"/>
<circle cx="639.3" cy="54.9" r="2"/>
<circle cx="653.5" cy="76.1" r="2.4"/>
<circle cx="572.8" cy="40.1" r="2.2"/>
<circle cx="630.3" cy="53.7" r="2.2"/>
<circle cx="660.8" cy="75.2" r="2"/>
<circle cx="632.3" cy="62.8" r="1.9"/>
<circle cx="615.1" cy="75.6" r="2.5"/>
<circle cx="568.8" cy="43.2" r="2.3"/>
<circle cx="577" cy="34.6" r="2.4"/>
<circle cx="570.6" cy="40.6" r="2.1"/>
<circle cx="620.3" cy="79.8" r="2.1"/>
<circle cx="623.8" cy="55.9" r="2.5"/>
<circle cx="630.7" cy="69.5" r="2.3"/>
<circle cx="616" cy="64.1" r="2.3"/>
<circle cx="573" cy="40.9" r="2"/>
<circle cx="640.1" cy="45.3" r="1.9"/>
<circle cx="640.2" cy="75.8" r="2.3"/>
<circle cx="568.7" cy="39.8" r="1.9"/>
<circle cx="628.9" cy="45.6" r="2.1"/>
<circle cx="641.8" cy="47.7" r="2.1"/>
<circle cx="638.5" cy="42.8" r="2.1"/>
<circle cx="575.2" cy="36.7" r="2"/>
<circle cx="619.9" cy="78.4" r="2.1"/>
<circle cx="656.3" cy="77.5" r="2"/>
<circle cx="654.7" cy="77.2" r="2.4"/>
<circle cx="633.5" cy="36.2" r="1.9"/>
<circle cx="641.4" cy="66.1" r="2.4"/>
<circle cx="640.5" cy="53.4" r="2.2"/>
<circle cx="640.2" cy="52.3" r="1.9"/>
<circle cx="631.5" cy="69.9" r="2.2"/>
<circle cx="655.7" cy="62.1" r="2.3"/>
<circle cx="634.4" cy="76.5" r="2"/>
<circle cx="628.2" cy="57.2" r="1.9"/>
<circle cx="634.6" cy="64.4" r="2.4"/>
<circle cx="653.8" cy="62.6" r="2"/>
<circle cx="622.6" cy="67" r="2.2"/>
<circle cx="624.8" cy="58.1" r="2.2"/>
<circle cx="632.8" cy="72.9" r="2.2"/>
<circle cx="630.6" cy="49.1" r="2.1"/>
<circle cx="641.5" cy="41.8" r="2.4"/>
<circle cx="632.4" cy="56" r="2.2"/>
<circle cx="567.7" cy="40.3" r="2.2"/>
<circle cx="631.2" cy="52.5" r="1.9"/>
<circle cx="658.1" cy="76.9" r="2.4"/>
<circle cx="636.2" cy="41.7" r="2.3"/>
<circle cx="616.4" cy="78.4" r="2.4"/>
<circle cx="568.7" cy="40.1" r="2.1"/>
<circle cx="622.2" cy="64.8" r="1.9"/>
<circle cx="653.1" cy="52.8" r="2.3"/>
<circle cx="628.7" cy="70.8" r="2.2"/>
<circle cx="659.7" cy="76.7" r="2.1"/>
<circle cx="613.2" cy="74.6" r="2"/>
<circle cx="661.2" cy="76.6" r="2"/>
<circle cx="657.2" cy="80.2" r="1.9"/>
<circle cx="632.8" cy="36.7" r="2.2"/>
<circle cx="657.6" cy="77.1" r="1.9"/>
<circle cx="567.6" cy="40.8" r="2.1"/>
<circle cx="568.5" cy="40.5" r="2.2"/>
<circle cx="636" cy="77.2" r="2"/>
<circle cx="658.4" cy="83.5" r="2.1"/>
<circle cx="570" cy="36.4" r="2.2"/>
<circle cx="567.5" cy="41" r="2.1"/>
<circle cx="660" cy="78.2" r="2.1"/>
<circle cx="651.1" cy="53.4" r="2.5"/>
<circle cx="635.5" cy="51.1" r="2.1"/>
<circle cx="618.3" cy="80.5" r="1.9"/>
<circle cx="656.6" cy="54.7" r="2.1"/>
<circle cx="660.9" cy="54.7" r="2.3"/>
<circle cx="625" cy="58.9" r="2.5"/>
<circle cx="570.5" cy="37.9" r="2.1"/>
<circle cx="632.1" cy="74.7" r="2.3"/>
<circle cx="617.6" cy="55.6" r="2.1"/>
<circle cx="648.5" cy="74.6" r="2"/>
<circle cx="650.1" cy="51.4" r="1.9"/>
<circle cx="652.4" cy="86.1" r="2"/>
<circle cx="652.8" cy="53.3" r="2.1"/>
<circle cx="653.7" cy="66.1" r="2"/>
<circle cx="632.2" cy="49.4" r="2"/>
<circle cx="635.3" cy="80.8" r="2.5"/>
<circle cx="621.8" cy="55.3" r="2"/>
<circle cx="641.8" cy="66" r="2.1"/>
<circle cx="632.6" cy="63.8" r="2.5"/>
<circle cx="615.3" cy="61.9" r="1.9"/>
<circle cx="654.4" cy="82.2" r="2.5"/>
<circle cx="656.5" cy="65.2" r="2.4"/>
<circle cx="639.6" cy="65.1" r="2.3"/>
<circle cx="637.8" cy="48.3" r="2.1"/>
<circle cx="629.7" cy="47.7" r="2.5"/>
<circle cx="655.6" cy="52" r="2.3"/>
<circle cx="652.6" cy="61.5" r="1.9"/>
<circle cx="656.8" cy="67.2" r="2.1"/>
<circle cx="575.9" cy="33.2" r="1.9"/>
<circle cx="640.2" cy="40.2" r="2"/>
<circle cx="660.9" cy="81.9" r="1.9"/>
<circle cx="638.3" cy="77.8" r="2.2"/>
<circle cx="635" cy="46.5" r="2"/>
<circle cx="653.7" cy="75.8" r="2"/>
<circle cx="634.2" cy="51.7" r="2.4"/>
<circle cx="632" cy="69.7" r="2.4"/>
<circle cx="639.3" cy="46.8" r="2.4"/>
<circle cx="656.6" cy="68.6" r="2"/>
<circle cx="639.1" cy="54.3" r="2"/>
<circle cx="636.4" cy="47" r="2.4"/>
<circle cx="638" cy="46.3" r="2.5"/>
<circle cx="623.5" cy="56.8" r="2.5"/>
<circle cx="615.2" cy="77.3" r="2.2"/>
<circle cx="659" cy="55.5" r="1.9"/>
<circle cx="641.6" cy="74.4" r="2.4"/>
<circle cx="623.7" cy="65.4" r="2.1"/>
<circle cx="613.3" cy="76.5" r="2.4"/>
<circle cx="651.2" cy="90.2" r="2.1"/>
<circle cx="621.3" cy="53.7" r="2.2"/>
<circle cx="570.2" cy="40.6" r="2.4"/>
<circle cx="635.2" cy="72.7" r="2"/>
<circle cx="655.1" cy="83.4" r="1.9"/>
<circle cx="638.3" cy="40.7" r="2.3"/>
<circle cx="629.8" cy="48.4" r="2.2"/>
<circle cx="628.9" cy="57.7" r="2.1"/>
<circle cx="618.2" cy="75.4" r="2.1"/>
<circle cx="632.3" cy="62.9" r="2.3"/>
<circle cx="569.5" cy="36.1" r="2.1"/>
<circle cx="650.5" cy="88" r="2.4"/>
<circle cx="655" cy="75.3" r="1.9"/>
<circle cx="625.7" cy="58.8" r="2"/>
<circle cx="641.4" cy="64.9" r="2.3"/>
<circle cx="656.7" cy="80.6" r="2.3"/>
<circle cx="651.2" cy="52.8" r="2"/>
<circle cx="628.9" cy="48.8" r="2.4"/>
<circle cx="650.6" cy="87.1" r="2"/>
<circle cx="633.9" cy="75.8" r="2.4"/>
<circle cx="644.3" cy="75.6" r="2.2"/>
<circle cx="629.2" cy="53.8" r="2.3"/>
<circle cx="640.2" cy="77.2" r="2.3"/>
<circle cx="620.7" cy="79.7" r="2.3"/>
<circle cx="636.7" cy="52.2" r="2.1"/>
<circle cx="652.2" cy="84.8" r="2.1"/>
<circle cx="647.1" cy="77.5" r="2.4"/>
<circle cx="628.9" cy="72.4" r="2.1"/>
<circle cx="634.8" cy="78.2" r="2"/>
<circle cx="624.5" cy="56.3" r="2.2"/>
<circle cx="650.4" cy="60.6" r="1.9"/>
<circle cx="573.5" cy="40.2" r="2.4"/>
<circle cx="568.1" cy="44" r="2"/>
<circle cx="654.9" cy="53.9" r="2.4"/>
<circle cx="628.2" cy="50" r="2.1"/>
<circle cx="654" cy="51.4" r="2"/>
<circle cx="625.8" cy="55.6" r="1.9"/>
<circle cx="570.7" cy="37.4" r="2"/>
<circle cx="627.9" cy="52.7" r="2.5"/>
<circle cx="623.8" cy="65" r="2.2"/>
<circle cx="660.4" cy="53.4" r="2.1"/>
<circle cx="645.7" cy="76.6" r="2.2"/>
<circle cx="660.9" cy="55.1" r="2.3"/>
<circle cx="654.4" cy="85.8" r="2.4"/>
<circle cx="617.6" cy="60.6" r="2.2"/>
<circle cx="623.2" cy="57.1" r="2.2"/>
<circle cx="622.1" cy="64.3" r="2.4"/>
<circle cx="636.2" cy="48.8" r="2.2"/>
<circle cx="633.6" cy="73.1" r="2"/>
<circle cx="659.6" cy="82" r="2.3"/>
<circle cx="657.1" cy="66.5" r="2.2"/>
<circle cx="640.2" cy="74.5" r="2.2"/>
<circle cx="567.3" cy="41.2" r="2"/>
<circle cx="641.2" cy="44.4" r="2.4"/>
<circle cx="652.2" cy="88.6" r="2.3"/>
<circle cx="630.2" cy="46" r="2.2"/>
<circle cx="643.5" cy="74.8" r="2"/>
<circle cx="657.3" cy="52" r="2.3"/>
<circle cx="653.4" cy="54.1" r="2.1"/>
<circle cx="620.7" cy="79" r="2.2"/>
<circle cx="632.7" cy="51.5" r="2.2"/>
<circle cx="635.6" cy="53.6" r="2"/>
<circle cx="640.1" cy="48.3" r="2.3"/>
<circle cx="622.6" cy="55.4" r="2.2"/>
<circle cx="630.1" cy="71.1" r="2.4"/>
<circle cx="571.8" cy="39.9" r="2.2"/>
<circle cx="575.6" cy="35.4" r="1.9"/>
<circle cx="618.8" cy="55.9" r="1.9"/>
<circle cx="569.9" cy="41.4" r="2.3"/>
<circle cx="620.8" cy="76.8" r="2.1"/>
<circle cx="640.6" cy="42.7" r="2"/>
<circle cx="624.6" cy="60.2" r="2"/>
<circle cx="652.3" cy="51.6" r="2.3"/>
<circle cx="570.5" cy="39.8" r="2"/>
<circle cx="652.5" cy="75.8" r="2.3"/>
<circle cx="633.3" cy="44.9" r="2.1"/>
<circle cx="635.3" cy="40.4" r="2.3"/>
<circle cx="659.7" cy="55.5" r="2.2"/>
<circle cx="632.8" cy="78" r="1.9"/>
<circle cx="577.6" cy="35.6" r="2"/>
<circle cx="658.1" cy="52" r="2.5"/>
<circle cx="657.8" cy="67.8" r="2.4"/>
<circle cx="631.6" cy="72.3" r="1.9"/>
<circle cx="650.6" cy="52.6" r="2.4"/>
<circle cx="641.7" cy="66.4" r="2.1"/>
<circle cx="650" cy="54" r="2"/>
<circle cx="638.2" cy="53.7" r="2.1"/>
<circle cx="640.3" cy="66" r="2.2"/>
<circle cx="617.7" cy="54.1" r="2.4"/>
<circle cx="638.2" cy="53.8" r="2"/>
<circle cx="655.8" cy="83.9" r="2.3"/>
</g>
<polyline fill="none" stroke="#5048c8" stroke-opacity="0.8" stroke-width="0.95" stroke-linejoin="round" points="643.4,45.9 643.6,46 644.3,46.1 645,46.5 645.8,46.7 646.7,47.3 647,47.3 648,47.2 648.8,47.6 649.1,47.1 650.3,46.8 650.8,46.7 651.1,46.3 651.8,46.2 652.1,46"/>
<polyline fill="none" stroke="#5048c8" stroke-opacity="0.8" stroke-width="0.95" stroke-linejoin="round" points="662.9,81.6 663.3,81.9 663.6,81.9 664.2,82 664.6,82.2 665.7,82.4 666.2,82.7 666.7,82.5 667.5,82.6 668,83.2 668.8,83.4 669.2,83.8 670.2,83.8 670.5,84.1 671.1,84.4 671.9,84.9 672.5,85.2 672.9,85.6 672.9,85.7 673.2,86.1 673.3,87 673.5,87.5 673.3,88.3 673.1,88.9 672.6,89.6 672.3,90 671.8,90.8 671.6,91.1 671.2,91.8 670.5,92.1 669.8,92.4 669.3,92.8 668.6,92.9 668.5,93.2 667.7,93.6 667.5,93.7 666.4,93.7 665.8,93.5 665.2,92.6 664.8,92.6 664.1,92.5 664.5,92.8 664.9,93.2 665.2,94.2 665.7,94.9 666,95.4"/>
<polyline fill="none" stroke="#5048c8" stroke-opacity="0.8" stroke-width="0.95" stroke-linejoin="round" points="634.3,51.7 634.4,52 634.9,52.7 634.8,53.3 635.1,53.6 635.3,54.4 635.9,55 636.3,55.8 636.1,56 636.7,56.8 637,57.2 637.3,58.1 637.8,58.4 638.3,59 638.8,59.5 639.1,59.7 639.7,60.4 640,60.9 640.4,61 641,61.4 641.3,61.9 641.7,62.5 642.3,62.7 642.8,63.4 643,64.2 643.3,64.4 643.5,64.9 644,65.5 644,66.1 644.4,66.7 644.7,66.8 645.4,67.1 646.2,67.8 647.1,67.9 647.4,68.1 648.1,68.2 649,68.5 649.3,68.3"/>
</g>
<text x="569.0" y="117.8" font-size="15.6" font-weight="bold" fill="#000">210 ns</text>
<rect x="315.5" y="132.5" width="118" height="117" fill="#fff" stroke="#8ea09d" stroke-width="1.3"/>
<clipPath id="cp3"><rect x="316.2" y="133.2" width="116.6" height="115.6"/></clipPath>
<g clip-path="url(#cp3)">
<polyline fill="none" stroke="#5048c8" stroke-opacity="0.8" stroke-width="0.95" stroke-linejoin="round" points="324.1,157.7 324.3,158.2 324.2,158.5 324,159.4 324,160.1 324.2,161 324.3,161.6 324.3,162.5 324.3,162.8 324.8,163.9 324.7,163.9 325.3,164.7 326,165.4 326.7,165.7 327.4,165.9 328,165.6 328.4,165.4 329,165.1 329.2,164.2 329.3,163.5 329.6,162.5 329.3,161.8 329.2,161.3 329.3,160.8 329.1,160.4 328.6,159.3 328.4,158.8 328.3,158.4 327.8,157.7 327.2,157.1 327.2,156.8 326.3,156.5 325.8,156.2 325.5,156.2 324.7,156"/>
<polyline fill="none" stroke="#5048c8" stroke-opacity="0.8" stroke-width="0.95" stroke-linejoin="round" points="329.4,165.6 329.7,165.3 330.5,165.2 331.4,164.8 332.2,164.5 332.5,164.1 333,163.6 333.5,163.1 333.7,162.9 334.5,162.4 334.6,161.7 335.1,161 335.4,160.6 335.7,160.1 336.2,159.8 336.6,158.8 337.1,158.6 337.7,158 337.8,157.3 338.2,157 338.7,156.4 339.3,156.2 339.7,155.4 340.3,155 341.1,154.5 341.5,154.5 342.3,154.5 342.9,155 343,155.2 343.5,155.7 343.5,156.5 343.7,157.2 344.1,157.8 343.7,158.5 343.5,159.1 343.1,159.4 343,160.4 342.5,160.5 341.8,161.2 341.5,161.7 341.2,162.2 340.5,162.4"/>
<polyline fill="none" stroke="#5048c8" stroke-opacity="0.8" stroke-width="0.95" stroke-linejoin="round" points="321.8,178.4 321.8,178 322.2,177.9 322.5,177.6 322.9,176.6 323.2,176.4 323.9,175.9 324.2,175.5 324.9,174.9 325.5,174.1 325.7,173.9 326.3,173.7 327,173.6 327.7,173.3 328.2,172.8 328.6,173 329.3,172.8 330,172.8 330.9,173 331.5,172.8 331.9,172.7 332.5,172.9 333.4,173.1 334,172.9 334.7,173.3 335.5,173.2 335.9,173.2 336.7,173.7 337.6,173.7 337.8,173.8 338.7,174.3 339.2,174.3 339.9,174.8 340.6,175.1 341.4,175.6 341.7,175.9 342.5,176.3 343,176.4 343.1,176.6"/>
<polyline fill="none" stroke="#5048c8" stroke-opacity="0.8" stroke-width="0.95" stroke-linejoin="round" points="335.7,187.8 336.2,188.1 336.2,188.9 336.8,189.3 337.4,189.9 337.4,190.8 338,191.4 338.2,192 338.2,192.5 338.5,193.1 338.4,194.1 338.6,194.5 338.3,195.1 338.3,196.1 338.1,196.4 337.9,197.1 337.3,197.4 336.9,197.9 335.9,198.7 335.5,198.9 335.3,199.3 335.2,199.3 335.8,199.3 336.7,199.6 337.4,200 337.8,199.8 338.7,200.3 339.1,200.5 339.3,200.9 339.8,201.9 339.8,202.1 340.1,202.9 340.7,203.7 340.3,204.4 340.8,204.8 340.6,205.4 340.4,206.2 340.4,206.6 340.2,207.5 340,208.1 339.7,208.8 339.4,209.2 338.9,209.9 339.2,210 339.5,210.9 340.2,211.3 340.6,211.6 341.4,211.5 342.3,211.8 342.8,211.9 343.2,211.5 343.9,211.4 344.3,211.4 345.2,211.1 346,210.6 346.3,210.2 346.9,210.1 347.6,210.1 348.5,210.1 349.1,209.8 349.9,209.9 350.5,209.7 350.8,209.4 351.6,209.5 351.7,209.5"/>
<polyline fill="none" stroke="#5048c8" stroke-opacity="0.8" stroke-width="0.95" stroke-linejoin="round" points="354.9,192.6 355.1,192.7 355.8,193.1 356.1,193.3 357,193.6 357.4,194.2 358.1,194.6 358.5,195.1 359.2,195.2 359.9,196.1 360,196.4 360.5,196.9 361.2,197.5 361.5,197.7 361.9,198.5 361.9,199 362.4,199.5 362.4,200.1 363.1,200.5 363.2,201.3 363.6,202.1 363.4,202.4 363.5,202.9 363.7,203.9 364.1,204.2 364.4,204.9 364.4,205.6 365.1,206.1 365.3,206.4 365.7,207.1 366.5,207.5 366.7,207.9 367.3,208.3 367.9,208.5"/>
<polyline fill="none" stroke="#5048c8" stroke-opacity="0.8" stroke-width="0.95" stroke-linejoin="round" points="380.4,183 380.6,183 381.4,183.2 382,183 382.8,182.7 383.5,182.7 384,182.6 385,182.4 385.5,182.5 386.4,182.4 387,182.4 387.6,182.7 388.5,183.1 388.8,183.4 389.5,183.9 389.7,184.3 390,185 389.8,185.2 389.9,186 389.2,187 388.5,187.7 388.5,187.9"/>
<polyline fill="none" stroke="#5048c8" stroke-opacity="0.8" stroke-width="0.95" stroke-linejoin="round" points="359.7,219.8 360.2,219.9 360.7,219.7 361.1,220.1 361.7,220.2 362.7,220.5 363.3,220.6 363.7,220.9 364.3,221.2 365.2,221.7 365.5,222.2 366.5,222.4 366.6,223 367.3,223.5 367.7,224 367.8,224.5 367.7,224.9 367.1,225.5 366,226 365,226.1 364.3,226.2 363.6,225.8 362.9,225.8 362.3,225.2 361.8,224.9 361.2,224.4"/>
<polyline fill="none" stroke="#5048c8" stroke-opacity="0.8" stroke-width="0.95" stroke-linejoin="round" points="352,216.5 351.8,217 352.2,217.3 352.1,218.2 352.2,218.5 352.5,219.3 352.7,220.1 352.9,220.8 353.3,221.5 353.6,221.6 354.3,222.6 355,223.2 355.2,223.7 355.6,224 356.4,224.1 356.4,224.7"/>
<polyline fill="none" stroke="#5048c8" stroke-opacity="0.8" stroke-width="0.95" stroke-linejoin="round" points="343.1,182.8 343.2,183.2 343.3,183.8 343.9,184.5 344.1,184.6 344.4,185.3 344.7,185.9 345.1,186.6 345.4,187.4 345.3,188.2 345.8,188.9 346,189.5 345.9,190.2 345.9,190.5 346.1,191 345.6,192.1 345.6,192.6 345.4,193.3 345.1,194 345.1,194.4 344.5,195 344.5,195.6 344.1,196.5 344.3,196.6 344.2,197"/>
<g fill="url(#gr)">
<circle cx="376.9" cy="199.4" r="2.2"/>
<circle cx="365.8" cy="171.6" r="2.5"/>
<circle cx="336" cy="164.6" r="2.3"/>
<circle cx="379.4" cy="192.2" r="2.3"/>
<circle cx="367.7" cy="188.4" r="2.5"/>
<circle cx="375.8" cy="193.8" r="2"/>
<circle cx="363.2" cy="207.9" r="2"/>
<circle cx="373.9" cy="179.6" r="2.1"/>
<circle cx="346.1" cy="175.2" r="2.5"/>
<circle cx="389.4" cy="187.6" r="2.2"/>
<circle cx="353.4" cy="174.3" r="2.1"/>
<circle cx="368.5" cy="201.3" r="2.3"/>
<circle cx="353.7" cy="183.2" r="1.9"/>
<circle cx="368.6" cy="195.6" r="2.5"/>
<circle cx="397.6" cy="195.9" r="2.3"/>
<circle cx="369.6" cy="205.9" r="2.1"/>
<circle cx="354.8" cy="186.5" r="2.2"/>
<circle cx="350.2" cy="194.9" r="2"/>
<circle cx="380.3" cy="202" r="2.1"/>
<circle cx="371.2" cy="205.1" r="2.4"/>
<circle cx="383.1" cy="206.6" r="2"/>
<circle cx="375.3" cy="184" r="2.3"/>
<circle cx="355.1" cy="186.3" r="2.1"/>
<circle cx="377.9" cy="199.9" r="2.5"/>
<circle cx="377.4" cy="205.9" r="2.4"/>
<circle cx="351.8" cy="201.6" r="2.5"/>
<circle cx="379.7" cy="199.3" r="2.2"/>
<circle cx="387.3" cy="188.4" r="2.5"/>
<circle cx="374.9" cy="187.6" r="2.2"/>
<circle cx="381.6" cy="204.3" r="2.2"/>
<circle cx="345.9" cy="188.5" r="2"/>
<circle cx="380.1" cy="202.8" r="2.4"/>
<circle cx="350.6" cy="189.4" r="2"/>
<circle cx="374.8" cy="193.1" r="2.5"/>
<circle cx="369.8" cy="193.8" r="2.3"/>
<circle cx="360.7" cy="205.7" r="2.2"/>
<circle cx="373.1" cy="182.2" r="2.5"/>
<circle cx="369" cy="188.7" r="2.3"/>
<circle cx="337.1" cy="164.2" r="2.1"/>
<circle cx="372.1" cy="179.2" r="2"/>
<circle cx="385.9" cy="202.6" r="2.1"/>
<circle cx="346.2" cy="191.9" r="2"/>
<circle cx="357.2" cy="218.5" r="2.3"/>
<circle cx="346.2" cy="190.6" r="2.4"/>
<circle cx="348.8" cy="191.3" r="2.3"/>
<circle cx="336.5" cy="165.1" r="2.2"/>
<circle cx="338.1" cy="166.5" r="2"/>
<circle cx="355.6" cy="220.9" r="2.2"/>
<circle cx="354.1" cy="220.8" r="2.4"/>
<circle cx="347.7" cy="197.7" r="2.1"/>
<circle cx="376.2" cy="184.8" r="2.1"/>
<circle cx="377.8" cy="199.8" r="2.5"/>
<circle cx="375.9" cy="195.7" r="2.2"/>
<circle cx="368.4" cy="193.6" r="2.2"/>
<circle cx="355.1" cy="214.8" r="1.9"/>
<circle cx="377.3" cy="203.2" r="2"/>
<circle cx="381.5" cy="206.6" r="2.4"/>
<circle cx="356.5" cy="172.6" r="2.4"/>
<circle cx="360.3" cy="206.9" r="1.9"/>
<circle cx="379" cy="198.7" r="2.2"/>
<circle cx="347.3" cy="187" r="2.2"/>
<circle cx="334.7" cy="166.2" r="2"/>
<circle cx="353" cy="215.7" r="2.3"/>
<circle cx="361.1" cy="173.8" r="2"/>
<circle cx="355.8" cy="175" r="1.9"/>
<circle cx="354.7" cy="166" r="2.4"/>
<circle cx="388.9" cy="187.4" r="2.2"/>
<circle cx="355.5" cy="221.7" r="2.4"/>
<circle cx="358.7" cy="208.9" r="2.5"/>
<circle cx="375.3" cy="197" r="2.4"/>
<circle cx="353.2" cy="167.1" r="2.2"/>
<circle cx="371.8" cy="182" r="2.3"/>
<circle cx="356.3" cy="206.4" r="2.5"/>
<circle cx="353.2" cy="200.2" r="2.4"/>
<circle cx="351.9" cy="172.3" r="2.4"/>
<circle cx="370.7" cy="171.7" r="2.1"/>
<circle cx="332.5" cy="166" r="2.2"/>
<circle cx="366.1" cy="199.2" r="2.5"/>
<circle cx="347.8" cy="198.9" r="2.3"/>
<circle cx="357.3" cy="206.9" r="2.4"/>
<circle cx="397" cy="195.8" r="2.5"/>
<circle cx="351.4" cy="175.5" r="2"/>
<circle cx="373.5" cy="186.8" r="2"/>
<circle cx="345.9" cy="168.9" r="2.3"/>
<circle cx="382.8" cy="199.2" r="2.1"/>
<circle cx="366.8" cy="188.1" r="2.2"/>
<circle cx="354.5" cy="188.8" r="2.3"/>
<circle cx="369.9" cy="201" r="2.5"/>
<circle cx="356.6" cy="206.3" r="2.2"/>
<circle cx="359.3" cy="207.3" r="2"/>
<circle cx="331.5" cy="166.6" r="2.2"/>
<circle cx="386.4" cy="206.2" r="2.1"/>
<circle cx="359.3" cy="205.4" r="2.5"/>
<circle cx="369.8" cy="201" r="2.5"/>
<circle cx="368" cy="191.9" r="2.2"/>
<circle cx="355.9" cy="184.8" r="2.3"/>
<circle cx="383.1" cy="198.7" r="2.1"/>
<circle cx="355.2" cy="167.2" r="2.4"/>
<circle cx="357" cy="189.2" r="2.2"/>
<circle cx="354.7" cy="217.4" r="2"/>
<circle cx="370.6" cy="181.4" r="2.1"/>
<circle cx="353" cy="216.2" r="2.3"/>
<circle cx="332.9" cy="166" r="2"/>
<circle cx="349.2" cy="197.9" r="2.5"/>
<circle cx="395.6" cy="196.2" r="2.3"/>
<circle cx="373.2" cy="201.8" r="2.3"/>
<circle cx="335.8" cy="166.4" r="2.4"/>
<circle cx="391" cy="188.6" r="2.4"/>
<circle cx="335.3" cy="165.9" r="2.2"/>
<circle cx="370.4" cy="204.1" r="1.9"/>
<circle cx="371.1" cy="168.7" r="2.2"/>
<circle cx="352" cy="166.4" r="2.1"/>
<circle cx="368.6" cy="170.9" r="2.3"/>
<circle cx="357.1" cy="172.8" r="1.9"/>
<circle cx="371.3" cy="204.9" r="2.3"/>
<circle cx="352.8" cy="212.5" r="2.4"/>
<circle cx="331.7" cy="165.5" r="1.9"/>
<circle cx="380.9" cy="203.9" r="2"/>
<circle cx="341.7" cy="164.5" r="2.1"/>
<circle cx="363.7" cy="170.8" r="2.5"/>
<circle cx="379.8" cy="196" r="2.4"/>
<circle cx="354" cy="178.8" r="2.1"/>
<circle cx="369.3" cy="168.8" r="2.4"/>
<circle cx="368.7" cy="190.8" r="2.1"/>
<circle cx="352" cy="175.2" r="2.2"/>
<circle cx="376.7" cy="198.2" r="2"/>
<circle cx="362.6" cy="172.1" r="1.9"/>
<circle cx="376" cy="188" r="2.3"/>
<circle cx="356.3" cy="178" r="2.1"/>
<circle cx="358.8" cy="166.8" r="1.9"/>
<circle cx="360.9" cy="163.2" r="2.1"/>
<circle cx="373.4" cy="189.1" r="2"/>
<circle cx="361.8" cy="170.2" r="2.3"/>
<circle cx="374.4" cy="190" r="2.3"/>
<circle cx="385.2" cy="204.1" r="2.4"/>
<circle cx="354" cy="220.6" r="2.1"/>
<circle cx="372.6" cy="193.9" r="2.2"/>
<circle cx="367" cy="187.7" r="2.2"/>
<circle cx="346.7" cy="171.9" r="2.4"/>
<circle cx="356.1" cy="205" r="2.5"/>
<circle cx="344.6" cy="175.4" r="2.3"/>
<circle cx="347.6" cy="171.6" r="2.2"/>
<circle cx="356.3" cy="167.3" r="2.1"/>
<circle cx="345.8" cy="168" r="2.4"/>
<circle cx="354.6" cy="222.1" r="2.4"/>
<circle cx="350.6" cy="175.4" r="2.5"/>
<circle cx="361.2" cy="164" r="2.3"/>
<circle cx="371.6" cy="195.4" r="2.4"/>
<circle cx="379.9" cy="194.3" r="2.1"/>
<circle cx="358.2" cy="221.2" r="1.9"/>
<circle cx="358.4" cy="165.9" r="2.3"/>
<circle cx="379.9" cy="190.5" r="2"/>
<circle cx="347.2" cy="185.7" r="2"/>
<circle cx="348.7" cy="166.1" r="2.3"/>
<circle cx="350.7" cy="193.1" r="2.3"/>
<circle cx="369.7" cy="204.6" r="2"/>
<circle cx="366.3" cy="207.6" r="2.4"/>
<circle cx="350" cy="173.9" r="2.1"/>
<circle cx="368.7" cy="189.8" r="2.3"/>
<circle cx="356.5" cy="209.4" r="2.5"/>
<circle cx="354.9" cy="177.4" r="2.1"/>
<circle cx="377.3" cy="204.9" r="1.9"/>
<circle cx="399.7" cy="193.7" r="1.9"/>
<circle cx="376.6" cy="206.8" r="1.9"/>
<circle cx="352.3" cy="175.4" r="2.1"/>
<circle cx="355.1" cy="174.8" r="2.5"/>
<circle cx="348" cy="168.4" r="2.4"/>
<circle cx="346.8" cy="175.9" r="2"/>
<circle cx="369.4" cy="197.5" r="2.1"/>
<circle cx="346.6" cy="168.4" r="2.4"/>
<circle cx="355.5" cy="172.7" r="2"/>
<circle cx="353.8" cy="174" r="2.4"/>
<circle cx="377.9" cy="196.1" r="2.3"/>
<circle cx="394.6" cy="191" r="2"/>
<circle cx="388.1" cy="187.8" r="2.2"/>
<circle cx="392.6" cy="194.6" r="2.2"/>
<circle cx="381.3" cy="198.3" r="2.4"/>
<circle cx="334" cy="166.9" r="1.9"/>
<circle cx="367.6" cy="170.4" r="2"/>
<circle cx="370.3" cy="206.1" r="2.5"/>
<circle cx="363.9" cy="208.7" r="2"/>
<circle cx="390.4" cy="188.2" r="1.9"/>
<circle cx="385.9" cy="203.2" r="2.1"/>
<circle cx="382.5" cy="201.3" r="2.2"/>
<circle cx="349.3" cy="168.2" r="2"/>
<circle cx="369.1" cy="171.2" r="2.4"/>
<circle cx="370.9" cy="193.6" r="2.5"/>
<circle cx="348.4" cy="175.9" r="2.3"/>
<circle cx="357.8" cy="207.8" r="1.9"/>
<circle cx="364" cy="208" r="2.2"/>
<circle cx="387.2" cy="188.3" r="2.4"/>
<circle cx="394.4" cy="191.4" r="2.3"/>
<circle cx="380.1" cy="205" r="2"/>
<circle cx="353" cy="165.7" r="2.1"/>
<circle cx="379.1" cy="201.9" r="2.5"/>
<circle cx="379.5" cy="206.8" r="2"/>
<circle cx="355.4" cy="218" r="2"/>
<circle cx="353.4" cy="165.7" r="2.4"/>
<circle cx="354.8" cy="179.1" r="2.2"/>
<circle cx="366.3" cy="193.5" r="2.3"/>
<circle cx="352.1" cy="167.7" r="1.9"/>
<circle cx="382.5" cy="199" r="2.4"/>
<circle cx="398.1" cy="193.5" r="2.1"/>
<circle cx="356.4" cy="181.9" r="2"/>
<circle cx="360.6" cy="164.4" r="2.2"/>
<circle cx="391.7" cy="188.1" r="2.1"/>
<circle cx="374.1" cy="203.5" r="2.2"/>
<circle cx="367.6" cy="196.6" r="2.4"/>
<circle cx="350.6" cy="167.4" r="2.3"/>
<circle cx="345" cy="176.1" r="2.3"/>
<circle cx="356.7" cy="166.9" r="2.4"/>
<circle cx="346.1" cy="186" r="2.5"/>
<circle cx="378" cy="192.2" r="2.5"/>
<circle cx="350.4" cy="168.1" r="2"/>
<circle cx="355.9" cy="205.1" r="1.9"/>
<circle cx="385.6" cy="203.9" r="2.3"/>
<circle cx="339.1" cy="162.5" r="2.1"/>
<circle cx="382.3" cy="201.1" r="2.2"/>
<circle cx="352.9" cy="167.1" r="1.9"/>
<circle cx="365.2" cy="205.8" r="2.1"/>
<circle cx="344.6" cy="187" r="2"/>
<circle cx="376.1" cy="189.9" r="2.4"/>
<circle cx="352.9" cy="194.5" r="2"/>
<circle cx="377.3" cy="194.2" r="1.9"/>
<circle cx="375.9" cy="194.6" r="2.4"/>
<circle cx="364.1" cy="170.1" r="2.1"/>
<circle cx="348" cy="200.5" r="2.4"/>
<circle cx="358.4" cy="172.9" r="2.3"/>
<circle cx="372.8" cy="197.3" r="1.9"/>
<circle cx="348" cy="187.2" r="2.2"/>
<circle cx="354" cy="186.8" r="2"/>
<circle cx="352.6" cy="212" r="2.1"/>
<circle cx="354.7" cy="220.5" r="2.5"/>
<circle cx="363.6" cy="170.3" r="2"/>
<circle cx="363.5" cy="171.1" r="2.1"/>
<circle cx="348.5" cy="188.9" r="2.4"/>
<circle cx="382.4" cy="203.6" r="2"/>
<circle cx="350" cy="199.5" r="2"/>
<circle cx="359.3" cy="205" r="2.3"/>
<circle cx="348.6" cy="170.1" r="1.9"/>
<circle cx="362.1" cy="205.3" r="2.3"/>
<circle cx="343.7" cy="176.5" r="2.2"/>
<circle cx="372.8" cy="193.1" r="2.2"/>
<circle cx="390.9" cy="190.1" r="2"/>
<circle cx="372.4" cy="205.8" r="2.4"/>
<circle cx="379" cy="191.1" r="2.3"/>
<circle cx="349.8" cy="199.9" r="2.2"/>
<circle cx="351.5" cy="169.3" r="2.4"/>
<circle cx="381.4" cy="201.1" r="2.2"/>
<circle cx="338.2" cy="163.3" r="2.3"/>
<circle cx="349.7" cy="175.2" r="1.9"/>
<circle cx="383.3" cy="200.8" r="2"/>
<circle cx="373" cy="191" r="2.2"/>
<circle cx="357.1" cy="163.9" r="2.4"/>
<circle cx="356.4" cy="205.6" r="2.4"/>
<circle cx="365.3" cy="172.7" r="2.4"/>
<circle cx="375.4" cy="203.1" r="2.1"/>
<circle cx="333.8" cy="166.9" r="2.2"/>
<circle cx="347.6" cy="170.1" r="2.3"/>
<circle cx="355.1" cy="189.2" r="2.4"/>
<circle cx="373.2" cy="201.6" r="2"/>
<circle cx="378.1" cy="202" r="2.4"/>
<circle cx="376" cy="200.8" r="2.5"/>
<circle cx="355.9" cy="205.2" r="2"/>
<circle cx="375.2" cy="186.5" r="2.2"/>
<circle cx="357.5" cy="218.4" r="2.3"/>
<circle cx="387" cy="206" r="2"/>
<circle cx="367.6" cy="198.3" r="2.2"/>
<circle cx="364.7" cy="206.4" r="2.3"/>
<circle cx="376.7" cy="205.2" r="2"/>
<circle cx="344" cy="187.2" r="2.2"/>
<circle cx="382.1" cy="205" r="1.9"/>
<circle cx="376" cy="204" r="2"/>
<circle cx="349.6" cy="196.6" r="2"/>
<circle cx="348.5" cy="175.7" r="1.9"/>
<circle cx="375" cy="186.1" r="2"/>
<circle cx="371.6" cy="194.1" r="2"/>
<circle cx="355.7" cy="217.6" r="2"/>
<circle cx="397" cy="196.7" r="2.3"/>
<circle cx="355.2" cy="177.9" r="2.3"/>
<circle cx="352.5" cy="168.8" r="2"/>
<circle cx="368.3" cy="199.3" r="2.1"/>
<circle cx="337.8" cy="164.7" r="2.2"/>
<circle cx="360.6" cy="208.5" r="2.2"/>
<circle cx="365.7" cy="208.6" r="2"/>
<circle cx="354.7" cy="219.2" r="2.1"/>
<circle cx="348.7" cy="193.4" r="2.4"/>
<circle cx="355.9" cy="176.7" r="2.5"/>
<circle cx="383.2" cy="202.3" r="2.4"/>
<circle cx="357.6" cy="172.5" r="2.1"/>
<circle cx="342.1" cy="162" r="2"/>
<circle cx="352.5" cy="172.9" r="2.4"/>
<circle cx="356.2" cy="216.5" r="2.1"/>
<circle cx="364.3" cy="207.6" r="2.4"/>
<circle cx="380.9" cy="205.7" r="2.3"/>
<circle cx="372.5" cy="178.8" r="2.1"/>
<circle cx="355.1" cy="188.5" r="2.3"/>
<circle cx="356.9" cy="207.1" r="2.4"/>
<circle cx="372.3" cy="198.8" r="2.1"/>
<circle cx="375.3" cy="188.9" r="2"/>
<circle cx="356.2" cy="180.1" r="2.1"/>
<circle cx="357.1" cy="219" r="2"/>
<circle cx="378.5" cy="190.1" r="2.3"/>
<circle cx="374.7" cy="182.7" r="2.3"/>
<circle cx="370.5" cy="206.6" r="2.5"/>
<circle cx="356.8" cy="181.5" r="2.1"/>
<circle cx="356.6" cy="213.1" r="1.9"/>
<circle cx="370.9" cy="199.3" r="2"/>
<circle cx="375.6" cy="196.2" r="2"/>
<circle cx="369.7" cy="196" r="1.9"/>
<circle cx="371.7" cy="177.4" r="2.2"/>
<circle cx="393" cy="190.3" r="2.4"/>
<circle cx="368.5" cy="200.6" r="2.2"/>
<circle cx="373.4" cy="205.9" r="2.2"/>
<circle cx="383.5" cy="198.3" r="2.1"/>
<circle cx="382.5" cy="200.2" r="2.2"/>
<circle cx="360.8" cy="173.6" r="2.3"/>
<circle cx="355.1" cy="183.3" r="2.4"/>
<circle cx="338.5" cy="164.6" r="2.2"/>
<circle cx="348.5" cy="169.6" r="2.1"/>
<circle cx="351.3" cy="197.6" r="2"/>
<circle cx="370.5" cy="205" r="2.3"/>
<circle cx="368" cy="169.2" r="2.2"/>
<circle cx="375.5" cy="196.8" r="2.1"/>
<circle cx="378.1" cy="205.1" r="2"/>
<circle cx="348.5" cy="191.6" r="2.1"/>
<circle cx="342.7" cy="161.1" r="2"/>
<circle cx="349.6" cy="189.9" r="2.2"/>
<circle cx="374" cy="194.3" r="2.5"/>
<circle cx="388.1" cy="190.3" r="2"/>
<circle cx="355.1" cy="174.6" r="2.1"/>
<circle cx="366.4" cy="196.1" r="2.3"/>
<circle cx="354" cy="187" r="2.3"/>
<circle cx="369.4" cy="168.4" r="1.9"/>
<circle cx="397.3" cy="195.4" r="2"/>
<circle cx="372.7" cy="180.5" r="2"/>
<circle cx="348.6" cy="201.6" r="2.4"/>
<circle cx="360" cy="166.3" r="2.5"/>
<circle cx="367.3" cy="196.6" r="2.5"/>
<circle cx="396.1" cy="191.7" r="2.1"/>
<circle cx="356.9" cy="186.9" r="2.1"/>
<circle cx="356" cy="213.8" r="2.4"/>
<circle cx="379.2" cy="202.7" r="2"/>
<circle cx="355.4" cy="222.4" r="2.4"/>
<circle cx="345.5" cy="186" r="2.1"/>
<circle cx="372.7" cy="191.5" r="2.1"/>
<circle cx="372.1" cy="177.9" r="2.5"/>
<circle cx="366.1" cy="193" r="2.3"/>
<circle cx="339.9" cy="163.2" r="2.3"/>
<circle cx="371.7" cy="201.7" r="2.4"/>
<circle cx="376.5" cy="194.2" r="2.5"/>
<circle cx="397.6" cy="195.7" r="2.2"/>
<circle cx="348.1" cy="187.7" r="2.3"/>
<circle cx="354.9" cy="166.4" r="2.1"/>
<circle cx="355.7" cy="164.8" r="2.1"/>
<circle cx="343.9" cy="161.5" r="2.1"/>
<circle cx="365.7" cy="193.3" r="2.2"/>
<circle cx="352.5" cy="198.6" r="2.1"/>
<circle cx="363" cy="208.8" r="2.3"/>
<circle cx="376.8" cy="204.8" r="2.3"/>
<circle cx="352.4" cy="175.9" r="2.3"/>
<circle cx="381.2" cy="198.6" r="2.4"/>
<circle cx="365.8" cy="208" r="2.2"/>
<circle cx="369.9" cy="179.5" r="2"/>
<circle cx="349.3" cy="191.4" r="2.1"/>
<circle cx="374.2" cy="182.2" r="2.1"/>
<circle cx="374.2" cy="183.8" r="2.2"/>
<circle cx="379" cy="198.4" r="2.5"/>
<circle cx="357.4" cy="166" r="2.3"/>
<circle cx="368.3" cy="193.2" r="2.3"/>
<circle cx="379.3" cy="195.9" r="2.3"/>
<circle cx="345.7" cy="187.5" r="2.3"/>
<circle cx="350.2" cy="202" r="2.5"/>
<circle cx="375" cy="205.1" r="2.4"/>
<circle cx="395.4" cy="191.7" r="2.4"/>
<circle cx="376.5" cy="199.2" r="2"/>
<circle cx="375.8" cy="192" r="2.2"/>
<circle cx="379.3" cy="194.8" r="2.4"/>
<circle cx="388.7" cy="190.3" r="1.9"/>
<circle cx="379" cy="192.8" r="2.2"/>
<circle cx="369.6" cy="178.2" r="1.9"/>
<circle cx="352.7" cy="214.1" r="2"/>
<circle cx="396.3" cy="193.8" r="2.1"/>
<circle cx="369.5" cy="168.4" r="2"/>
<circle cx="378" cy="193.7" r="2"/>
<circle cx="347.3" cy="186.7" r="2.5"/>
<circle cx="345.8" cy="189.1" r="2.4"/>
<circle cx="372.4" cy="185.4" r="2"/>
<circle cx="345.7" cy="177.1" r="2"/>
<circle cx="367.5" cy="195.5" r="2.4"/>
<circle cx="372.3" cy="193.5" r="2.4"/>
<circle cx="393.9" cy="191.6" r="2.2"/>
<circle cx="348.5" cy="189.1" r="2.4"/>
<circle cx="385.5" cy="202.7" r="2"/>
<circle cx="376.9" cy="186.9" r="1.9"/>
<circle cx="372.2" cy="185.3" r="1.9"/>
<circle cx="355.3" cy="168.1" r="2.3"/>
<circle cx="363.2" cy="204.2" r="2"/>
<circle cx="362.6" cy="172.1" r="2.3"/>
<circle cx="372.7" cy="203.2" r="2.3"/>
<circle cx="379.2" cy="193" r="1.9"/>
<circle cx="376.6" cy="194" r="2.2"/>
<circle cx="346.6" cy="168.7" r="2.3"/>
<circle cx="384.2" cy="204.7" r="1.9"/>
<circle cx="358" cy="166" r="2.3"/>
<circle cx="397" cy="192.2" r="2.1"/>
<circle cx="357.7" cy="165.2" r="2.2"/>
<circle cx="374" cy="206.8" r="2.2"/>
<circle cx="371" cy="203" r="2.4"/>
<circle cx="364.2" cy="170" r="2"/>
<circle cx="388.1" cy="190.4" r="2.4"/>
<circle cx="371.1" cy="197.9" r="2.2"/>
<circle cx="357.7" cy="173" r="2.5"/>
<circle cx="348.3" cy="174.2" r="2.1"/>
<circle cx="391.7" cy="192.4" r="2.3"/>
<circle cx="373.6" cy="204.5" r="2.3"/>
<circle cx="353.8" cy="180.6" r="2"/>
<circle cx="371.8" cy="206" r="1.9"/>
<circle cx="374" cy="185.9" r="2"/>
<circle cx="383" cy="205.5" r="2.5"/>
<circle cx="377.1" cy="196.3" r="2.1"/>
<circle cx="380.8" cy="198.4" r="2.4"/>
<circle cx="348.2" cy="168.3" r="2.1"/>
<circle cx="343.8" cy="162.4" r="2.3"/>
<circle cx="359.7" cy="162.7" r="2"/>
<circle cx="381.8" cy="197.7" r="2.2"/>
<circle cx="370.5" cy="201.9" r="2.3"/>
<circle cx="378.4" cy="190.7" r="2.2"/>
<circle cx="354.2" cy="178.6" r="2.2"/>
<circle cx="374.3" cy="196.5" r="2.3"/>
<circle cx="370.1" cy="178.3" r="2.3"/>
<circle cx="372.8" cy="198.8" r="2.1"/>
<circle cx="352.3" cy="194.1" r="2"/>
<circle cx="348" cy="171.6" r="2.3"/>
<circle cx="353.6" cy="215.4" r="2.1"/>
<circle cx="342.2" cy="162.7" r="2.3"/>
<circle cx="332.2" cy="166.1" r="2.2"/>
<circle cx="354.7" cy="212.2" r="2.2"/>
<circle cx="382.8" cy="199.4" r="1.9"/>
<circle cx="377.6" cy="201.8" r="2.3"/>
<circle cx="375.1" cy="207" r="2.2"/>
<circle cx="370.4" cy="170.9" r="2.2"/>
<circle cx="349.8" cy="193.8" r="2.4"/>
<circle cx="366.4" cy="191.3" r="2.1"/>
<circle cx="395.6" cy="191.7" r="2.2"/>
<circle cx="387.1" cy="202.4" r="2"/>
<circle cx="350.9" cy="193" r="2.1"/>
<circle cx="340.7" cy="161.3" r="2.1"/>
<circle cx="351.3" cy="174.4" r="2.2"/>
<circle cx="352.4" cy="201.7" r="2"/>
<circle cx="347.8" cy="201.9" r="2.1"/>
<circle cx="367.3" cy="195.7" r="2.4"/>
<circle cx="387.9" cy="188.8" r="2.2"/>
<circle cx="360.4" cy="166.6" r="2.2"/>
<circle cx="372.6" cy="178.7" r="2.2"/>
<circle cx="355.5" cy="177" r="1.9"/>
<circle cx="396.3" cy="194.4" r="2.3"/>
<circle cx="379" cy="205.7" r="2.2"/>
<circle cx="347.9" cy="195.6" r="2.2"/>
<circle cx="353.9" cy="179.9" r="2.1"/>
<circle cx="392.6" cy="189.9" r="2.1"/>
<circle cx="356.2" cy="213.8" r="2.1"/>
<circle cx="372" cy="191.3" r="2.4"/>
<circle cx="356.1" cy="175.1" r="2.1"/>
<circle cx="360.8" cy="173.8" r="2"/>
<circle cx="356.8" cy="187.9" r="2.2"/>
<circle cx="365.7" cy="205.9" r="1.9"/>
<circle cx="351.9" cy="198.6" r="2.3"/>
<circle cx="380.4" cy="198.3" r="2.2"/>
<circle cx="355.7" cy="184.5" r="2.5"/>
<circle cx="359.5" cy="173.7" r="2.3"/>
<circle cx="390.3" cy="189.4" r="2.5"/>
<circle cx="341.7" cy="164.8" r="1.9"/>
<circle cx="367.2" cy="193.6" r="2.5"/>
<circle cx="394.7" cy="192.5" r="2.4"/>
<circle cx="346.9" cy="195.2" r="2.1"/>
<circle cx="358.6" cy="166.2" r="1.9"/>
<circle cx="366" cy="195" r="2.2"/>
<circle cx="380.3" cy="203.4" r="2.4"/>
<circle cx="343.9" cy="176" r="2.1"/>
<circle cx="357.1" cy="185.8" r="2"/>
<circle cx="371.1" cy="181.1" r="2.2"/>
<circle cx="356.5" cy="181.6" r="2.3"/>
<circle cx="343.7" cy="177.1" r="2.1"/>
<circle cx="380" cy="190.4" r="2.1"/>
<circle cx="366.4" cy="206.7" r="2.2"/>
<circle cx="361.9" cy="204.9" r="2.1"/>
<circle cx="367.2" cy="200" r="2"/>
<circle cx="338.1" cy="163.4" r="2.3"/>
<circle cx="361.5" cy="208.3" r="2.1"/>
<circle cx="366.3" cy="199.1" r="2.3"/>
<circle cx="349.2" cy="168.3" r="2.2"/>
<circle cx="390.6" cy="190.7" r="1.9"/>
<circle cx="354.5" cy="220.7" r="1.9"/>
<circle cx="351.2" cy="192.3" r="2.4"/>
<circle cx="349.1" cy="202.5" r="2.1"/>
<circle cx="353.8" cy="197.5" r="2.2"/>
<circle cx="347.6" cy="175.5" r="2.1"/>
<circle cx="374.3" cy="181.2" r="2"/>
<circle cx="350.7" cy="200.6" r="2.1"/>
<circle cx="358.2" cy="221.3" r="2.3"/>
<circle cx="357.4" cy="208.9" r="2.4"/>
<circle cx="396.5" cy="196.3" r="2.5"/>
<circle cx="370.2" cy="205.7" r="2"/>
<circle cx="356.6" cy="221.5" r="2.2"/>
<circle cx="395.5" cy="194.1" r="2.3"/>
<circle cx="379.1" cy="204.4" r="2.5"/>
<circle cx="366.6" cy="188.6" r="1.9"/>
<circle cx="367.4" cy="197" r="2"/>
<circle cx="341.7" cy="161.7" r="2.1"/>
<circle cx="383.1" cy="204.6" r="2.1"/>
<circle cx="372.5" cy="207.6" r="1.9"/>
<circle cx="359" cy="164.2" r="2.2"/>
<circle cx="366.9" cy="169.7" r="2.3"/>
<circle cx="374" cy="199" r="2.3"/>
<circle cx="332.4" cy="166.2" r="2.1"/>
<circle cx="371.6" cy="206.7" r="2"/>
<circle cx="375.9" cy="186.5" r="2.1"/>
<circle cx="367.6" cy="191.2" r="1.9"/>
<circle cx="379" cy="191.7" r="2"/>
<circle cx="352.2" cy="167.8" r="1.9"/>
<circle cx="377.8" cy="190.1" r="1.9"/>
<circle cx="352.2" cy="201" r="2.1"/>
<circle cx="366.8" cy="193.7" r="2.4"/>
<circle cx="352.2" cy="175.2" r="2.1"/>
<circle cx="371.9" cy="178" r="2.2"/>
<circle cx="353.8" cy="172.9" r="2.5"/>
<circle cx="345.4" cy="168.2" r="2.1"/>
<circle cx="374.9" cy="201.4" r="2.2"/>
<circle cx="377.8" cy="187.3" r="2"/>
<circle cx="352" cy="173.1" r="2.1"/>
<circle cx="356.1" cy="211.7" r="2.4"/>
<circle cx="379.4" cy="200.8" r="2.3"/>
<circle cx="384.5" cy="204.9" r="2"/>
<circle cx="387" cy="205.7" r="2.4"/>
<circle cx="360.3" cy="162.7" r="2.4"/>
<circle cx="348.9" cy="166.2" r="2.2"/>
<circle cx="372.4" cy="207" r="2.2"/>
<circle cx="386.4" cy="205.3" r="2.3"/>
<circle cx="347.8" cy="169.2" r="1.9"/>
<circle cx="353.6" cy="173.3" r="2.2"/>
<circle cx="372.6" cy="195.7" r="2.3"/>
<circle cx="383.2" cy="204.9" r="2.1"/>
<circle cx="343.8" cy="162.6" r="1.9"/>
<circle cx="373.5" cy="183.1" r="2.2"/>
<circle cx="375.5" cy="203.3" r="2.2"/>
<circle cx="348.8" cy="188.4" r="1.9"/>
<circle cx="368.9" cy="198.8" r="2.1"/>
<circle cx="346.9" cy="168" r="2.3"/>
<circle cx="373.3" cy="186.4" r="2"/>
<circle cx="366.6" cy="196.4" r="2.5"/>
<circle cx="368" cy="197.2" r="2"/>
<circle cx="360.5" cy="165.5" r="1.9"/>
<circle cx="345.8" cy="185.4" r="2.2"/>
<circle cx="393.7" cy="190.3" r="2.2"/>
<circle cx="350.7" cy="201.7" r="2.5"/>
<circle cx="345.9" cy="186.1" r="2.3"/>
<circle cx="346.4" cy="191.7" r="2"/>
<circle cx="370.9" cy="171.2" r="2.1"/>
<circle cx="351" cy="168.3" r="2.1"/>
<circle cx="356.9" cy="173" r="2.1"/>
<circle cx="354.9" cy="183.4" r="2.4"/>
<circle cx="352.1" cy="196.3" r="2.2"/>
<circle cx="370.1" cy="194" r="2"/>
<circle cx="345.6" cy="175.2" r="2.2"/>
<circle cx="354.6" cy="211.6" r="2"/>
<circle cx="359.8" cy="205" r="2"/>
<circle cx="367.3" cy="172.4" r="2.1"/>
<circle cx="392.7" cy="189.5" r="1.9"/>
<circle cx="394.2" cy="196" r="2.3"/>
<circle cx="369.5" cy="170.2" r="2"/>
<circle cx="365.4" cy="205" r="2.2"/>
<circle cx="380.3" cy="197.8" r="2"/>
<circle cx="373.1" cy="178.6" r="2.2"/>
<circle cx="380.8" cy="202.4" r="2.3"/>
<circle cx="367.1" cy="191.7" r="2.2"/>
<circle cx="366.1" cy="171.5" r="2.2"/>
<circle cx="346.7" cy="184.6" r="2.2"/>
<circle cx="358.5" cy="165.7" r="2.3"/>
<circle cx="370.8" cy="188.7" r="2.1"/>
<circle cx="371" cy="182.6" r="2.5"/>
<circle cx="374.5" cy="195" r="1.9"/>
<circle cx="357.6" cy="207.1" r="2.2"/>
<circle cx="359.3" cy="172.1" r="2.1"/>
<circle cx="366.4" cy="172.5" r="2.3"/>
<circle cx="356.9" cy="217.6" r="2.4"/>
<circle cx="349" cy="196.5" r="2.5"/>
<circle cx="360.2" cy="166.4" r="2.2"/>
<circle cx="352.6" cy="175.3" r="2.1"/>
<circle cx="351.4" cy="176" r="2.1"/>
<circle cx="370.9" cy="193.5" r="2.3"/>
<circle cx="366.6" cy="200.8" r="2.1"/>
<circle cx="386.6" cy="203.2" r="2.1"/>
<circle cx="396.8" cy="197.5" r="2.4"/>
<circle cx="352.9" cy="216.3" r="2.2"/>
<circle cx="345.2" cy="177" r="2"/>
<circle cx="365.8" cy="195.7" r="2.3"/>
<circle cx="356.8" cy="222.2" r="2.3"/>
<circle cx="351.5" cy="191.7" r="2"/>
<circle cx="388.8" cy="187.7" r="1.9"/>
<circle cx="354.3" cy="216.4" r="2.2"/>
<circle cx="365.8" cy="193.9" r="2"/>
<circle cx="375" cy="187.1" r="2"/>
<circle cx="374.4" cy="182.4" r="2"/>
<circle cx="365.6" cy="208.3" r="2.1"/>
<circle cx="388.1" cy="189.6" r="2.2"/>
<circle cx="355.1" cy="184.9" r="2.5"/>
<circle cx="361.7" cy="206.8" r="1.9"/>
<circle cx="393.8" cy="190.5" r="2.3"/>
<circle cx="350" cy="191.1" r="2.2"/>
<circle cx="376.1" cy="192.2" r="1.9"/>
<circle cx="376.6" cy="194.6" r="2.4"/>
<circle cx="398.1" cy="193.1" r="2.3"/>
<circle cx="374.7" cy="190.3" r="2.3"/>
<circle cx="386.7" cy="203.8" r="2.2"/>
<circle cx="370" cy="191.8" r="2.5"/>
<circle cx="391.9" cy="190.5" r="2"/>
<circle cx="371.4" cy="171" r="2.4"/>
<circle cx="372.7" cy="185.8" r="2.2"/>
<circle cx="356.1" cy="212" r="2.4"/>
<circle cx="352.9" cy="213.1" r="2.3"/>
<circle cx="366" cy="191.1" r="2.5"/>
<circle cx="339.5" cy="162.2" r="2.3"/>
<circle cx="370.1" cy="192.3" r="2"/>
<circle cx="372.3" cy="178.6" r="1.9"/>
<circle cx="377.6" cy="186.5" r="2"/>
<circle cx="384.2" cy="207.4" r="2.1"/>
<circle cx="355" cy="177.2" r="2"/>
<circle cx="347" cy="175.4" r="2.4"/>
<circle cx="355.2" cy="189.2" r="2"/>
<circle cx="371.2" cy="193.9" r="2.4"/>
<circle cx="369.5" cy="200.8" r="2.1"/>
<circle cx="384.6" cy="203.2" r="2.4"/>
<circle cx="344.2" cy="162.8" r="2"/>
<circle cx="353.3" cy="215.4" r="2.4"/>
<circle cx="334.3" cy="164.9" r="2"/>
<circle cx="352.2" cy="176" r="2.4"/>
<circle cx="349" cy="197.2" r="2.2"/>
<circle cx="333.1" cy="168.3" r="2.2"/>
<circle cx="353.1" cy="212.5" r="1.9"/>
<circle cx="370.9" cy="197.7" r="2"/>
<circle cx="363.4" cy="209.2" r="2.1"/>
<circle cx="347.1" cy="186.6" r="1.9"/>
<circle cx="355.7" cy="164.9" r="2.4"/>
<circle cx="358.9" cy="171.9" r="1.9"/>
<circle cx="349.3" cy="193.1" r="2.3"/>
<circle cx="360.7" cy="164.2" r="1.9"/>
<circle cx="345.4" cy="167.2" r="2.1"/>
<circle cx="373.2" cy="201.6" r="2.1"/>
<circle cx="360.1" cy="162.4" r="2.1"/>
<circle cx="373.5" cy="178.1" r="1.9"/>
<circle cx="342.8" cy="161.8" r="2.3"/>
</g>
<polyline fill="none" stroke="#5048c8" stroke-opacity="0.8" stroke-width="0.95" stroke-linejoin="round" points="345.2,153.8 345.6,153.7 346.2,153.8 346.7,153.2 347.7,153.2 348.2,153.4 349.3,153.3 350,153.2 350.5,153.2 351.1,153.2 352,153.2 352.5,153.3 353.2,153.1 353.7,153.3 354.6,153.5 354.8,153.4 355.6,154.1 355.6,154.6 356.1,154.7 356,155.7 356.5,156.4 356.4,156.7 356.7,157.7 356.6,158.3 356.6,159.1 356.9,159.5 356.7,160.6 356.5,160.7 356.2,161.8 356,162.1 355.1,163 354.5,163.5 354.4,164 354.1,164.3 354.4,164.3 355.1,164.1 356,164.1 357,164.4 357.6,164.2 358,164.1"/>
<polyline fill="none" stroke="#5048c8" stroke-opacity="0.8" stroke-width="0.95" stroke-linejoin="round" points="356.4,186.1 356.9,186.3 357.3,186.1 357.6,185.4 358.2,185.2 359.1,184.9 359.3,184.6 360.3,184.3 360.5,183.8 361.5,183.3 361.5,182.7 362.4,182.3 362.7,182.2 363,181.7 363.5,181.3 364.4,180.8 364.6,180.2 365.2,180.2 365.7,179.9 366,179.4 366.6,178.8 367.4,178.9 367.8,178.4 368.7,177.9 369.1,177.7 370.1,177.5 370.5,177.4 370.9,177.2 371.9,177.2 372.1,176.9 372.5,176.8"/>
<polyline fill="none" stroke="#5048c8" stroke-opacity="0.8" stroke-width="0.95" stroke-linejoin="round" points="391.8,205.5 392,205.6 392.3,206 392.8,206.7 393.2,207 393.8,207.5 394.1,208.1 394.8,208.8 395,209.1 395.7,209.4 396.3,210.2 397.1,210.7 397.2,210.6 397.8,211.6 397.7,211.7 397.9,212.1 397.3,212.8 396.7,213.5 396.4,214 395.8,214.5 395.4,214.8 394.9,215.2 394,215 393.8,214.2 393.3,213.6 392.8,213 392.3,212.1 392.4,211.7"/>
<polyline fill="none" stroke="#5048c8" stroke-opacity="0.8" stroke-width="0.95" stroke-linejoin="round" points="356.7,172.1 357.1,172.1 357.1,172.8 357.7,172.9 358.6,173.4 358.9,174 359.7,174.2 360.5,174.6 360.6,175.1 361.1,175.2 362,175.2 362.7,174.7 363.7,174.5 364.1,174 364.3,173.6"/>
</g>
<text x="319.9" y="241.4" font-size="15.6" font-weight="bold" fill="#000">315 ns</text>
<rect x="441.5" y="132.5" width="117" height="117" fill="#fff" stroke="#8ea09d" stroke-width="1.3"/>
<clipPath id="cp4"><rect x="442.2" y="133.2" width="115.6" height="115.6"/></clipPath>
<g clip-path="url(#cp4)">
<polyline fill="none" stroke="#5048c8" stroke-opacity="0.8" stroke-width="0.95" stroke-linejoin="round" points="457.8,164.2 457.9,163.5 457.3,163.2 456.5,162.7 456.2,162.2 455.7,161.5 455.6,161.1 455.6,160.3 456.5,159.8 457.3,159.2 458,159.6 458.3,159.6 458.9,160.1 459.6,160.7 460.1,161 460.6,161.5 460.8,162.4 461.1,163 461.4,163.7 461.3,163.9 461,164.7 460.5,165.1 460.1,165.8 460.2,166.1 459.5,166.7 459.5,167.7 459,168.4 459.3,169 458.8,169.2 459.2,169.9 459.1,170.6 459.5,171.1 459.8,171.9 459.8,172.1 460.5,172.8 460.8,173.5 461.1,173.8 461.2,174.4 461.6,175 462.2,175.4 462.2,176 462.6,176.5 463.2,177.1 463.5,177.8 463.8,177.9 464.2,178.7 464.6,179.2 465,179.5 464.9,180.1 465,180.6 464.8,181.1 464.8,181.9 464.7,182.6 464.1,183 464.2,183.9 464.2,184.5 464.2,184.8 464.5,185.6 464.8,186.5 465.3,187.1 465.7,187.7 466.1,187.9 466,188.4 466.2,189"/>
<polyline fill="none" stroke="#5048c8" stroke-opacity="0.8" stroke-width="0.95" stroke-linejoin="round" points="468,161.2 468.5,160.8 468.7,160.8 469.6,160.2 470.1,160.1 470.7,159.4 471.4,159.2 471.8,158.9 472.7,158.2 473.2,158.1 473.5,157.5 474.1,157.7"/>
<polyline fill="none" stroke="#5048c8" stroke-opacity="0.8" stroke-width="0.95" stroke-linejoin="round" points="499.4,165.2 499.4,164.7 500,164.9 500.3,164.5 501,164.4 502.3,164.2 502.5,164.3 503.4,164.1 503.7,163.7 504.4,163.8 505.3,163.8 505.8,163.4 506.8,163.1 507.4,163 508.1,162.9 509.1,162.8 509.7,162.6 510.2,162.9 511,162.7 511.7,162.5 512.2,162.4 512.6,162.4 512.9,162.9 513.3,163.2 513.3,163.6 512.9,164 512.7,164.9 512.5,165.4 511.7,166.3 511.6,166.8 511.3,167.3 511.1,168 511.5,168.8 511.9,169 512.5,169.7 513.1,170.3 513.5,170.5 514.1,170.8 514.6,170.9 515.4,171.1 516,171.5 516.9,171.7 517.3,171.8 518.2,171.9 518.7,171.9 519.5,172.1 520,172 520.4,172.5 520.7,173.1 521.4,173.9 521.6,174.1 521.3,175.1 521.8,175.3"/>
<polyline fill="none" stroke="#5048c8" stroke-opacity="0.8" stroke-width="0.95" stroke-linejoin="round" points="503,174.9 503.6,175.1 503.9,174.8 504.9,175.4 505.5,175.3 505.9,175.5 506.6,175.1 506.9,174.9 507.3,174.3 508.5,173.9 508.8,174.1 509.3,174.2 510.1,174.2 510.8,174.4 511.9,174.5 512.2,174.6 512.8,174.7"/>
<polyline fill="none" stroke="#5048c8" stroke-opacity="0.8" stroke-width="0.95" stroke-linejoin="round" points="494.8,183.2 494.9,183.2 495.5,183.8 496,183.8 496.2,184.5 497,184.9 497.3,185.1 498,185.6 498.6,186.1 499,186.5 499.5,186.8 500.3,187.5 500.8,187.5 501.1,187.3 502.1,187.6 502.7,187.5 503.1,187.3 504.1,186.9 504.6,186.7 505.4,186.6 505.9,186.6 506.4,186.3 507.2,186.2 507.9,186.1 508.5,185.7 509.2,185.8 509.9,186.2 510.4,186.3 511.1,186.6 511.7,186.7 512.4,186.9 512.8,187 513.5,187.3 513.9,187.1 514.3,187.5"/>
<polyline fill="none" stroke="#5048c8" stroke-opacity="0.8" stroke-width="0.95" stroke-linejoin="round" points="485.9,195 486.1,194.9 486.7,195.5 487.3,195.9 488.1,196.1 488.8,196.8 489.3,197 489.6,197.8 490,198.5 490.1,198.8 490.2,199.5 490.7,200.3 490.8,201.3 490.3,201.5 490.6,202.3 490.1,202.8 489.5,203.3 489.1,203.8 488.7,204.3 488.3,204.9 487.5,205 487.6,205.2"/>
<polyline fill="none" stroke="#5048c8" stroke-opacity="0.8" stroke-width="0.95" stroke-linejoin="round" points="496.5,215.9 496.5,216.2 496.7,216.8 496.5,217.7 496.7,218.7 497.1,219.4 497.4,219.9 497.7,220.2 498.4,220.3 498.9,220.5 499.5,220.4 500.3,219.8 500.7,219.7 501.6,219.1 502.4,218.6 503,218.5 503.4,218.2 503.7,217.8 504,217.1 504.7,216.6 505.1,216 505.5,215.4 506.1,215.1 506.3,214.7 506.7,214.2 507.7,213.7 508,213.6 509.1,213.3 509.4,213 509.7,213"/>
<polyline fill="none" stroke="#5048c8" stroke-opacity="0.8" stroke-width="0.95" stroke-linejoin="round" points="520.2,220.4 520.5,220.3 521.1,220.6 521.7,220.7 522,220.9 522.9,220.7 523.7,220.8 524.4,221.3 525,221.2 525.8,221.6 526.3,221.8 526.8,222 527.1,222.1 527.7,222.2 528.3,222.6 529,222.8 529.7,223.2 530.2,223.5 530.6,223.9 531.3,224.3 531.7,224.3 532.3,224.7 532.9,224.9 533.4,225.8 534.1,226.3 534.6,226.4 534.7,226.9 534.9,227.4 535.3,227.9 535.1,228.3 534.1,228.5 533.6,228.7 532.8,229.1"/>
<polyline fill="none" stroke="#5048c8" stroke-opacity="0.8" stroke-width="0.95" stroke-linejoin="round" points="512.9,173.8 513.3,174.3 513.7,174.7 514.2,175.5 514.8,176 515.2,176.3 515.3,177.4 515.8,177.7 515.8,178.5 515.7,179 515.5,179.3 514.9,179.7 514.5,180.6 513.8,180.9 513.2,181.6 512.4,181.8 512,182.1 511.8,182.5 511.3,183.1"/>
<polyline fill="none" stroke="#5048c8" stroke-opacity="0.8" stroke-width="0.95" stroke-linejoin="round" points="511.3,209.7 511.2,210.3 511.8,210.3 512,211.1 512.2,211.7 512.5,212.5 512.7,213.1 513.3,213.6 513.3,214.4 513.7,214.8 513.8,215.5 514.3,215.6 514.7,216.4 515.4,216.8 515.6,217.6 516.3,218 516.9,218.4 516.8,218.8 517.5,218.9"/>
<g fill="url(#gr)">
<circle cx="505.4" cy="205.3" r="2.5"/>
<circle cx="477.5" cy="193.5" r="2.5"/>
<circle cx="485.8" cy="199.1" r="2.3"/>
<circle cx="491.5" cy="173.2" r="2"/>
<circle cx="484" cy="206.9" r="2"/>
<circle cx="492.5" cy="182.3" r="2.5"/>
<circle cx="521" cy="213.2" r="2.5"/>
<circle cx="482.6" cy="194.7" r="2.2"/>
<circle cx="503.1" cy="212.8" r="2.3"/>
<circle cx="515.1" cy="185.1" r="2.2"/>
<circle cx="529.9" cy="178.1" r="2.1"/>
<circle cx="519.9" cy="211.8" r="2.4"/>
<circle cx="503.4" cy="195.9" r="2.1"/>
<circle cx="499" cy="175.5" r="2.1"/>
<circle cx="487.9" cy="181.7" r="2.5"/>
<circle cx="513.2" cy="217.6" r="2.3"/>
<circle cx="480.9" cy="204.2" r="2.3"/>
<circle cx="478" cy="187.7" r="2.5"/>
<circle cx="514.4" cy="201.2" r="2"/>
<circle cx="482.1" cy="177.1" r="2.5"/>
<circle cx="526.6" cy="179.5" r="2.3"/>
<circle cx="505" cy="196.5" r="2.2"/>
<circle cx="492.4" cy="200.4" r="2.3"/>
<circle cx="501.2" cy="211.8" r="2.2"/>
<circle cx="491.4" cy="200.8" r="2"/>
<circle cx="499.6" cy="211.4" r="2"/>
<circle cx="478.4" cy="193.1" r="2.3"/>
<circle cx="503.8" cy="203.4" r="2"/>
<circle cx="493.3" cy="181.5" r="2.5"/>
<circle cx="517" cy="187.7" r="2.1"/>
<circle cx="484.8" cy="207.9" r="2.3"/>
<circle cx="516.7" cy="178.4" r="2.1"/>
<circle cx="521.3" cy="198.2" r="2.5"/>
<circle cx="471" cy="180.7" r="2"/>
<circle cx="491" cy="171" r="2"/>
<circle cx="487.2" cy="189.5" r="2.2"/>
<circle cx="520.8" cy="191.8" r="1.9"/>
<circle cx="486" cy="178.5" r="2.4"/>
<circle cx="519.1" cy="192.6" r="2.2"/>
<circle cx="491.9" cy="191.1" r="2.1"/>
<circle cx="519.6" cy="199.2" r="1.9"/>
<circle cx="519.7" cy="191.1" r="2.2"/>
<circle cx="472.3" cy="171.5" r="2.1"/>
<circle cx="520.3" cy="203.8" r="2.4"/>
<circle cx="515.2" cy="223.9" r="2.4"/>
<circle cx="522.6" cy="203.8" r="2"/>
<circle cx="519.6" cy="180" r="2.2"/>
<circle cx="487.4" cy="195" r="1.9"/>
<circle cx="477.8" cy="199.1" r="2.1"/>
<circle cx="470.2" cy="183.5" r="2.1"/>
<circle cx="493.6" cy="180.8" r="2.2"/>
<circle cx="513.9" cy="219.7" r="2.4"/>
<circle cx="516.3" cy="209" r="2"/>
<circle cx="493.7" cy="187.5" r="2.1"/>
<circle cx="491.3" cy="187" r="2.3"/>
<circle cx="514.7" cy="202.5" r="2"/>
<circle cx="484.3" cy="186.3" r="2"/>
<circle cx="504.5" cy="199.1" r="2.4"/>
<circle cx="522.4" cy="207.2" r="2.3"/>
<circle cx="471.4" cy="185.5" r="2"/>
<circle cx="512.1" cy="223.9" r="2.3"/>
<circle cx="494.6" cy="190.4" r="2.2"/>
<circle cx="520.1" cy="193.6" r="2.3"/>
<circle cx="515.9" cy="193.6" r="2.3"/>
<circle cx="530.9" cy="178.5" r="2.1"/>
<circle cx="507.6" cy="204.7" r="2.5"/>
<circle cx="482" cy="208" r="2.5"/>
<circle cx="502.6" cy="199.3" r="2.4"/>
<circle cx="490" cy="189.7" r="2.4"/>
<circle cx="518.6" cy="202.6" r="2"/>
<circle cx="492.3" cy="173.5" r="2"/>
<circle cx="488" cy="208.6" r="2.5"/>
<circle cx="503" cy="197.3" r="2.3"/>
<circle cx="521.8" cy="211.5" r="2.4"/>
<circle cx="481" cy="193.1" r="2.1"/>
<circle cx="509.9" cy="205.2" r="2.5"/>
<circle cx="504.6" cy="205.3" r="2.4"/>
<circle cx="523.7" cy="203.5" r="2.4"/>
<circle cx="490.2" cy="180.3" r="2.1"/>
<circle cx="523.5" cy="205.3" r="2.1"/>
<circle cx="494.5" cy="172.7" r="2.3"/>
<circle cx="512.5" cy="214.4" r="2"/>
<circle cx="505.3" cy="196.2" r="2.1"/>
<circle cx="478.5" cy="204.2" r="2.1"/>
<circle cx="490.4" cy="182.7" r="1.9"/>
<circle cx="509.9" cy="203.1" r="2"/>
<circle cx="487.5" cy="170.5" r="2.5"/>
<circle cx="492.9" cy="189" r="2.4"/>
<circle cx="485.1" cy="190.3" r="2.2"/>
<circle cx="517.4" cy="201.5" r="2.1"/>
<circle cx="474.5" cy="204.9" r="2.2"/>
<circle cx="484.2" cy="177" r="2.1"/>
<circle cx="479.1" cy="189" r="2.1"/>
<circle cx="522.4" cy="199.9" r="2.4"/>
<circle cx="517" cy="192" r="2.3"/>
<circle cx="484.8" cy="187.2" r="2.3"/>
<circle cx="507.9" cy="204" r="2.2"/>
<circle cx="523" cy="203.8" r="2.2"/>
<circle cx="498.6" cy="205.9" r="1.9"/>
<circle cx="478.7" cy="194.5" r="1.9"/>
<circle cx="512.5" cy="204.6" r="2.2"/>
<circle cx="470.4" cy="168.5" r="1.9"/>
<circle cx="517.5" cy="209.8" r="2.3"/>
<circle cx="519.8" cy="205.2" r="2.3"/>
<circle cx="515.5" cy="184.6" r="2.4"/>
<circle cx="498" cy="200.9" r="1.9"/>
<circle cx="521.8" cy="213.5" r="2.2"/>
<circle cx="497.2" cy="200.2" r="2.4"/>
<circle cx="479.5" cy="184.9" r="2.3"/>
<circle cx="492.3" cy="200.4" r="2"/>
<circle cx="488.2" cy="180.5" r="2.4"/>
<circle cx="479.9" cy="186.2" r="2.3"/>
<circle cx="476.1" cy="195.3" r="1.9"/>
<circle cx="513.5" cy="186.2" r="1.9"/>
<circle cx="522.1" cy="213.8" r="2.2"/>
<circle cx="518.3" cy="187.8" r="2.1"/>
<circle cx="513.4" cy="216.2" r="2"/>
<circle cx="518" cy="209" r="2.3"/>
<circle cx="481.4" cy="205.7" r="2.1"/>
<circle cx="485.3" cy="188.9" r="2"/>
<circle cx="513.6" cy="224.4" r="2.1"/>
<circle cx="483.7" cy="177.9" r="2"/>
<circle cx="480.6" cy="193.8" r="2.2"/>
<circle cx="516.7" cy="210.7" r="2.3"/>
<circle cx="516" cy="189.6" r="2"/>
<circle cx="481.2" cy="199" r="2.2"/>
<circle cx="517.5" cy="190.4" r="2.1"/>
<circle cx="516" cy="193.1" r="2.1"/>
<circle cx="469.4" cy="184.8" r="1.9"/>
<circle cx="471.3" cy="171.7" r="2"/>
<circle cx="485.7" cy="194.8" r="2.3"/>
<circle cx="475.4" cy="204" r="2.3"/>
<circle cx="487.2" cy="167.8" r="2.3"/>
<circle cx="476.8" cy="202.5" r="2"/>
<circle cx="506.1" cy="203.6" r="2.2"/>
<circle cx="498" cy="204.1" r="2.5"/>
<circle cx="502.8" cy="211.3" r="1.9"/>
<circle cx="488.7" cy="187.6" r="2.4"/>
<circle cx="482.4" cy="185.5" r="2.1"/>
<circle cx="519.8" cy="179.8" r="2"/>
<circle cx="481.9" cy="193.5" r="2.1"/>
<circle cx="490.4" cy="198.9" r="2.5"/>
<circle cx="481.5" cy="206.7" r="2.1"/>
<circle cx="478" cy="205.9" r="2.3"/>
<circle cx="521.3" cy="189.8" r="1.9"/>
<circle cx="503.1" cy="197.2" r="2.5"/>
<circle cx="493.6" cy="182.3" r="2.4"/>
<circle cx="518.2" cy="212.7" r="2.1"/>
<circle cx="498.2" cy="176.1" r="2.5"/>
<circle cx="485.3" cy="206.2" r="2.4"/>
<circle cx="486.7" cy="180.8" r="2.4"/>
<circle cx="494.2" cy="210.4" r="2.2"/>
<circle cx="488.1" cy="207.7" r="2.3"/>
<circle cx="488.1" cy="206.3" r="2.4"/>
<circle cx="513.3" cy="202.6" r="2.2"/>
<circle cx="484.6" cy="188.2" r="2.5"/>
<circle cx="516.8" cy="190.1" r="2.2"/>
<circle cx="517.9" cy="180.9" r="2.4"/>
<circle cx="485.7" cy="206.4" r="2.3"/>
<circle cx="483" cy="197.3" r="2"/>
<circle cx="469.8" cy="183.9" r="2"/>
<circle cx="521.3" cy="179.9" r="2.4"/>
<circle cx="516.4" cy="186.5" r="2"/>
<circle cx="497.4" cy="199.9" r="2.3"/>
<circle cx="483.3" cy="175.9" r="2"/>
<circle cx="492.8" cy="180" r="2.3"/>
<circle cx="507.8" cy="204.2" r="2.1"/>
<circle cx="484.1" cy="195.7" r="2.1"/>
<circle cx="496.2" cy="208.6" r="2.2"/>
<circle cx="487.7" cy="168.8" r="2.2"/>
<circle cx="523.1" cy="206.6" r="2.3"/>
<circle cx="513" cy="221" r="1.9"/>
<circle cx="482.3" cy="203.2" r="2.1"/>
<circle cx="485.8" cy="199.3" r="2.1"/>
<circle cx="513.2" cy="204" r="2"/>
<circle cx="495.4" cy="173.8" r="2.4"/>
<circle cx="505.9" cy="205.6" r="2"/>
<circle cx="503.4" cy="207.2" r="2.1"/>
<circle cx="531.3" cy="177.5" r="2"/>
<circle cx="482.2" cy="206.7" r="2.3"/>
<circle cx="514.3" cy="186.7" r="2.2"/>
<circle cx="520.3" cy="195.1" r="2"/>
<circle cx="490.5" cy="182.2" r="1.9"/>
<circle cx="503.3" cy="203.1" r="2.3"/>
<circle cx="478.8" cy="204.3" r="2.3"/>
<circle cx="515.8" cy="185.5" r="2"/>
<circle cx="484.9" cy="198.2" r="1.9"/>
<circle cx="504.6" cy="208.3" r="2.1"/>
<circle cx="476.6" cy="202.2" r="2.1"/>
<circle cx="506.2" cy="198.7" r="2.3"/>
<circle cx="523" cy="204.3" r="2"/>
<circle cx="491.2" cy="200" r="2.4"/>
<circle cx="513.9" cy="202.6" r="2.3"/>
<circle cx="468.9" cy="175.1" r="2"/>
<circle cx="513.1" cy="221" r="2.1"/>
<circle cx="512.7" cy="222.6" r="2.1"/>
<circle cx="524.8" cy="203.7" r="2.5"/>
<circle cx="515.9" cy="205" r="2"/>
<circle cx="480.7" cy="189.1" r="2.2"/>
<circle cx="496.5" cy="206.6" r="2.3"/>
<circle cx="487.2" cy="198" r="2.3"/>
<circle cx="507.4" cy="203.6" r="2.5"/>
<circle cx="515.6" cy="201" r="2.1"/>
<circle cx="468.7" cy="178.5" r="2.4"/>
<circle cx="490.2" cy="200.6" r="2.2"/>
<circle cx="498.4" cy="206.1" r="1.9"/>
<circle cx="470.7" cy="184.5" r="2"/>
<circle cx="491.2" cy="197" r="2.4"/>
<circle cx="484.4" cy="206.3" r="2.2"/>
<circle cx="498.2" cy="173.3" r="2.1"/>
<circle cx="514.1" cy="203.5" r="2.1"/>
<circle cx="471.6" cy="176.7" r="2.2"/>
<circle cx="507" cy="195.9" r="2.2"/>
<circle cx="486.3" cy="207.3" r="2.5"/>
<circle cx="499.1" cy="173.7" r="2.5"/>
<circle cx="482.3" cy="194.8" r="2.4"/>
<circle cx="489.2" cy="187" r="2.1"/>
<circle cx="517.1" cy="180.4" r="1.9"/>
<circle cx="469.4" cy="175.9" r="2.4"/>
<circle cx="489.7" cy="178.4" r="2.5"/>
<circle cx="480.4" cy="187.6" r="2.2"/>
<circle cx="478.5" cy="188.3" r="2"/>
<circle cx="493.3" cy="187.3" r="1.9"/>
<circle cx="482.7" cy="178" r="2"/>
<circle cx="515.6" cy="179.2" r="2.3"/>
<circle cx="481.5" cy="187.9" r="2"/>
<circle cx="524.1" cy="178.4" r="2.2"/>
<circle cx="491.6" cy="201.5" r="2"/>
<circle cx="520.6" cy="200.1" r="2.3"/>
<circle cx="485.1" cy="170.8" r="2.2"/>
<circle cx="514.5" cy="186.6" r="2.2"/>
<circle cx="495" cy="187.5" r="2.2"/>
<circle cx="529.6" cy="179.4" r="2.3"/>
<circle cx="523.4" cy="198.8" r="2.3"/>
<circle cx="501.3" cy="196.7" r="2"/>
<circle cx="476.9" cy="194.9" r="2"/>
<circle cx="517" cy="205.2" r="2.1"/>
<circle cx="485.7" cy="208.5" r="2.3"/>
<circle cx="483.1" cy="197" r="2.4"/>
<circle cx="485.8" cy="189.4" r="2.5"/>
<circle cx="481.2" cy="195" r="2"/>
<circle cx="471.9" cy="176.8" r="1.9"/>
<circle cx="523" cy="178.4" r="2.1"/>
<circle cx="512.9" cy="224.1" r="2.4"/>
<circle cx="512.1" cy="215.3" r="2.2"/>
<circle cx="513.9" cy="188.4" r="2"/>
<circle cx="489.3" cy="197.5" r="1.9"/>
<circle cx="509.4" cy="206" r="2.1"/>
<circle cx="488" cy="190.5" r="2.4"/>
<circle cx="520.9" cy="196.1" r="2.2"/>
<circle cx="498" cy="208.4" r="2"/>
<circle cx="515.6" cy="203.9" r="2.2"/>
<circle cx="491.6" cy="188.8" r="2.1"/>
<circle cx="471" cy="179.9" r="2.2"/>
<circle cx="516.7" cy="202.5" r="2.1"/>
<circle cx="480.4" cy="203.5" r="2.2"/>
<circle cx="514" cy="218.1" r="2.1"/>
<circle cx="510.5" cy="214.9" r="2"/>
<circle cx="483.4" cy="193.3" r="2"/>
<circle cx="520.5" cy="212.9" r="2.3"/>
<circle cx="509.4" cy="207.5" r="2.1"/>
<circle cx="517.3" cy="189.2" r="2.2"/>
<circle cx="486.4" cy="178.8" r="2.1"/>
<circle cx="496.9" cy="208" r="2.2"/>
<circle cx="476.9" cy="205.9" r="2.4"/>
<circle cx="489.6" cy="198.3" r="2.4"/>
<circle cx="493.9" cy="188.5" r="2.4"/>
<circle cx="490.1" cy="186.1" r="2.2"/>
<circle cx="525.6" cy="180.6" r="2.3"/>
<circle cx="507.9" cy="199.2" r="2.1"/>
<circle cx="517.6" cy="201.7" r="2.1"/>
<circle cx="512.9" cy="223.7" r="2.4"/>
<circle cx="521.1" cy="204.9" r="2.2"/>
<circle cx="491.6" cy="183.1" r="2.3"/>
<circle cx="489.2" cy="201.8" r="2.4"/>
<circle cx="487.2" cy="188.9" r="2.3"/>
<circle cx="494.2" cy="181.4" r="2.4"/>
<circle cx="477.6" cy="205.5" r="2.5"/>
<circle cx="516.3" cy="194" r="2.4"/>
<circle cx="482.3" cy="176.3" r="2.1"/>
<circle cx="488.7" cy="179.9" r="2"/>
<circle cx="494.7" cy="171.4" r="2"/>
<circle cx="470.2" cy="181.5" r="2.3"/>
<circle cx="497.2" cy="211.2" r="2.3"/>
<circle cx="497.5" cy="174.2" r="2.5"/>
<circle cx="468.9" cy="168" r="2.2"/>
<circle cx="468.5" cy="180.2" r="2.2"/>
<circle cx="468.9" cy="172.9" r="1.9"/>
<circle cx="515.9" cy="194.2" r="2.4"/>
<circle cx="516.4" cy="201" r="2.4"/>
<circle cx="495.6" cy="206" r="2.2"/>
<circle cx="495.8" cy="174.6" r="2.5"/>
<circle cx="482" cy="189.1" r="2.1"/>
<circle cx="506.4" cy="196.2" r="2.2"/>
<circle cx="486.7" cy="201.3" r="1.9"/>
<circle cx="487" cy="170.2" r="1.9"/>
<circle cx="513" cy="200.8" r="2.1"/>
<circle cx="490.6" cy="197.6" r="2.4"/>
<circle cx="519.1" cy="181.1" r="2.1"/>
<circle cx="488.9" cy="202.3" r="2.3"/>
<circle cx="518.8" cy="180.6" r="2.3"/>
<circle cx="475.3" cy="197.7" r="2"/>
<circle cx="501.3" cy="208.1" r="1.9"/>
<circle cx="504.6" cy="196.1" r="2.4"/>
<circle cx="518.1" cy="186.5" r="2"/>
<circle cx="495.7" cy="174.5" r="2.3"/>
<circle cx="489.8" cy="195.9" r="2.3"/>
<circle cx="492.5" cy="197.4" r="2.2"/>
<circle cx="519.8" cy="199.8" r="2"/>
<circle cx="512.8" cy="202.4" r="2.4"/>
<circle cx="495.4" cy="187.6" r="2"/>
<circle cx="470.9" cy="183.6" r="2.3"/>
<circle cx="487.4" cy="180.1" r="2"/>
<circle cx="524.3" cy="179.5" r="2.2"/>
<circle cx="492" cy="179.5" r="2"/>
<circle cx="503.3" cy="206.1" r="2.3"/>
<circle cx="510.5" cy="207.6" r="2.1"/>
<circle cx="518.4" cy="190" r="2.4"/>
<circle cx="525.5" cy="178.8" r="2.2"/>
<circle cx="497.9" cy="173.3" r="2.5"/>
<circle cx="481.7" cy="194.4" r="2"/>
<circle cx="491.3" cy="172.5" r="2"/>
<circle cx="520.1" cy="192.1" r="2"/>
<circle cx="468.9" cy="176.7" r="2.1"/>
<circle cx="496.6" cy="208" r="2.5"/>
<circle cx="485.9" cy="169.1" r="2.3"/>
<circle cx="482.6" cy="175.4" r="2"/>
<circle cx="530.3" cy="179.1" r="2.1"/>
<circle cx="520.5" cy="200.8" r="2.4"/>
<circle cx="521.1" cy="206" r="2.2"/>
<circle cx="470" cy="182.5" r="2"/>
<circle cx="495.6" cy="205.9" r="2.4"/>
<circle cx="470.2" cy="169.4" r="2.1"/>
<circle cx="486.2" cy="197" r="2.4"/>
<circle cx="517.3" cy="190.7" r="2"/>
<circle cx="498" cy="207.7" r="1.9"/>
<circle cx="501.9" cy="212.1" r="2.3"/>
<circle cx="517.6" cy="210.9" r="2.4"/>
<circle cx="512.8" cy="200.5" r="2.1"/>
<circle cx="488.7" cy="169.2" r="2.3"/>
<circle cx="500.5" cy="204.9" r="2"/>
<circle cx="470.1" cy="185.7" r="2.2"/>
<circle cx="501.7" cy="200.3" r="2.1"/>
<circle cx="511.3" cy="203.8" r="2.3"/>
<circle cx="489.8" cy="202.2" r="2.2"/>
<circle cx="471.2" cy="168.9" r="2.3"/>
<circle cx="493.6" cy="192.2" r="2.5"/>
<circle cx="512.6" cy="199.9" r="1.9"/>
<circle cx="529.6" cy="180.3" r="2.2"/>
<circle cx="514.1" cy="223.4" r="2"/>
<circle cx="469.8" cy="167.8" r="2.2"/>
<circle cx="514.9" cy="201.1" r="1.9"/>
<circle cx="498.4" cy="211.9" r="2.3"/>
<circle cx="497.1" cy="201.4" r="2"/>
<circle cx="513.7" cy="215.4" r="2.1"/>
<circle cx="469.1" cy="182.2" r="2.4"/>
<circle cx="487.7" cy="180.1" r="2.5"/>
<circle cx="490.4" cy="180.6" r="2.2"/>
<circle cx="487.2" cy="207.5" r="1.9"/>
<circle cx="498" cy="200.7" r="2.5"/>
<circle cx="479.5" cy="195" r="2.5"/>
<circle cx="515.6" cy="210.1" r="2"/>
<circle cx="498.5" cy="198.5" r="2.5"/>
<circle cx="486.5" cy="170.2" r="2"/>
<circle cx="523.1" cy="198.9" r="2.4"/>
<circle cx="499.2" cy="199.7" r="2.3"/>
<circle cx="520.4" cy="204.2" r="2"/>
<circle cx="492.4" cy="182.7" r="2.2"/>
<circle cx="508" cy="204.5" r="2.2"/>
<circle cx="529.8" cy="178.5" r="2.3"/>
<circle cx="509.7" cy="206.5" r="2.1"/>
<circle cx="517.6" cy="188.5" r="2.2"/>
<circle cx="514.2" cy="222.3" r="2.5"/>
<circle cx="486.4" cy="207.9" r="2.3"/>
<circle cx="484.1" cy="207.1" r="2"/>
<circle cx="527.9" cy="179.1" r="2.2"/>
<circle cx="487.5" cy="168.5" r="2.1"/>
<circle cx="474.8" cy="197.6" r="2.4"/>
<circle cx="486.5" cy="181.2" r="2.2"/>
<circle cx="472.1" cy="170.2" r="2.3"/>
<circle cx="485.1" cy="196.2" r="2"/>
<circle cx="490.5" cy="179.1" r="2.3"/>
<circle cx="518.1" cy="211.1" r="2"/>
<circle cx="516.2" cy="194.9" r="2.2"/>
<circle cx="506.6" cy="195.6" r="2.1"/>
<circle cx="476.5" cy="197.3" r="2.3"/>
<circle cx="506.8" cy="197.8" r="2.3"/>
<circle cx="512.3" cy="217.2" r="2.3"/>
<circle cx="525.1" cy="177.5" r="2"/>
<circle cx="475.5" cy="201.2" r="2.3"/>
<circle cx="470.2" cy="174.7" r="2.1"/>
<circle cx="521.8" cy="180.1" r="2.5"/>
<circle cx="519.8" cy="193.4" r="2.3"/>
<circle cx="484" cy="195.3" r="2.3"/>
<circle cx="490" cy="181.2" r="2.3"/>
<circle cx="519.2" cy="196.1" r="2"/>
<circle cx="501.6" cy="212.3" r="1.9"/>
<circle cx="521.3" cy="179.8" r="2.2"/>
<circle cx="468.2" cy="184.4" r="2"/>
<circle cx="491.1" cy="199.1" r="2.4"/>
<circle cx="502.1" cy="207.9" r="2"/>
<circle cx="499.7" cy="204.3" r="2.1"/>
<circle cx="521.5" cy="190.5" r="2"/>
<circle cx="529.7" cy="180" r="2.4"/>
<circle cx="521.4" cy="214.8" r="2.2"/>
<circle cx="482" cy="207.9" r="2.2"/>
<circle cx="517.5" cy="209.3" r="2.4"/>
<circle cx="472.2" cy="168" r="1.9"/>
<circle cx="492.6" cy="190.4" r="2.4"/>
<circle cx="470.4" cy="175.7" r="2.4"/>
<circle cx="507.9" cy="206.5" r="1.9"/>
<circle cx="520.4" cy="192.6" r="2.3"/>
<circle cx="507.4" cy="205.6" r="1.9"/>
<circle cx="491.5" cy="172.5" r="2.2"/>
<circle cx="488.8" cy="171.1" r="2.3"/>
<circle cx="501.2" cy="203.4" r="2"/>
<circle cx="493.1" cy="190.1" r="2.2"/>
<circle cx="475.4" cy="203.9" r="2"/>
<circle cx="480.3" cy="197.3" r="2.4"/>
<circle cx="485.9" cy="199.6" r="2.1"/>
<circle cx="499.9" cy="207" r="2.4"/>
<circle cx="511.6" cy="216.2" r="2.1"/>
<circle cx="527.7" cy="177.1" r="2.2"/>
<circle cx="494.1" cy="180.8" r="2.1"/>
<circle cx="520.2" cy="193.8" r="2"/>
<circle cx="518.3" cy="196.9" r="2.4"/>
<circle cx="469.8" cy="178" r="2.4"/>
<circle cx="469.2" cy="180.8" r="2.4"/>
<circle cx="498.7" cy="206.7" r="2.1"/>
<circle cx="500.9" cy="196.4" r="2.4"/>
<circle cx="495.5" cy="211.7" r="2.4"/>
<circle cx="493.6" cy="183.7" r="2.2"/>
<circle cx="469.1" cy="186" r="2.3"/>
<circle cx="498.3" cy="210.8" r="2.3"/>
<circle cx="491.4" cy="190.2" r="2.1"/>
<circle cx="513.4" cy="218.1" r="2.4"/>
<circle cx="488.9" cy="199.8" r="2.2"/>
<circle cx="515.8" cy="195.4" r="2.1"/>
<circle cx="504.9" cy="206.7" r="2.2"/>
<circle cx="472.2" cy="169.1" r="2.3"/>
<circle cx="503.6" cy="196" r="2.3"/>
<circle cx="513.8" cy="185.5" r="2.2"/>
<circle cx="496.6" cy="206.9" r="2.1"/>
<circle cx="491.2" cy="180.5" r="2.5"/>
<circle cx="512.7" cy="219.7" r="2.4"/>
<circle cx="474.6" cy="203.9" r="2"/>
<circle cx="480" cy="205.9" r="2.1"/>
<circle cx="517.3" cy="202.5" r="2.1"/>
<circle cx="493.1" cy="173.3" r="2.3"/>
<circle cx="484" cy="177.1" r="2.4"/>
<circle cx="495.4" cy="187" r="2"/>
<circle cx="480.1" cy="204.9" r="2.3"/>
<circle cx="476.2" cy="194.3" r="2"/>
<circle cx="471.2" cy="173.4" r="1.9"/>
<circle cx="479.1" cy="188.7" r="2.5"/>
<circle cx="490.1" cy="186.7" r="2.3"/>
<circle cx="496" cy="175.1" r="2.3"/>
<circle cx="477.4" cy="197.7" r="2.1"/>
<circle cx="530.7" cy="177.8" r="2.4"/>
<circle cx="498" cy="175.9" r="1.9"/>
<circle cx="484.7" cy="178.8" r="2.1"/>
<circle cx="489.6" cy="169.8" r="2.4"/>
<circle cx="491" cy="187.8" r="2.4"/>
<circle cx="481.4" cy="185.7" r="2.4"/>
<circle cx="476.6" cy="204.3" r="2.2"/>
<circle cx="520" cy="203" r="2.5"/>
<circle cx="516.7" cy="178.4" r="1.9"/>
<circle cx="519.9" cy="194.3" r="2"/>
<circle cx="478" cy="194.9" r="2"/>
<circle cx="516" cy="186.8" r="2"/>
<circle cx="500.1" cy="197" r="2.4"/>
<circle cx="527.9" cy="179.4" r="2"/>
<circle cx="481.9" cy="207.2" r="2.1"/>
<circle cx="520.1" cy="197.2" r="1.9"/>
<circle cx="476.3" cy="198" r="1.9"/>
<circle cx="497.4" cy="201.4" r="1.9"/>
<circle cx="478.2" cy="186.5" r="2.4"/>
<circle cx="521" cy="205.4" r="2.1"/>
<circle cx="491.7" cy="201.1" r="2"/>
<circle cx="480" cy="194.8" r="2.4"/>
<circle cx="484.8" cy="180" r="2.1"/>
<circle cx="519.7" cy="212.6" r="2.4"/>
<circle cx="501.3" cy="200.3" r="2"/>
<circle cx="488.9" cy="169.7" r="2"/>
<circle cx="487.4" cy="198.1" r="2.1"/>
<circle cx="502.7" cy="212.2" r="2.1"/>
<circle cx="498.9" cy="197.8" r="2"/>
<circle cx="515.6" cy="184.2" r="2.2"/>
<circle cx="507.2" cy="198" r="2.1"/>
<circle cx="478.3" cy="196.4" r="1.9"/>
<circle cx="486.8" cy="200.8" r="2.4"/>
<circle cx="518.2" cy="204.5" r="2.1"/>
<circle cx="471.9" cy="186" r="2.2"/>
<circle cx="478.7" cy="194" r="2.5"/>
<circle cx="519.5" cy="197.8" r="1.9"/>
<circle cx="477.6" cy="204.2" r="2.5"/>
<circle cx="480.9" cy="186.8" r="2.5"/>
<circle cx="481.6" cy="193.7" r="2.3"/>
<circle cx="470.5" cy="171.2" r="2.3"/>
<circle cx="484.4" cy="188.7" r="2.2"/>
<circle cx="487.8" cy="206.2" r="2.3"/>
<circle cx="487.1" cy="177.6" r="2.4"/>
<circle cx="491.3" cy="201.7" r="2.2"/>
<circle cx="522.2" cy="213" r="2.1"/>
<circle cx="506.4" cy="197.6" r="2.2"/>
<circle cx="498.8" cy="205.8" r="2.5"/>
<circle cx="497.5" cy="172" r="2.2"/>
<circle cx="524.2" cy="204" r="2"/>
<circle cx="516.2" cy="181" r="2.4"/>
<circle cx="509.1" cy="207.6" r="2.3"/>
<circle cx="484.6" cy="178.2" r="2.2"/>
<circle cx="515.8" cy="180.1" r="2"/>
<circle cx="500.4" cy="200.1" r="2.4"/>
<circle cx="497.6" cy="205.6" r="2.4"/>
<circle cx="519.9" cy="190.1" r="2.4"/>
<circle cx="494.3" cy="192.4" r="1.9"/>
<circle cx="489" cy="172" r="2.2"/>
<circle cx="487.6" cy="208.4" r="2.5"/>
<circle cx="521" cy="199.9" r="2.3"/>
<circle cx="501.1" cy="203.3" r="2.1"/>
<circle cx="478.1" cy="187.6" r="2.5"/>
<circle cx="475.8" cy="202.5" r="2.1"/>
<circle cx="485.3" cy="204.6" r="1.9"/>
<circle cx="499.4" cy="196.8" r="2.2"/>
<circle cx="486" cy="188.1" r="2"/>
<circle cx="489.8" cy="188" r="2.4"/>
<circle cx="486.5" cy="207.4" r="1.9"/>
<circle cx="471.7" cy="186.4" r="2.4"/>
<circle cx="512" cy="216.4" r="2.4"/>
<circle cx="478.5" cy="189.1" r="2"/>
<circle cx="477.1" cy="205.6" r="2.1"/>
<circle cx="497.5" cy="197.4" r="2.5"/>
<circle cx="493.6" cy="187.8" r="2.1"/>
<circle cx="519" cy="197" r="2.4"/>
<circle cx="495.2" cy="171.4" r="2.1"/>
<circle cx="487.5" cy="209.5" r="2.1"/>
<circle cx="481.5" cy="187.8" r="2.4"/>
<circle cx="517.1" cy="192.9" r="2.3"/>
<circle cx="485.7" cy="206.1" r="2.4"/>
<circle cx="521.5" cy="198.1" r="2.2"/>
<circle cx="506.8" cy="202.7" r="2"/>
<circle cx="518.5" cy="192" r="2.4"/>
<circle cx="481.3" cy="199.4" r="2.5"/>
<circle cx="523" cy="180.4" r="2.4"/>
<circle cx="470.7" cy="172.9" r="2.2"/>
<circle cx="488.8" cy="187.1" r="2.1"/>
<circle cx="471.3" cy="178.6" r="2.2"/>
<circle cx="477.5" cy="197.1" r="2.3"/>
<circle cx="469.7" cy="169.6" r="2.1"/>
<circle cx="476.3" cy="203.8" r="2.4"/>
<circle cx="483" cy="184.9" r="2.2"/>
<circle cx="522.6" cy="204.3" r="2.1"/>
<circle cx="480.2" cy="194.9" r="2.2"/>
<circle cx="519.4" cy="197.9" r="2.3"/>
<circle cx="485.8" cy="180.1" r="2.1"/>
<circle cx="489.8" cy="195.7" r="2.1"/>
<circle cx="469.4" cy="184.4" r="2.3"/>
<circle cx="504.2" cy="198.9" r="2.2"/>
<circle cx="496.8" cy="211.3" r="2.2"/>
<circle cx="491.1" cy="169.9" r="2.4"/>
<circle cx="511.4" cy="220" r="2"/>
<circle cx="517.3" cy="178.3" r="2.3"/>
<circle cx="518.8" cy="201.8" r="2"/>
<circle cx="476" cy="195.9" r="2.2"/>
<circle cx="517.3" cy="192" r="2.1"/>
<circle cx="519.4" cy="188.5" r="2"/>
<circle cx="476.9" cy="195.6" r="2"/>
<circle cx="493.7" cy="171.6" r="2.1"/>
<circle cx="506.2" cy="205" r="2.2"/>
<circle cx="496.7" cy="206.7" r="2.1"/>
<circle cx="482.8" cy="176.9" r="2.5"/>
<circle cx="469.4" cy="170.1" r="2.2"/>
<circle cx="484.1" cy="200.5" r="2.1"/>
<circle cx="518.7" cy="212" r="2.2"/>
<circle cx="526.9" cy="177.9" r="2.4"/>
<circle cx="491.8" cy="197.5" r="2.3"/>
<circle cx="515.7" cy="188.5" r="2.3"/>
<circle cx="470.2" cy="174.1" r="2.3"/>
<circle cx="487.2" cy="187.9" r="2"/>
<circle cx="470.6" cy="169.1" r="2"/>
<circle cx="502.5" cy="197.3" r="2.2"/>
<circle cx="511.9" cy="221.7" r="2"/>
<circle cx="515.5" cy="187.7" r="2.5"/>
<circle cx="518.9" cy="193.2" r="2.3"/>
<circle cx="487.3" cy="189.8" r="2.1"/>
<circle cx="494.4" cy="210.4" r="2.5"/>
<circle cx="487.9" cy="197.3" r="2"/>
<circle cx="495.1" cy="189.1" r="2.5"/>
<circle cx="487.2" cy="209.1" r="1.9"/>
<circle cx="479.4" cy="189.8" r="2.1"/>
<circle cx="494.6" cy="211.4" r="2"/>
<circle cx="476.9" cy="203.6" r="2.3"/>
<circle cx="493.7" cy="180.3" r="2.1"/>
<circle cx="483.2" cy="178.9" r="1.9"/>
<circle cx="518.8" cy="195.5" r="2"/>
<circle cx="491.6" cy="169.6" r="2.3"/>
<circle cx="498.4" cy="175.3" r="2.3"/>
<circle cx="481.7" cy="206.1" r="2.1"/>
<circle cx="482.6" cy="178" r="2"/>
<circle cx="522.4" cy="198.5" r="2.1"/>
<circle cx="527.1" cy="179.5" r="2.2"/>
<circle cx="517.9" cy="180.6" r="2.5"/>
<circle cx="487.8" cy="202.4" r="2.2"/>
<circle cx="522.4" cy="178.2" r="1.9"/>
<circle cx="523.2" cy="203.3" r="2.4"/>
<circle cx="493.8" cy="181.3" r="2.4"/>
<circle cx="483.9" cy="196.2" r="2.5"/>
<circle cx="470.7" cy="182.3" r="2.3"/>
<circle cx="512" cy="203.3" r="2.5"/>
<circle cx="483.8" cy="198.5" r="2"/>
<circle cx="478.1" cy="186.4" r="2.4"/>
<circle cx="520.9" cy="213.8" r="2.4"/>
<circle cx="524.7" cy="179.1" r="2"/>
<circle cx="512.2" cy="203.6" r="2.3"/>
<circle cx="494.7" cy="174.7" r="2.2"/>
<circle cx="521.2" cy="203.1" r="2.3"/>
<circle cx="521" cy="200.7" r="2.5"/>
<circle cx="483.9" cy="185" r="2"/>
<circle cx="488.2" cy="170" r="2.1"/>
<circle cx="519.6" cy="209.1" r="2.1"/>
<circle cx="510.2" cy="203.8" r="2.2"/>
<circle cx="518.7" cy="192.3" r="2.3"/>
<circle cx="470" cy="179.8" r="2"/>
<circle cx="498.3" cy="200.5" r="2.2"/>
<circle cx="519.5" cy="202.6" r="2.2"/>
<circle cx="524.4" cy="202.8" r="2.3"/>
<circle cx="474.8" cy="203.7" r="2.4"/>
<circle cx="492.4" cy="197.8" r="2.5"/>
<circle cx="502.8" cy="206.2" r="2.1"/>
<circle cx="499.6" cy="211.6" r="2.1"/>
<circle cx="500" cy="198.3" r="2.1"/>
<circle cx="514" cy="222.5" r="2.2"/>
<circle cx="499.4" cy="174.7" r="2.5"/>
<circle cx="519.9" cy="179.7" r="2"/>
<circle cx="499.6" cy="204" r="2"/>
<circle cx="498.9" cy="198.9" r="2.2"/>
<circle cx="521.6" cy="190.8" r="2.2"/>
<circle cx="482.8" cy="188.8" r="2.4"/>
<circle cx="482.2" cy="178.8" r="2.4"/>
<circle cx="494.6" cy="211.3" r="2.3"/>
<circle cx="477" cy="195.2" r="2.4"/>
<circle cx="477.6" cy="193.1" r="2.5"/>
<circle cx="472" cy="170.2" r="2"/>
<circle cx="478.8" cy="204.7" r="2.3"/>
<circle cx="477.5" cy="189.8" r="2.2"/>
<circle cx="513.4" cy="215.4" r="2.1"/>
<circle cx="494" cy="191.1" r="1.9"/>
<circle cx="505.9" cy="199.4" r="2.2"/>
<circle cx="519.1" cy="180.3" r="2.2"/>
<circle cx="521.5" cy="189.8" r="2.2"/>
<circle cx="495.8" cy="211" r="2.1"/>
<circle cx="483.1" cy="187.3" r="2.2"/>
<circle cx="517.8" cy="193.1" r="2.1"/>
<circle cx="468.1" cy="173.9" r="2.1"/>
<circle cx="489" cy="195.9" r="2.3"/>
<circle cx="485.5" cy="177.1" r="2.3"/>
<circle cx="486.6" cy="167.4" r="2.1"/>
</g>
<polyline fill="none" stroke="#5048c8" stroke-opacity="0.8" stroke-width="0.95" stroke-linejoin="round" points="474.5,164.2 474.9,164.4 475.7,164.1 476.1,164.3 476.8,164.2 477.7,164.1 478.3,164.1 479.2,164 480,164 480.3,164.6 480.9,164.6 481.4,164.9 481.9,165.2 481.9,165.9 482.2,166.7 482.1,167.2 482.2,168 482.6,168.4 482.6,169.4 482.7,170.4 482.3,170.7 482.4,171.4 482.2,171.9 481.9,172.5 481.6,172.7 481,173.3 480.5,173.4 480.2,173.4 479.1,173.3 478.7,173.5 478.1,173.2 477.1,173.3 477,173.9 476.7,174.4 476.1,175.1 476.2,175.3 475.9,176.1 476,176.6 475.5,177.2 475.7,178.1 475.7,178.7 475.5,179.5 475.6,179.9 475.4,180.5 475.5,181.6 476,182.3 476,182.8 476.3,183.4 476.6,183.9 477.1,184.4"/>
<polyline fill="none" stroke="#5048c8" stroke-opacity="0.8" stroke-width="0.95" stroke-linejoin="round" points="460.4,192.8 461.1,192.7 461.4,192.9 461.9,193.2 462.3,193.4 463,194.1 463.9,194.1 464.7,194.5 465.4,194.7 465.9,194.7 466.6,194.9 467,194.6 467.5,194.4 468.2,194.2 468.6,194.3 468.9,193.9 469.4,193.6 470.2,193 470.8,192.8 471.4,192.4 471.9,192 472.2,192 472.9,191.9 473.5,191.3 474.4,191.4 475,191.4 475.6,190.9 476.7,190.8 477.4,190.8 478.1,190.5 478.6,190.5 479,190.5 479.8,190.2 480.1,190.4"/>
<polyline fill="none" stroke="#5048c8" stroke-opacity="0.8" stroke-width="0.95" stroke-linejoin="round" points="500.9,190.6 500.5,190.7 500.4,191.3 500.1,192.2 499.7,192.8 499.2,193.6 499.4,194.3 499.1,195 499.5,195.2 499.9,195.9 500.6,196.2 501,196.4 501.7,197 502.5,197.5 502.7,197.8 503.1,198.5 503.5,199 503.8,199.3 503.6,199.6 503.4,200.3 503.2,201.1 503,201.7 502.6,202.1 501.9,202.5 501.2,203.2 501,203.4 500.8,203.9"/>
<polyline fill="none" stroke="#5048c8" stroke-opacity="0.8" stroke-width="0.95" stroke-linejoin="round" points="515.8,197.6 516,198.1 516.6,198.1 517.2,198.4 517.6,198.9 518,198.9 518.8,199.3 519.4,200 519.7,200.5 520.3,200.9 520.4,201.1 520.8,201.6 521.5,202.3 521.9,203 522,203.5 522.3,204.2 522.4,204.8 522.7,205.5 523,205.8 523.4,206.3 523.2,206.9 522.9,207.7 522.5,208.2 522.2,208.9 521.1,209.4 520.6,209.6 520.1,210"/>
<polyline fill="none" stroke="#5048c8" stroke-opacity="0.8" stroke-width="0.95" stroke-linejoin="round" points="464.9,182 465.2,182.2 465.6,182.5 465.8,183.2 465.9,183.5 466.1,184.1 466.7,185 467.3,185.6 467.7,185.7 467.7,186.5 468.3,187.3 468.8,187.9 468.8,188.4 469.2,188.7 469.7,189.5 470.1,190 470.3,190.5 470.9,191 471.3,191.8 471.5,192.2 471.9,192.7 472.5,193.7 472.5,193.9 472.8,194.6 473.4,195 473.8,195.4 473.6,195.6 473.8,196.2"/>
</g>
<text x="444.0" y="241.4" font-size="15.6" font-weight="bold" fill="#000">480 ns</text>
<rect x="566.5" y="132.5" width="117" height="117" fill="#fff" stroke="#8ea09d" stroke-width="1.3"/>
<clipPath id="cp5"><rect x="567.2" y="133.2" width="115.6" height="115.6"/></clipPath>
<g clip-path="url(#cp5)">
<polyline fill="none" stroke="#5048c8" stroke-opacity="0.8" stroke-width="0.95" stroke-linejoin="round" points="596.9,172 596.8,171.5 597.1,171.4 597.1,170.4 597.1,169.8 596.8,169.6 597.2,168.5 597.3,168.2 597.2,167.2 597.2,166.5 597.3,166 597.4,165.4 597.7,164.7 597.7,163.9 598.1,163.6 598.1,162.9 598.5,162.3 599.2,161.5 599.6,161.2 600.1,160.9 600.3,160.6 600.7,160.2 601.7,159.9 602.5,159.4 603.3,159.2 603.7,159.3 604.3,159.1 604.8,159.5 605.5,159.9 605.5,160.4 605.5,161 605.7,161.5"/>
<polyline fill="none" stroke="#5048c8" stroke-opacity="0.8" stroke-width="0.95" stroke-linejoin="round" points="615.8,155.5 616.3,155.1 617.3,155 618,154.5 618.4,154.4 619.4,154.7 619.9,155 620.2,155.4 620.6,156.4 621,156.7 620.3,157.5 620,157.7 619.5,158.2 618.7,158.8 618.3,159.1 617.5,159.8 617.5,160.2 618,160.5 618.2,160.7 619.1,160.8 619.5,161.1 620.2,161.4 620.9,161.4 621.8,161.6 622.2,161.8 623,161.5 623.7,161 624.1,160.8"/>
<polyline fill="none" stroke="#5048c8" stroke-opacity="0.8" stroke-width="0.95" stroke-linejoin="round" points="594.6,213.3 594.6,213.5 594.8,214 594.9,214.9 595.2,215.2 595.6,216 596,216.5 596,217.4 596.4,217.9 596.9,218.8 597.5,219 597.9,219.5 598.4,220 598.6,220.6 599.3,220.7 599.6,221.5 600.4,221.6 601.1,222.1 601.5,222 602.4,222.3 603.1,222.8 603.4,223 604.3,222.8 604.5,222.8 605.5,222.8 606.1,222.9 606.6,222.6 607.4,222.3 608,222.1 608.9,221.9 609.5,221.6 610,221.5 610.3,221.1 611.1,220.8 611.7,220.4 612,219.9 612.4,219.3 613.1,218.8 613.5,218.5 613.5,218.1"/>
<polyline fill="none" stroke="#5048c8" stroke-opacity="0.8" stroke-width="0.95" stroke-linejoin="round" points="605.9,191.2 606.2,191.3 606.7,191.1 607.1,191.2 608,191.5 608.6,191.9 609.3,192.3 609.8,192.2 610.2,192.6 610.9,193.3 611.3,193.6 611.8,194.2 612.3,194.4 612.9,195.1 612.9,195.6 613.2,196.4 613.6,197 613.4,197.4 613.4,198 613.6,198.5 613.2,199.2 612.8,199.6 612.4,200.4 612,200.7 611.3,201.4 610.8,201.5 610.4,202.3 610.1,202.8 609.3,203.3 608.9,203.3 608,204.1 607.4,204.3 606.9,204.6 606.7,204.8 606.1,205.4 605.7,205.3"/>
<polyline fill="none" stroke="#5048c8" stroke-opacity="0.8" stroke-width="0.95" stroke-linejoin="round" points="629.5,192.9 629.8,192.7 630.5,193.1 631,193.5 631.5,193.7 632,193.8 632.7,194 633.6,194.6 634.2,195.1 634.9,195.3 635.3,195.4 635.8,196.1 636.5,196.4 636.7,197 637.2,197.8 637.1,198.2 637.3,198.8 637.8,199.4 637.4,199.9 637.3,200.9 637.3,201.4 637.3,201.8 636.8,202.3 636.2,202.5 635.7,203 635.3,203.9 635.1,204.1 634.5,204.7 634.1,205.5 634,205.9 633.7,206.5 633.6,207.6 633.6,208.2 633.5,208.8 633.5,209.7 633,210.4 633,210.8 633.1,211.5 632.8,211.7 632.2,212.3 631.5,213.1 630.7,213.4 629.9,213.5 629.3,213.2 629.1,213 628.4,212.5 628.2,211.8 627.9,210.8 627.7,210.2 628.3,209.6 628.9,209.6 629.6,208.9 630.4,208.6 631.2,208.5"/>
<polyline fill="none" stroke="#5048c8" stroke-opacity="0.8" stroke-width="0.95" stroke-linejoin="round" points="646.9,202.4 647.1,201.9 647.6,201.6 648,201.3 648.2,200.5 648.6,200.1 649.3,199.5 650,199.1 650.4,198.8 650.7,198.3 651.3,197.9 651.9,197.5 652.3,197 653.2,196.9 653.5,196.5 654.5,196.2 655,196.2 655.6,195.8 656.2,195.7 656.8,195.9 657.5,195.9 658.2,196.3 658.8,196.6 659.6,197.1 659.8,197.4"/>
<polyline fill="none" stroke="#5048c8" stroke-opacity="0.8" stroke-width="0.95" stroke-linejoin="round" points="664.5,199 664.9,199.3 665.5,199.1 666.3,199.3 666.9,199.6 667.5,199.5 668.5,199.9 668.9,200 669.5,200.3 670.5,200.5 671,200.9 671.4,201 672,201.4 672.4,202.1 673.1,202.7 673.4,203.2 673.4,203.8 673.7,204.3 673.8,204.8 673.9,205.5 673.9,206.1 673.6,206.3 673.6,207.1 673.3,207.6 673,208.6 672.8,208.9 672.5,209.9 671.8,210.2 671.4,211 671.2,211.1 671,212 670.4,212.6 670.1,212.9 669.5,213.7 669,213.9 668.6,214.3 667.9,214.5 667.5,214.9"/>
<polyline fill="none" stroke="#5048c8" stroke-opacity="0.8" stroke-width="0.95" stroke-linejoin="round" points="623,160.7 623.2,160.6 623.9,159.8 623.8,159.1 624.4,158.3 625,157.7 625.6,157.4 626,157.1 627,156.9 627.6,157.1 627.7,157.1"/>
<polyline fill="none" stroke="#5048c8" stroke-opacity="0.8" stroke-width="0.95" stroke-linejoin="round" points="619.2,188.2 619.4,188.2 619.6,188.8 620.2,189.2 620.8,189.8 621,189.9 621.8,190.9 622,191.2 622.7,192.1 622.9,192.7 622.9,193 622.8,193.8 622.8,194.3 622.3,195 622.2,195.7 621.6,196.1 621.2,196.6 620.4,197.1 620.3,197.4 620,198.1"/>
<g fill="url(#gr)">
<circle cx="662.2" cy="211" r="2.2"/>
<circle cx="665.5" cy="209" r="2"/>
<circle cx="616.3" cy="213.5" r="2.2"/>
<circle cx="602.2" cy="174.4" r="2"/>
<circle cx="626.7" cy="160.9" r="2.2"/>
<circle cx="610.1" cy="179.8" r="2.5"/>
<circle cx="628.4" cy="165.5" r="1.9"/>
<circle cx="615.5" cy="208.2" r="2.3"/>
<circle cx="655.9" cy="191.3" r="2.3"/>
<circle cx="590.3" cy="186.6" r="2.2"/>
<circle cx="646.8" cy="193.4" r="2.2"/>
<circle cx="612.5" cy="204.7" r="2.2"/>
<circle cx="612.6" cy="167.4" r="2.2"/>
<circle cx="609.7" cy="203.3" r="2.3"/>
<circle cx="601.7" cy="211.5" r="2.3"/>
<circle cx="630.2" cy="176.8" r="1.9"/>
<circle cx="665.1" cy="201.4" r="2"/>
<circle cx="618.6" cy="177.4" r="2.1"/>
<circle cx="623.6" cy="192.1" r="2.1"/>
<circle cx="621.3" cy="197.9" r="2.1"/>
<circle cx="594.7" cy="181.7" r="2.4"/>
<circle cx="647" cy="192.6" r="2.2"/>
<circle cx="627.4" cy="186.6" r="2.3"/>
<circle cx="663.8" cy="204.4" r="2.2"/>
<circle cx="624" cy="191.2" r="2.3"/>
<circle cx="590.2" cy="184" r="2.2"/>
<circle cx="611.7" cy="204.4" r="2.4"/>
<circle cx="659.1" cy="188.4" r="2.1"/>
<circle cx="614.5" cy="217.6" r="2"/>
<circle cx="614.4" cy="177.9" r="2"/>
<circle cx="611" cy="177.5" r="2.2"/>
<circle cx="646.4" cy="192.4" r="1.9"/>
<circle cx="613.2" cy="169" r="2.3"/>
<circle cx="608.3" cy="202.6" r="2.4"/>
<circle cx="627.3" cy="185.2" r="2.2"/>
<circle cx="606.3" cy="202.6" r="2.3"/>
<circle cx="615.5" cy="178.7" r="1.9"/>
<circle cx="665.5" cy="210.5" r="2"/>
<circle cx="660.6" cy="204.1" r="2.4"/>
<circle cx="662.6" cy="209.1" r="2.4"/>
<circle cx="613.4" cy="184.2" r="2.3"/>
<circle cx="619.2" cy="186.7" r="2.1"/>
<circle cx="658.6" cy="192.3" r="2.2"/>
<circle cx="649.4" cy="189" r="2.1"/>
<circle cx="617.5" cy="169.4" r="2.5"/>
<circle cx="645" cy="205.6" r="2.1"/>
<circle cx="600.1" cy="175.3" r="2.5"/>
<circle cx="646.3" cy="201.6" r="2.2"/>
<circle cx="627.5" cy="176.3" r="2"/>
<circle cx="627.6" cy="161.3" r="2.3"/>
<circle cx="625.6" cy="190.4" r="2.3"/>
<circle cx="602.3" cy="205.9" r="2.2"/>
<circle cx="623.1" cy="194.4" r="2.2"/>
<circle cx="663.5" cy="212.5" r="2.4"/>
<circle cx="600.4" cy="213.9" r="2.3"/>
<circle cx="643.5" cy="205.1" r="2.2"/>
<circle cx="667.1" cy="211.2" r="2.1"/>
<circle cx="614.5" cy="201" r="2.4"/>
<circle cx="649.1" cy="189.3" r="1.9"/>
<circle cx="590.4" cy="185" r="2"/>
<circle cx="644.1" cy="195.9" r="2"/>
<circle cx="665.1" cy="201.9" r="2.1"/>
<circle cx="627.8" cy="162.8" r="2.3"/>
<circle cx="628.3" cy="153.3" r="2.1"/>
<circle cx="642.9" cy="193.2" r="1.9"/>
<circle cx="612.6" cy="179.6" r="2.4"/>
<circle cx="626.7" cy="185.9" r="2.4"/>
<circle cx="600.9" cy="209.1" r="2.1"/>
<circle cx="609.2" cy="207.2" r="2.1"/>
<circle cx="630.5" cy="158.3" r="2.2"/>
<circle cx="594.4" cy="183.6" r="2.2"/>
<circle cx="661" cy="209.2" r="2.3"/>
<circle cx="615.1" cy="199.5" r="1.9"/>
<circle cx="616.9" cy="216.8" r="2"/>
<circle cx="659.5" cy="191.4" r="2.4"/>
<circle cx="621.5" cy="171.3" r="2.4"/>
<circle cx="624.9" cy="168.4" r="2.4"/>
<circle cx="609.8" cy="176.8" r="2"/>
<circle cx="616.1" cy="208.3" r="2"/>
<circle cx="655.1" cy="189.5" r="2.1"/>
<circle cx="626.2" cy="189.6" r="2.4"/>
<circle cx="626.8" cy="168.5" r="2.4"/>
<circle cx="627.1" cy="176.5" r="2.1"/>
<circle cx="621.2" cy="185.7" r="2"/>
<circle cx="610.7" cy="202.7" r="2.3"/>
<circle cx="661.3" cy="205.6" r="2.1"/>
<circle cx="645.6" cy="195.6" r="2.3"/>
<circle cx="613.8" cy="176.9" r="2.1"/>
<circle cx="620.5" cy="172.2" r="2.4"/>
<circle cx="593.8" cy="183.7" r="2.1"/>
<circle cx="667.2" cy="200.5" r="2.5"/>
<circle cx="614.6" cy="206.7" r="1.9"/>
<circle cx="618.7" cy="185.4" r="2.3"/>
<circle cx="590.6" cy="184.6" r="2.5"/>
<circle cx="601.6" cy="209.9" r="2"/>
<circle cx="622.1" cy="200.7" r="2.1"/>
<circle cx="627.5" cy="158.2" r="2"/>
<circle cx="618.2" cy="186.9" r="2.4"/>
<circle cx="663.3" cy="201" r="1.9"/>
<circle cx="612" cy="178.4" r="2.4"/>
<circle cx="654.7" cy="189" r="2.4"/>
<circle cx="598.3" cy="211.5" r="2.3"/>
<circle cx="615.1" cy="215" r="2.2"/>
<circle cx="599.8" cy="176.5" r="2.2"/>
<circle cx="667.3" cy="210.2" r="2.1"/>
<circle cx="625.9" cy="191.5" r="2.3"/>
<circle cx="660.7" cy="206.4" r="2.1"/>
<circle cx="614.2" cy="168.4" r="2"/>
<circle cx="614.8" cy="171.4" r="2.3"/>
<circle cx="598.1" cy="176.9" r="2.3"/>
<circle cx="657.6" cy="189.1" r="2.2"/>
<circle cx="616.1" cy="214.9" r="2.5"/>
<circle cx="619.4" cy="196.1" r="2.5"/>
<circle cx="599.8" cy="212.2" r="2.2"/>
<circle cx="598.3" cy="176" r="2.2"/>
<circle cx="628.6" cy="177.3" r="2.2"/>
<circle cx="643.4" cy="195.1" r="1.9"/>
<circle cx="618.8" cy="177" r="2.3"/>
<circle cx="667.6" cy="198.3" r="2.2"/>
<circle cx="619.8" cy="177.8" r="2.4"/>
<circle cx="649.3" cy="191.5" r="2"/>
<circle cx="646.3" cy="194.4" r="2.1"/>
<circle cx="621.1" cy="172.6" r="2"/>
<circle cx="623.4" cy="194.1" r="2.1"/>
<circle cx="614.4" cy="214.7" r="2.4"/>
<circle cx="627.9" cy="175.7" r="2"/>
<circle cx="609.5" cy="207.1" r="2"/>
<circle cx="655.2" cy="190.5" r="2.1"/>
<circle cx="644.2" cy="202.4" r="2.1"/>
<circle cx="628.8" cy="155.4" r="2.3"/>
<circle cx="616.3" cy="169.7" r="2"/>
<circle cx="646.5" cy="194.4" r="1.9"/>
<circle cx="629" cy="162.7" r="2.5"/>
<circle cx="606.9" cy="208.1" r="2"/>
<circle cx="606.9" cy="207.3" r="2"/>
<circle cx="627.2" cy="170.7" r="2.1"/>
<circle cx="611.5" cy="201" r="2.3"/>
<circle cx="621" cy="179.2" r="1.9"/>
<circle cx="623.6" cy="190.9" r="2.2"/>
<circle cx="595" cy="179.4" r="2.1"/>
<circle cx="626.3" cy="174.9" r="2.3"/>
<circle cx="645.4" cy="202.5" r="2"/>
<circle cx="657.2" cy="192.6" r="2.5"/>
<circle cx="627.6" cy="159.7" r="2.4"/>
<circle cx="627.4" cy="166.9" r="2.2"/>
<circle cx="626" cy="173" r="2.1"/>
<circle cx="630" cy="160.8" r="2.3"/>
<circle cx="651.1" cy="191.9" r="1.9"/>
<circle cx="659.5" cy="209.1" r="2.4"/>
<circle cx="599.9" cy="212.4" r="2.5"/>
<circle cx="621.6" cy="178.4" r="2.4"/>
<circle cx="663" cy="209.1" r="2.2"/>
<circle cx="644.3" cy="204.2" r="2.1"/>
<circle cx="626.9" cy="193.4" r="2"/>
<circle cx="589.3" cy="184.8" r="2.1"/>
<circle cx="618.3" cy="176.7" r="2.2"/>
<circle cx="615.9" cy="184.8" r="2.2"/>
<circle cx="614.1" cy="172.6" r="1.9"/>
<circle cx="653.7" cy="187" r="2.4"/>
<circle cx="629.3" cy="174.9" r="2.4"/>
<circle cx="619.5" cy="198.2" r="2"/>
<circle cx="599.9" cy="176.7" r="2.2"/>
<circle cx="626" cy="186.8" r="2"/>
<circle cx="618.2" cy="202.2" r="2"/>
<circle cx="626.2" cy="175" r="2"/>
<circle cx="625" cy="178.3" r="2.2"/>
<circle cx="667.8" cy="201.6" r="2.1"/>
<circle cx="606.7" cy="207.8" r="2.2"/>
<circle cx="614.8" cy="175.6" r="2.3"/>
<circle cx="612.2" cy="169.1" r="2.4"/>
<circle cx="616.8" cy="175.9" r="2.2"/>
<circle cx="642.2" cy="194.3" r="2"/>
<circle cx="627.1" cy="167.4" r="2"/>
<circle cx="618.7" cy="169.4" r="2.4"/>
<circle cx="602.1" cy="175.4" r="2.3"/>
<circle cx="629.2" cy="178.3" r="2.2"/>
<circle cx="645.3" cy="199.2" r="2.4"/>
<circle cx="626.9" cy="171" r="1.9"/>
<circle cx="596" cy="179" r="2.4"/>
<circle cx="617.7" cy="170.9" r="2.4"/>
<circle cx="618.2" cy="180" r="2.4"/>
<circle cx="613.9" cy="184.1" r="2.2"/>
<circle cx="628.2" cy="192.6" r="2.5"/>
<circle cx="620.1" cy="186" r="2.4"/>
<circle cx="607.7" cy="208.6" r="2.2"/>
<circle cx="620.7" cy="169.1" r="1.9"/>
<circle cx="630.2" cy="174.9" r="2.1"/>
<circle cx="658.5" cy="209.2" r="2"/>
<circle cx="609" cy="204.9" r="2.4"/>
<circle cx="614.9" cy="183.3" r="2.3"/>
<circle cx="666.5" cy="202.5" r="2"/>
<circle cx="622.8" cy="169.8" r="2.1"/>
<circle cx="644.9" cy="199.2" r="2.3"/>
<circle cx="625.4" cy="189.1" r="2.2"/>
<circle cx="624.1" cy="186.7" r="2.2"/>
<circle cx="616.6" cy="176.8" r="2.3"/>
<circle cx="620.6" cy="170.3" r="2"/>
<circle cx="600.8" cy="176.6" r="1.9"/>
<circle cx="626.5" cy="188.6" r="2"/>
<circle cx="615.3" cy="199.6" r="2.2"/>
<circle cx="620.7" cy="177.8" r="2.2"/>
<circle cx="628.7" cy="192" r="2.2"/>
<circle cx="625.1" cy="185.8" r="2.1"/>
<circle cx="630.8" cy="177.5" r="2.5"/>
<circle cx="654.4" cy="189.6" r="2.2"/>
<circle cx="628.2" cy="156" r="2.3"/>
<circle cx="604" cy="211.1" r="2.1"/>
<circle cx="661.9" cy="208.5" r="2.1"/>
<circle cx="658.2" cy="211.9" r="2"/>
<circle cx="612.7" cy="206.7" r="2.3"/>
<circle cx="652.4" cy="187.8" r="2.5"/>
<circle cx="652.7" cy="191" r="2.2"/>
<circle cx="609.6" cy="202.1" r="2.3"/>
<circle cx="628.8" cy="154.2" r="2.2"/>
<circle cx="623.9" cy="187" r="2.4"/>
<circle cx="643.1" cy="192.5" r="2.3"/>
<circle cx="653" cy="188.3" r="2.2"/>
<circle cx="659.8" cy="204.5" r="2.4"/>
<circle cx="624.9" cy="179.4" r="2.5"/>
<circle cx="617.4" cy="184.8" r="2.1"/>
<circle cx="666" cy="211.7" r="2.3"/>
<circle cx="623.5" cy="169" r="2.3"/>
<circle cx="629.8" cy="155.9" r="2.2"/>
<circle cx="589.6" cy="185.4" r="2.1"/>
<circle cx="611.8" cy="177.4" r="2.4"/>
<circle cx="651.7" cy="190.1" r="2.1"/>
<circle cx="606.7" cy="204.2" r="2.1"/>
<circle cx="616.1" cy="217.7" r="2.2"/>
<circle cx="621.5" cy="187.3" r="2.1"/>
<circle cx="622.4" cy="177.3" r="2.3"/>
<circle cx="620.1" cy="201.3" r="2.4"/>
<circle cx="626.8" cy="170.4" r="2.4"/>
<circle cx="619.1" cy="194.3" r="2"/>
<circle cx="614.9" cy="212.5" r="2.5"/>
<circle cx="616.4" cy="217.5" r="2.3"/>
<circle cx="628.1" cy="185.9" r="1.9"/>
<circle cx="627" cy="165.3" r="2.2"/>
<circle cx="621.9" cy="192.9" r="2.2"/>
<circle cx="604.2" cy="210" r="2"/>
<circle cx="643.8" cy="193.9" r="2.2"/>
<circle cx="627.7" cy="192.6" r="2.5"/>
<circle cx="597.5" cy="177.9" r="1.9"/>
<circle cx="613.6" cy="176.3" r="2.5"/>
<circle cx="647.8" cy="192.9" r="2.3"/>
<circle cx="663.1" cy="212.8" r="2"/>
<circle cx="658.9" cy="212.4" r="2.2"/>
<circle cx="665.9" cy="203.6" r="2.1"/>
<circle cx="611.8" cy="169.9" r="2.5"/>
<circle cx="615.3" cy="169.7" r="2.1"/>
<circle cx="665.8" cy="212.9" r="2.1"/>
<circle cx="616.9" cy="200.6" r="2.2"/>
<circle cx="660.6" cy="204.7" r="2"/>
<circle cx="665.4" cy="204.4" r="2.1"/>
<circle cx="659.2" cy="211.2" r="2.1"/>
<circle cx="612.5" cy="168.5" r="2.4"/>
<circle cx="662.8" cy="210.5" r="2.4"/>
<circle cx="615.7" cy="199.1" r="2.4"/>
<circle cx="651.8" cy="187.7" r="2.5"/>
<circle cx="627" cy="189.1" r="2.2"/>
<circle cx="623.8" cy="174.8" r="1.9"/>
<circle cx="620.9" cy="179.2" r="2.2"/>
<circle cx="614.1" cy="217" r="2.3"/>
<circle cx="604.2" cy="210.6" r="2.1"/>
<circle cx="594.6" cy="181.4" r="2.4"/>
<circle cx="619" cy="169.1" r="2.5"/>
<circle cx="614.4" cy="205.8" r="2.1"/>
<circle cx="658.9" cy="203.7" r="2.3"/>
<circle cx="611.7" cy="175.4" r="2"/>
<circle cx="627.4" cy="191" r="2.1"/>
<circle cx="612.9" cy="205.9" r="2.4"/>
<circle cx="613.7" cy="168.2" r="2.1"/>
<circle cx="658.7" cy="190.7" r="2.4"/>
<circle cx="611.7" cy="180.9" r="2.3"/>
<circle cx="611.7" cy="200.4" r="2.1"/>
<circle cx="626.5" cy="171.8" r="2.3"/>
<circle cx="593" cy="184.2" r="2.4"/>
<circle cx="596.4" cy="179.4" r="2.1"/>
<circle cx="615.6" cy="216.6" r="2.2"/>
<circle cx="607.7" cy="208.1" r="2"/>
<circle cx="590.8" cy="186.7" r="2.4"/>
<circle cx="626.8" cy="188.7" r="2"/>
<circle cx="600.5" cy="211.8" r="2.1"/>
<circle cx="615.2" cy="203" r="2.2"/>
<circle cx="644.6" cy="192.2" r="2.1"/>
<circle cx="629.2" cy="175.9" r="2.2"/>
<circle cx="643" cy="200.9" r="2"/>
<circle cx="616.2" cy="186" r="2.1"/>
<circle cx="656.7" cy="188.4" r="1.9"/>
<circle cx="591.5" cy="184" r="2.3"/>
<circle cx="615.9" cy="202.7" r="2.2"/>
<circle cx="665.4" cy="199.6" r="2"/>
<circle cx="645.3" cy="195.5" r="2.4"/>
<circle cx="613.5" cy="184.5" r="1.9"/>
<circle cx="615.8" cy="209.4" r="2.5"/>
<circle cx="647.8" cy="189.5" r="2.1"/>
<circle cx="605" cy="207.6" r="2.1"/>
<circle cx="620.2" cy="197" r="1.9"/>
<circle cx="617.1" cy="185.8" r="1.9"/>
<circle cx="625.8" cy="184.1" r="2.5"/>
<circle cx="628.5" cy="156.4" r="2.3"/>
<circle cx="616.9" cy="216.5" r="1.9"/>
<circle cx="629" cy="177.6" r="2.1"/>
<circle cx="655.5" cy="189.8" r="2.1"/>
<circle cx="625.8" cy="167.7" r="2.2"/>
<circle cx="628.3" cy="164.2" r="2.5"/>
<circle cx="624.1" cy="178.6" r="2.1"/>
<circle cx="655.1" cy="187" r="2.2"/>
<circle cx="666.4" cy="212.6" r="2.4"/>
<circle cx="620.4" cy="200.1" r="2.3"/>
<circle cx="644.8" cy="202.4" r="2.2"/>
<circle cx="644.3" cy="206.4" r="2"/>
<circle cx="614.8" cy="168.2" r="2.5"/>
<circle cx="625.1" cy="195.7" r="2.3"/>
<circle cx="622.7" cy="179.6" r="1.9"/>
<circle cx="627.5" cy="168" r="2.1"/>
<circle cx="626.3" cy="176.5" r="2.2"/>
<circle cx="616" cy="168.6" r="2.2"/>
<circle cx="622.6" cy="198.8" r="2.1"/>
<circle cx="604.5" cy="210.5" r="2.3"/>
<circle cx="622.8" cy="172.3" r="2.1"/>
<circle cx="614.1" cy="206.6" r="2.3"/>
<circle cx="627.5" cy="187.4" r="2.1"/>
<circle cx="667.3" cy="201.5" r="2.1"/>
<circle cx="615.5" cy="202.6" r="2.5"/>
<circle cx="616.5" cy="210.9" r="2.2"/>
<circle cx="614.1" cy="202.1" r="2.4"/>
<circle cx="662.7" cy="206.1" r="1.9"/>
<circle cx="621.5" cy="194.7" r="2.2"/>
<circle cx="660.2" cy="205.2" r="2"/>
<circle cx="630.7" cy="176.9" r="2.3"/>
<circle cx="603.7" cy="206.2" r="2.2"/>
<circle cx="615.9" cy="184.4" r="2.3"/>
<circle cx="617.6" cy="171.9" r="2.3"/>
<circle cx="618" cy="200.1" r="2.2"/>
<circle cx="591.6" cy="185.3" r="2.3"/>
<circle cx="613.2" cy="172.3" r="2"/>
<circle cx="617.4" cy="212.8" r="1.9"/>
<circle cx="669.1" cy="201.1" r="2.4"/>
<circle cx="657.9" cy="210.4" r="2.4"/>
<circle cx="619" cy="172.2" r="2"/>
<circle cx="613.3" cy="207.8" r="2"/>
<circle cx="653.4" cy="190.3" r="2.4"/>
<circle cx="619.4" cy="175.7" r="2.3"/>
<circle cx="616.6" cy="218.1" r="2.3"/>
<circle cx="616.2" cy="199.4" r="2.2"/>
<circle cx="627.1" cy="186.7" r="2.5"/>
<circle cx="625" cy="187.4" r="2.5"/>
<circle cx="614.4" cy="207.9" r="2.2"/>
<circle cx="627.4" cy="169.8" r="2.3"/>
<circle cx="630.6" cy="176.5" r="2"/>
<circle cx="664.1" cy="202.3" r="2.2"/>
<circle cx="592.4" cy="182.9" r="2.4"/>
<circle cx="631.5" cy="180" r="2"/>
<circle cx="590.8" cy="183.5" r="2.2"/>
<circle cx="604.5" cy="211.3" r="2.1"/>
<circle cx="641.9" cy="194" r="2.3"/>
<circle cx="616.7" cy="211.1" r="2.5"/>
<circle cx="664.4" cy="210.2" r="2"/>
<circle cx="621.5" cy="172" r="1.9"/>
<circle cx="630.2" cy="157.6" r="2"/>
<circle cx="660.2" cy="202" r="2.2"/>
<circle cx="600.7" cy="174.7" r="2.1"/>
<circle cx="625.4" cy="193.7" r="2.3"/>
<circle cx="665.3" cy="201.8" r="2.2"/>
<circle cx="662.2" cy="204.9" r="2.1"/>
<circle cx="613.1" cy="186.1" r="2.2"/>
<circle cx="626.5" cy="188.3" r="2.2"/>
<circle cx="618.2" cy="186.5" r="2"/>
<circle cx="604" cy="210.3" r="2.5"/>
<circle cx="628.7" cy="176.6" r="2.3"/>
<circle cx="625.9" cy="187.8" r="2"/>
<circle cx="619.8" cy="179.2" r="2"/>
<circle cx="615" cy="209.8" r="2.2"/>
<circle cx="658.6" cy="210.3" r="2.4"/>
<circle cx="662.1" cy="205" r="2.4"/>
<circle cx="610.3" cy="178.9" r="1.9"/>
<circle cx="616.5" cy="198.1" r="2"/>
<circle cx="613" cy="200.4" r="2.4"/>
<circle cx="629.2" cy="155.9" r="2.4"/>
<circle cx="624.9" cy="172.6" r="2.3"/>
<circle cx="645.2" cy="201.2" r="2.3"/>
<circle cx="650.3" cy="188.8" r="2.2"/>
<circle cx="624.2" cy="190.6" r="2"/>
<circle cx="605.3" cy="204.4" r="2.1"/>
<circle cx="625.9" cy="165.1" r="2.4"/>
<circle cx="617.3" cy="202.9" r="2"/>
<circle cx="661" cy="209.5" r="2.2"/>
<circle cx="627.8" cy="185.6" r="1.9"/>
<circle cx="596.6" cy="181.2" r="2.3"/>
<circle cx="623.3" cy="198.2" r="2.5"/>
<circle cx="614.8" cy="208.8" r="2"/>
<circle cx="603.4" cy="213.3" r="2"/>
<circle cx="622.6" cy="186.9" r="2"/>
<circle cx="601.1" cy="176.2" r="2.2"/>
<circle cx="626.2" cy="195" r="2.1"/>
<circle cx="614.5" cy="185.6" r="2.4"/>
<circle cx="627.8" cy="189.2" r="2.1"/>
<circle cx="656.9" cy="187.2" r="2"/>
<circle cx="627.4" cy="169.4" r="2"/>
<circle cx="602.7" cy="214.4" r="2"/>
<circle cx="617.1" cy="176.9" r="2.1"/>
<circle cx="626.9" cy="190.2" r="1.9"/>
<circle cx="650.4" cy="189.6" r="2.5"/>
<circle cx="622.4" cy="197.3" r="1.9"/>
<circle cx="658.2" cy="189.4" r="2.3"/>
<circle cx="659.3" cy="210.9" r="2"/>
<circle cx="627" cy="177.9" r="2.2"/>
<circle cx="619.1" cy="200" r="2.4"/>
<circle cx="617.5" cy="177.6" r="2.4"/>
<circle cx="591.1" cy="183.3" r="2.4"/>
<circle cx="644.3" cy="196.1" r="2.2"/>
<circle cx="624.4" cy="171.1" r="2"/>
<circle cx="611.9" cy="205" r="2.4"/>
<circle cx="641.7" cy="193.1" r="2.4"/>
<circle cx="623.3" cy="197.8" r="2.1"/>
<circle cx="623.8" cy="177.1" r="2.3"/>
<circle cx="623.9" cy="172.3" r="2"/>
<circle cx="602.4" cy="212.6" r="2.3"/>
<circle cx="618.3" cy="196.9" r="1.9"/>
<circle cx="662.2" cy="201.2" r="2.2"/>
<circle cx="598.1" cy="179.2" r="2"/>
<circle cx="658.5" cy="188.3" r="2.1"/>
<circle cx="629.8" cy="174.9" r="2"/>
<circle cx="647.6" cy="194.2" r="2.2"/>
<circle cx="623.3" cy="195.8" r="2"/>
<circle cx="644.2" cy="206.5" r="2.2"/>
<circle cx="624.1" cy="178" r="2.4"/>
<circle cx="613.5" cy="169.9" r="2.3"/>
<circle cx="631.2" cy="178.9" r="2.2"/>
<circle cx="654.9" cy="189.8" r="2"/>
<circle cx="648.9" cy="189.1" r="2.2"/>
<circle cx="614.3" cy="175.6" r="2.4"/>
<circle cx="624.2" cy="170.4" r="2.2"/>
<circle cx="616" cy="206.7" r="2"/>
<circle cx="626.7" cy="163.8" r="2.4"/>
<circle cx="614.5" cy="212.3" r="2.2"/>
<circle cx="613" cy="199.7" r="2.1"/>
<circle cx="616" cy="177.5" r="1.9"/>
<circle cx="625" cy="175.3" r="2.2"/>
<circle cx="615.9" cy="176.5" r="2.2"/>
<circle cx="602.3" cy="175.2" r="2.4"/>
<circle cx="622.3" cy="175.6" r="2.1"/>
<circle cx="601.1" cy="175" r="2.1"/>
<circle cx="602.3" cy="174.3" r="2"/>
<circle cx="610.8" cy="206.6" r="2"/>
<circle cx="652.7" cy="191.4" r="2.4"/>
<circle cx="611.5" cy="206.3" r="2.5"/>
<circle cx="617.2" cy="169.9" r="1.9"/>
<circle cx="597.5" cy="180.1" r="2"/>
<circle cx="607.6" cy="205.2" r="2"/>
<circle cx="623.4" cy="171.2" r="2.4"/>
<circle cx="653.5" cy="187.3" r="2.4"/>
<circle cx="617.2" cy="218.1" r="2.2"/>
<circle cx="628.1" cy="153.4" r="2"/>
<circle cx="627.1" cy="176.3" r="2"/>
<circle cx="628.3" cy="179.9" r="1.9"/>
<circle cx="622.4" cy="186.8" r="2.2"/>
<circle cx="656.9" cy="192.3" r="2.4"/>
<circle cx="628.3" cy="164.4" r="2"/>
<circle cx="625.7" cy="187.3" r="2"/>
<circle cx="615.9" cy="170.5" r="2"/>
<circle cx="629.6" cy="154.6" r="2.3"/>
<circle cx="649.6" cy="193" r="2.1"/>
<circle cx="661.3" cy="208.7" r="2.1"/>
<circle cx="622.7" cy="176" r="1.9"/>
<circle cx="643.1" cy="205.9" r="2.2"/>
<circle cx="626.2" cy="173.5" r="2.5"/>
<circle cx="619.3" cy="201.5" r="2.1"/>
<circle cx="623.5" cy="186.2" r="2.2"/>
<circle cx="645.9" cy="203.9" r="1.9"/>
<circle cx="649.7" cy="191.9" r="2.4"/>
<circle cx="610.4" cy="206.5" r="2"/>
<circle cx="614.2" cy="202.2" r="2.1"/>
<circle cx="627.5" cy="168.9" r="2.4"/>
<circle cx="667.3" cy="198.9" r="2"/>
<circle cx="612.1" cy="201.2" r="2"/>
<circle cx="630.8" cy="179.5" r="2.1"/>
<circle cx="666.8" cy="212.6" r="2.3"/>
<circle cx="645.3" cy="199" r="2.4"/>
<circle cx="598.2" cy="177.4" r="2.4"/>
<circle cx="657.8" cy="190.8" r="2.3"/>
<circle cx="625.9" cy="169.5" r="2.1"/>
<circle cx="612.7" cy="175.5" r="2.2"/>
<circle cx="611.5" cy="171.3" r="2.4"/>
<circle cx="645.1" cy="193.4" r="2.3"/>
<circle cx="666.2" cy="214.1" r="2.2"/>
<circle cx="647.2" cy="191" r="2.4"/>
<circle cx="658.3" cy="208.8" r="2"/>
<circle cx="643.8" cy="199.4" r="2.2"/>
<circle cx="645.3" cy="197.1" r="2"/>
<circle cx="619.6" cy="172.2" r="2.4"/>
<circle cx="644" cy="199.3" r="2.2"/>
<circle cx="652.9" cy="189" r="2"/>
<circle cx="594.7" cy="179.3" r="2.4"/>
<circle cx="658.4" cy="212" r="2.5"/>
<circle cx="601.2" cy="210.7" r="2.3"/>
<circle cx="619" cy="199.7" r="2.4"/>
<circle cx="607.4" cy="207.7" r="2.3"/>
<circle cx="660.6" cy="209.2" r="2.5"/>
<circle cx="603" cy="214.5" r="2"/>
<circle cx="668.7" cy="201.6" r="2.4"/>
<circle cx="626.8" cy="170.7" r="2.4"/>
<circle cx="609.4" cy="203.8" r="2.3"/>
<circle cx="594.2" cy="183" r="2"/>
<circle cx="620.4" cy="198.5" r="2.2"/>
<circle cx="611" cy="177.4" r="2.4"/>
<circle cx="607.5" cy="203" r="2.2"/>
<circle cx="627.8" cy="158.4" r="2.3"/>
<circle cx="598.3" cy="179.1" r="2.2"/>
<circle cx="601.6" cy="206" r="2.1"/>
<circle cx="665" cy="210.2" r="2.2"/>
<circle cx="663.9" cy="210.7" r="2.4"/>
<circle cx="619" cy="171.3" r="2.4"/>
<circle cx="625.2" cy="169.2" r="2"/>
<circle cx="611.2" cy="179.8" r="2.3"/>
<circle cx="591.7" cy="186.5" r="2.1"/>
<circle cx="645.4" cy="204" r="2.2"/>
<circle cx="601" cy="210.9" r="1.9"/>
<circle cx="625.5" cy="193" r="2"/>
<circle cx="629.7" cy="155" r="2.1"/>
<circle cx="627.9" cy="156.2" r="2.2"/>
<circle cx="644" cy="200" r="2.1"/>
<circle cx="610.3" cy="180" r="2.4"/>
<circle cx="652.2" cy="186.1" r="2"/>
<circle cx="602" cy="174.3" r="2.5"/>
<circle cx="629" cy="160.4" r="2.4"/>
<circle cx="625.7" cy="172.8" r="2.2"/>
<circle cx="667.9" cy="201" r="2.1"/>
<circle cx="627" cy="166.8" r="2.5"/>
<circle cx="613.8" cy="176.7" r="2.3"/>
<circle cx="613" cy="180.5" r="2.1"/>
<circle cx="623.7" cy="172" r="2.3"/>
<circle cx="611.8" cy="171.3" r="2"/>
<circle cx="658.3" cy="191" r="2.2"/>
<circle cx="600.8" cy="174.4" r="2.4"/>
<circle cx="613" cy="185.3" r="2.2"/>
<circle cx="604.1" cy="207.8" r="2.4"/>
<circle cx="614.4" cy="184.7" r="2.1"/>
<circle cx="665.1" cy="212.3" r="2.1"/>
<circle cx="658.7" cy="208.8" r="2.3"/>
<circle cx="623.3" cy="193.2" r="2.2"/>
<circle cx="630.3" cy="158" r="2.1"/>
<circle cx="616.2" cy="215.7" r="2.5"/>
<circle cx="603.6" cy="204.5" r="2.2"/>
<circle cx="628" cy="163.3" r="1.9"/>
<circle cx="612.3" cy="203" r="2"/>
<circle cx="667.2" cy="200.4" r="1.9"/>
<circle cx="602.3" cy="175.6" r="2.4"/>
<circle cx="616.8" cy="186.8" r="2"/>
<circle cx="666.1" cy="213.2" r="2.2"/>
<circle cx="615.7" cy="200.7" r="2.4"/>
<circle cx="616.1" cy="176.2" r="2"/>
<circle cx="612.4" cy="177.8" r="2.1"/>
<circle cx="663" cy="200.4" r="2.1"/>
<circle cx="606.1" cy="207.2" r="2.1"/>
<circle cx="612.5" cy="168.2" r="2.3"/>
<circle cx="624.7" cy="189.6" r="2.3"/>
<circle cx="622.2" cy="186.5" r="2"/>
<circle cx="611.7" cy="175.2" r="2.3"/>
<circle cx="615.5" cy="214.1" r="2.1"/>
<circle cx="625.6" cy="176.3" r="2"/>
<circle cx="628.6" cy="154" r="2"/>
<circle cx="594.1" cy="183.6" r="2.2"/>
<circle cx="600.9" cy="213.1" r="2.4"/>
<circle cx="600.3" cy="210.3" r="2"/>
<circle cx="623.8" cy="193.4" r="2.4"/>
<circle cx="624.7" cy="169" r="2.2"/>
<circle cx="628.5" cy="189.4" r="2.5"/>
<circle cx="614.9" cy="210.2" r="2.5"/>
<circle cx="643.4" cy="205.4" r="2.4"/>
<circle cx="601.2" cy="212.1" r="2.3"/>
<circle cx="610.9" cy="178.4" r="2.3"/>
<circle cx="603.8" cy="208.2" r="2.4"/>
<circle cx="620.8" cy="194.9" r="2.4"/>
<circle cx="614.8" cy="211.4" r="2.4"/>
<circle cx="612.9" cy="183.7" r="2.1"/>
<circle cx="626.8" cy="187.7" r="2.4"/>
<circle cx="604.3" cy="206.2" r="2.4"/>
<circle cx="619.9" cy="186.7" r="2"/>
<circle cx="595.6" cy="182.2" r="1.9"/>
<circle cx="651.6" cy="187.7" r="2.3"/>
<circle cx="620.2" cy="178.3" r="2.2"/>
<circle cx="648.4" cy="193.4" r="2.2"/>
<circle cx="622.2" cy="195.4" r="2.2"/>
<circle cx="630.2" cy="159.6" r="2.2"/>
<circle cx="647.1" cy="191.1" r="2"/>
<circle cx="621.3" cy="169.5" r="2.4"/>
<circle cx="661.8" cy="201.2" r="2.4"/>
<circle cx="606.9" cy="203.2" r="2"/>
<circle cx="614.5" cy="180" r="2.2"/>
<circle cx="616" cy="170" r="1.9"/>
<circle cx="628.7" cy="162" r="2.2"/>
<circle cx="599.4" cy="178.4" r="2.1"/>
<circle cx="659.9" cy="204.4" r="2"/>
<circle cx="617" cy="199" r="2.3"/>
<circle cx="654.2" cy="187.2" r="2.2"/>
<circle cx="626.9" cy="166.2" r="2"/>
<circle cx="601.4" cy="213.9" r="2.2"/>
<circle cx="666.7" cy="202.7" r="2.2"/>
<circle cx="625.9" cy="171.9" r="1.9"/>
<circle cx="621.3" cy="187" r="2.2"/>
<circle cx="662.2" cy="203.2" r="2.2"/>
<circle cx="614.3" cy="205.8" r="1.9"/>
<circle cx="615.2" cy="207.5" r="1.9"/>
</g>
<polyline fill="none" stroke="#5048c8" stroke-opacity="0.8" stroke-width="0.95" stroke-linejoin="round" points="605.9,179.4 605.7,179.8 605.2,180.1 604.8,180.6 604.7,180.9 604.2,181.3 604,182.2 603.7,182.8 603,183.2 602.5,184.3 602.7,184.9 602.1,185.4 602,186.1 601.9,186.5 602.1,186.9 601.6,187.7 601.5,188.5 601.6,189 601.8,189.7 601.7,190.2 601.4,190.8 601.3,191.6 601.1,192.1 600.7,192.9 600.7,193.5 600.2,193.8 600.4,194.6 599.7,195.3 599.8,195.8 599.2,196.2 598.7,196.8 598.9,197.5 598.2,197.9 598,198.4 597.9,199 597.6,199.6 597,200.3 596.7,200.6 596.5,201.6 596,201.7 595.4,202.7 595.1,203.1 595.2,203.6 594.7,204.3 594.7,204.7 594.7,205.2 594.3,206.1 594.5,206.9 594.4,207.5 594.7,208 594.9,209 595.2,209.3 595.5,210.2 595.8,210.6 595.9,211 596.2,211.9 596.4,212.4 596.9,213.2 597.1,213.9 597.7,214.2 598.2,214.7 598.8,214.7 599.1,215 600.1,215.2 600.3,215 601.4,214.9 601.7,214.5 602.8,213.9 603.1,213.8 603.5,213.7 604.2,213.5"/>
<polyline fill="none" stroke="#5048c8" stroke-opacity="0.8" stroke-width="0.95" stroke-linejoin="round" points="632.8,178.6 633,178.7 633.9,178.4 634.3,178.9 634.8,179 635.9,178.8 636.4,179.1 637.3,179.5 637.8,179.6 638.5,179.6 639.3,179.8 639.5,180.4 640.1,180.7 640.5,181.5 640.5,182.1 640.8,182.4 641.1,183.1 641.6,183.9 642.1,184.4 642.3,185 642.5,185.2 643.3,185.6 643.9,186 644.4,186.7 645.1,186.8 645.3,187.6 645.3,187.9 645.4,188.7 644.8,189.3 644.4,189.7 644.1,190.5 643.5,190.7 642.9,191 642.6,191 641.8,190.7 640.9,190.3 640.1,189.8 639.8,189.7 639.8,188.7 639.8,188.2 640.1,187.5 640.7,186.8 640.5,186.2"/>
<polyline fill="none" stroke="#5048c8" stroke-opacity="0.8" stroke-width="0.95" stroke-linejoin="round" points="645.2,208.7 645.6,208.6 646.5,208.7 647,208.6 647.7,209 648.4,209.2 649.3,209.3 649.8,209.6 650.8,209.8 651.4,210 651.6,210.4 652.2,210.3 652.5,210.8 652.9,211.3 653.4,211.9 653.7,212.4 653.8,213.1 654.4,213.8 654.5,214.6 654.8,215 655.3,215.7 655.6,216.3 655.9,216.8 656.3,217.7 656.5,218.1 656.5,219.1 657.2,219.5 657.5,220.3 657.4,220.7 657.8,220.8 657.9,221.4 658.8,221.4 659.3,221 660.1,220.7 660.9,219.9 661.3,219.8"/>
<polyline fill="none" stroke="#5048c8" stroke-opacity="0.8" stroke-width="0.95" stroke-linejoin="round" points="606.8,180.8 607.2,181.6 607.2,182.1 607.5,182.5 607.7,183.4 607.8,184.1 608,184.6 608.2,185.6 608.3,185.9 608.8,186.4 609.5,187 609.7,187.7 610.4,187.8 611,188.2 611,188.8 611.6,188.9"/>
</g>
<text x="569.8" y="241.4" font-size="15.6" font-weight="bold" fill="#000">600 ns</text>
</svg>
</body></html>
